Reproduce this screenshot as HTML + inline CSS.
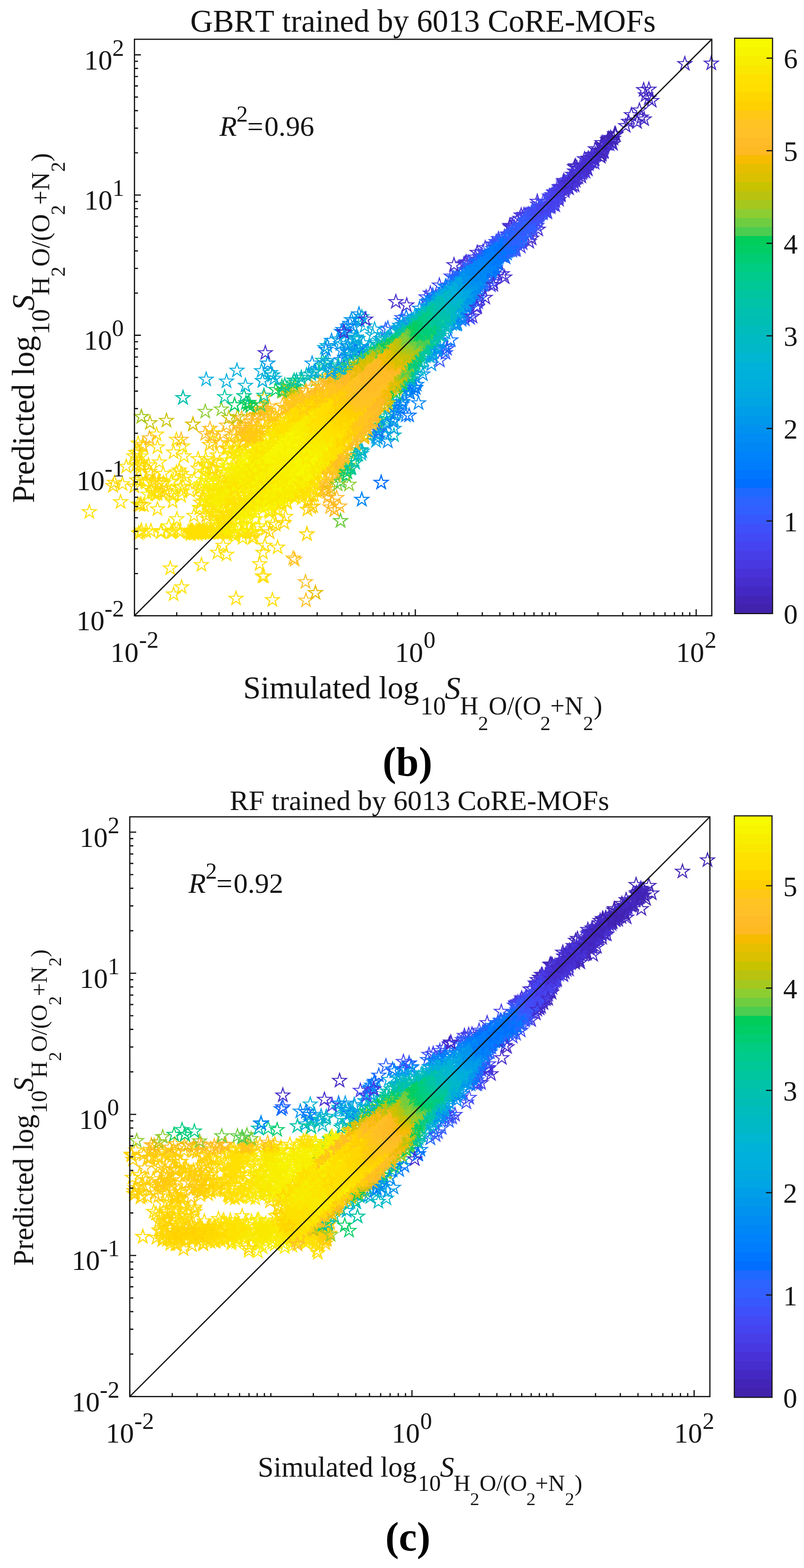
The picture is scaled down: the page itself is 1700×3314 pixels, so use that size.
<!DOCTYPE html>
<html><head><meta charset="utf-8"><title>GBRT and RF parity plots</title>
<style>html,body{margin:0;padding:0;background:#fff;}svg{display:block;}text{font-family:'Liberation Serif', 'Times New Roman', serif;font-kerning:none;fill:#141414;}</style></head><body>
<svg width="1700" height="3314" viewBox="0 0 1700 3314">
<defs><path id="st" d="M0.00,-15.40L3.46,-4.76L14.65,-4.76L5.59,1.82L9.05,12.46L0.00,5.88L-9.05,12.46L-5.59,1.82L-14.65,-4.76L-3.46,-4.76Z" fill="none" stroke-width="2.2" stroke-miterlimit="10"/></defs>
<text x="402.27" y="67.40" font-size="66.6">GBRT trained by 6013 CoRE-MOFs</text>
<defs>
<marker id="am0" markerUnits="userSpaceOnUse" overflow="visible" markerWidth="1" markerHeight="1"><use href="#st" stroke="#4022ac"/></marker>
<marker id="am1" markerUnits="userSpaceOnUse" overflow="visible" markerWidth="1" markerHeight="1"><use href="#st" stroke="#4224b6"/></marker>
<marker id="am2" markerUnits="userSpaceOnUse" overflow="visible" markerWidth="1" markerHeight="1"><use href="#st" stroke="#4428c3"/></marker>
<marker id="am3" markerUnits="userSpaceOnUse" overflow="visible" markerWidth="1" markerHeight="1"><use href="#st" stroke="#462dcd"/></marker>
<marker id="am4" markerUnits="userSpaceOnUse" overflow="visible" markerWidth="1" markerHeight="1"><use href="#st" stroke="#4832d7"/></marker>
<marker id="am5" markerUnits="userSpaceOnUse" overflow="visible" markerWidth="1" markerHeight="1"><use href="#st" stroke="#4838e1"/></marker>
<marker id="am6" markerUnits="userSpaceOnUse" overflow="visible" markerWidth="1" markerHeight="1"><use href="#st" stroke="#483ee8"/></marker>
<marker id="am7" markerUnits="userSpaceOnUse" overflow="visible" markerWidth="1" markerHeight="1"><use href="#st" stroke="#4644f0"/></marker>
<marker id="am8" markerUnits="userSpaceOnUse" overflow="visible" markerWidth="1" markerHeight="1"><use href="#st" stroke="#424af5"/></marker>
<marker id="am9" markerUnits="userSpaceOnUse" overflow="visible" markerWidth="1" markerHeight="1"><use href="#st" stroke="#3e50fa"/></marker>
<marker id="am10" markerUnits="userSpaceOnUse" overflow="visible" markerWidth="1" markerHeight="1"><use href="#st" stroke="#3758fc"/></marker>
<marker id="am11" markerUnits="userSpaceOnUse" overflow="visible" markerWidth="1" markerHeight="1"><use href="#st" stroke="#325fff"/></marker>
<marker id="am12" markerUnits="userSpaceOnUse" overflow="visible" markerWidth="1" markerHeight="1"><use href="#st" stroke="#2d64ff"/></marker>
<marker id="am13" markerUnits="userSpaceOnUse" overflow="visible" markerWidth="1" markerHeight="1"><use href="#st" stroke="#1e69ff"/></marker>
<marker id="am14" markerUnits="userSpaceOnUse" overflow="visible" markerWidth="1" markerHeight="1"><use href="#st" stroke="#006eff"/></marker>
<marker id="am15" markerUnits="userSpaceOnUse" overflow="visible" markerWidth="1" markerHeight="1"><use href="#st" stroke="#0076ff"/></marker>
<marker id="am16" markerUnits="userSpaceOnUse" overflow="visible" markerWidth="1" markerHeight="1"><use href="#st" stroke="#007dfd"/></marker>
<marker id="am17" markerUnits="userSpaceOnUse" overflow="visible" markerWidth="1" markerHeight="1"><use href="#st" stroke="#0082fa"/></marker>
<marker id="am18" markerUnits="userSpaceOnUse" overflow="visible" markerWidth="1" markerHeight="1"><use href="#st" stroke="#0087f6"/></marker>
<marker id="am19" markerUnits="userSpaceOnUse" overflow="visible" markerWidth="1" markerHeight="1"><use href="#st" stroke="#008cf2"/></marker>
<marker id="am20" markerUnits="userSpaceOnUse" overflow="visible" markerWidth="1" markerHeight="1"><use href="#st" stroke="#0092ee"/></marker>
<marker id="am21" markerUnits="userSpaceOnUse" overflow="visible" markerWidth="1" markerHeight="1"><use href="#st" stroke="#0098eb"/></marker>
<marker id="am22" markerUnits="userSpaceOnUse" overflow="visible" markerWidth="1" markerHeight="1"><use href="#st" stroke="#009ee8"/></marker>
<marker id="am23" markerUnits="userSpaceOnUse" overflow="visible" markerWidth="1" markerHeight="1"><use href="#st" stroke="#00a5e4"/></marker>
<marker id="am24" markerUnits="userSpaceOnUse" overflow="visible" markerWidth="1" markerHeight="1"><use href="#st" stroke="#00aae1"/></marker>
<marker id="am25" markerUnits="userSpaceOnUse" overflow="visible" markerWidth="1" markerHeight="1"><use href="#st" stroke="#00aede"/></marker>
<marker id="am26" markerUnits="userSpaceOnUse" overflow="visible" markerWidth="1" markerHeight="1"><use href="#st" stroke="#00b0dc"/></marker>
<marker id="am27" markerUnits="userSpaceOnUse" overflow="visible" markerWidth="1" markerHeight="1"><use href="#st" stroke="#00b2d7"/></marker>
<marker id="am28" markerUnits="userSpaceOnUse" overflow="visible" markerWidth="1" markerHeight="1"><use href="#st" stroke="#00b6d0"/></marker>
<marker id="am29" markerUnits="userSpaceOnUse" overflow="visible" markerWidth="1" markerHeight="1"><use href="#st" stroke="#00b8c8"/></marker>
<marker id="am30" markerUnits="userSpaceOnUse" overflow="visible" markerWidth="1" markerHeight="1"><use href="#st" stroke="#00bac3"/></marker>
<marker id="am31" markerUnits="userSpaceOnUse" overflow="visible" markerWidth="1" markerHeight="1"><use href="#st" stroke="#00bcbc"/></marker>
<marker id="am32" markerUnits="userSpaceOnUse" overflow="visible" markerWidth="1" markerHeight="1"><use href="#st" stroke="#00beb4"/></marker>
<marker id="am33" markerUnits="userSpaceOnUse" overflow="visible" markerWidth="1" markerHeight="1"><use href="#st" stroke="#00c1af"/></marker>
<marker id="am34" markerUnits="userSpaceOnUse" overflow="visible" markerWidth="1" markerHeight="1"><use href="#st" stroke="#00c3a8"/></marker>
<marker id="am35" markerUnits="userSpaceOnUse" overflow="visible" markerWidth="1" markerHeight="1"><use href="#st" stroke="#00c6a0"/></marker>
<marker id="am36" markerUnits="userSpaceOnUse" overflow="visible" markerWidth="1" markerHeight="1"><use href="#st" stroke="#00c896"/></marker>
<marker id="am37" markerUnits="userSpaceOnUse" overflow="visible" markerWidth="1" markerHeight="1"><use href="#st" stroke="#00ca8c"/></marker>
<marker id="am38" markerUnits="userSpaceOnUse" overflow="visible" markerWidth="1" markerHeight="1"><use href="#st" stroke="#00cd82"/></marker>
<marker id="am39" markerUnits="userSpaceOnUse" overflow="visible" markerWidth="1" markerHeight="1"><use href="#st" stroke="#00cd73"/></marker>
<marker id="am40" markerUnits="userSpaceOnUse" overflow="visible" markerWidth="1" markerHeight="1"><use href="#st" stroke="#00cd64"/></marker>
<marker id="am41" markerUnits="userSpaceOnUse" overflow="visible" markerWidth="1" markerHeight="1"><use href="#st" stroke="#00cd5a"/></marker>
<marker id="am42" markerUnits="userSpaceOnUse" overflow="visible" markerWidth="1" markerHeight="1"><use href="#st" stroke="#4bcd50"/></marker>
<marker id="am43" markerUnits="userSpaceOnUse" overflow="visible" markerWidth="1" markerHeight="1"><use href="#st" stroke="#6ecd41"/></marker>
<marker id="am44" markerUnits="userSpaceOnUse" overflow="visible" markerWidth="1" markerHeight="1"><use href="#st" stroke="#8ccd32"/></marker>
<marker id="am45" markerUnits="userSpaceOnUse" overflow="visible" markerWidth="1" markerHeight="1"><use href="#st" stroke="#a5c81e"/></marker>
<marker id="am46" markerUnits="userSpaceOnUse" overflow="visible" markerWidth="1" markerHeight="1"><use href="#st" stroke="#b9c30f"/></marker>
<marker id="am47" markerUnits="userSpaceOnUse" overflow="visible" markerWidth="1" markerHeight="1"><use href="#st" stroke="#c8c300"/></marker>
<marker id="am48" markerUnits="userSpaceOnUse" overflow="visible" markerWidth="1" markerHeight="1"><use href="#st" stroke="#dac000"/></marker>
<marker id="am49" markerUnits="userSpaceOnUse" overflow="visible" markerWidth="1" markerHeight="1"><use href="#st" stroke="#e6be00"/></marker>
<marker id="am50" markerUnits="userSpaceOnUse" overflow="visible" markerWidth="1" markerHeight="1"><use href="#st" stroke="#f5bc00"/></marker>
<marker id="am51" markerUnits="userSpaceOnUse" overflow="visible" markerWidth="1" markerHeight="1"><use href="#st" stroke="#ffb923"/></marker>
<marker id="am52" markerUnits="userSpaceOnUse" overflow="visible" markerWidth="1" markerHeight="1"><use href="#st" stroke="#ffbc28"/></marker>
<marker id="am53" markerUnits="userSpaceOnUse" overflow="visible" markerWidth="1" markerHeight="1"><use href="#st" stroke="#ffc028"/></marker>
<marker id="am54" markerUnits="userSpaceOnUse" overflow="visible" markerWidth="1" markerHeight="1"><use href="#st" stroke="#ffc323"/></marker>
<marker id="am55" markerUnits="userSpaceOnUse" overflow="visible" markerWidth="1" markerHeight="1"><use href="#st" stroke="#ffc814"/></marker>
<marker id="am56" markerUnits="userSpaceOnUse" overflow="visible" markerWidth="1" markerHeight="1"><use href="#st" stroke="#ffd000"/></marker>
<marker id="am57" markerUnits="userSpaceOnUse" overflow="visible" markerWidth="1" markerHeight="1"><use href="#st" stroke="#ffd700"/></marker>
<marker id="am58" markerUnits="userSpaceOnUse" overflow="visible" markerWidth="1" markerHeight="1"><use href="#st" stroke="#ffde00"/></marker>
<marker id="am59" markerUnits="userSpaceOnUse" overflow="visible" markerWidth="1" markerHeight="1"><use href="#st" stroke="#ffe100"/></marker>
<marker id="am60" markerUnits="userSpaceOnUse" overflow="visible" markerWidth="1" markerHeight="1"><use href="#st" stroke="#fae800"/></marker>
<marker id="am61" markerUnits="userSpaceOnUse" overflow="visible" markerWidth="1" markerHeight="1"><use href="#st" stroke="#f8ee00"/></marker>
<marker id="am62" markerUnits="userSpaceOnUse" overflow="visible" markerWidth="1" markerHeight="1"><use href="#st" stroke="#f8f500"/></marker>
<marker id="am63" markerUnits="userSpaceOnUse" overflow="visible" markerWidth="1" markerHeight="1"><use href="#st" stroke="#f8fa00"/></marker>
</defs>
<polyline points="410,1014 437,987 577,1106 451,1042 313,1045 357,1112 549,1029 483,947 309,1020" fill="none" stroke="none" marker-start="url(#am61)" marker-mid="url(#am61)" marker-end="url(#am61)"/>
<polyline points="385,1039 387,1028 365,1048 462,1053 373,998 362,1019 323,1041 297,984 435,970 360,1042 450,1082 374,1097 441,1006 558,1055 292,1066 562,1061 363,1017 510,1069 490,1028 599,1049 608,1050 466,1072 451,915 386,943 501,1041 471,1053 514,991 586,999 498,952 562,1040 328,1045 298,964 297,1014 298,1066 293,956 470,1125 411,1128 340,1125 309,1123 428,1126 404,1122 420,1124 444,1127 454,1120 438,1124 410,1127 474,1124 365,1124 398,1124 417,1125 450,1124 478,1126 459,1125 452,1125 469,1124 419,1125 466,1125 405,1124 490,1126 443,1126 495,1125 428,1122" fill="none" stroke="none" marker-start="url(#am60)" marker-mid="url(#am60)" marker-end="url(#am60)"/>
<polyline points="536,1133 321,1019 383,1048 307,1018 255,1061 452,1044 442,1006 419,970 402,1038 365,1060 433,1037 301,986 457,1073 288,983 472,1066 373,929 431,1052 503,1025 333,1041 452,975 389,964 423,1030 333,1076 384,1001 345,1001 410,1090 189,1082 382,1030 259,1023 434,982 314,983 487,1037 392,1008 505,1028 459,1040 534,1014 449,992 494,984 578,1037 555,999 447,1002 475,1057 485,938 539,1076 505,983 501,1009 584,995 503,993 543,973 505,996 539,1051 584,994 544,979 500,960 590,969 522,1014 463,1049 491,1014 506,974 462,1060 292,937 304,1068 337,977 283,964 404,1127 341,1123 402,1122 427,1124 415,1122 419,1121 381,1125 431,1123 362,1125 480,1129 470,1122 511,1127 470,1125 418,1129 513,1124 477,1124 407,1123 424,1124 432,1124 368,1121 408,1125 299,1121 514,1125 475,1124 410,1126 451,1126 430,1122 423,1124 403,1129 422,1122 469,1125 421,1126 445,1125 451,1123 466,1122 522,1125 445,1124 437,1122 433,1124 319,1122 297,1125 469,1123 415,1126 439,1125 444,1123 377,1121 533,1124 473,1124 446,1123 510,1123 443,1123" fill="none" stroke="none" marker-start="url(#am59)" marker-mid="url(#am59)" marker-end="url(#am59)"/>
<polyline points="534,1137 562,1118 604,1092 651,1062 660,1048 464,978 577,1057 379,994 510,1066 367,956 341,1040 497,1062 470,1051 332,1044 336,1016 331,918 574,1053 511,922 346,1021 468,1013 535,1042 555,977 596,1042 463,1122 522,1043 461,1021 509,1035 419,990 501,1085 549,1007 459,962 510,1031 594,1021 591,987 550,977 510,1021 567,1069 559,965 547,997 490,1027 528,983 534,1018 540,985 501,1027 321,1037 287,957 333,945 267,986 319,1002 537,1124 422,1121 403,1125 530,1125 293,1127 424,1123 406,1121" fill="none" stroke="none" marker-start="url(#am58)" marker-mid="url(#am58)" marker-end="url(#am58)"/>
<polyline points="583,1109 601,1105 479,948 500,935 650,1077 651,1058 664,1047 670,1039 239,1027 478,1031 424,1062 242,1020 421,1034 326,1016 289,1015 623,956 534,1017 527,984 593,1055 451,992 518,1008 586,940 484,1021 594,1061 336,1022 303,944 298,977 297,982 284,1028" fill="none" stroke="none" marker-start="url(#am57)" marker-mid="url(#am57)" marker-end="url(#am57)"/>
<polyline points="570,1125 443,940 449,935 496,918 662,1070 512,904 522,914 677,1034 684,1036 351,1038 316,997 473,998 480,1020 530,1021 551,1058 543,927 296,1067" fill="none" stroke="none" marker-start="url(#am56)" marker-mid="url(#am56)" marker-end="url(#am56)"/>
<polyline points="465,936 658,1072 507,904 688,1023 436,1090 302,940" fill="none" stroke="none" marker-start="url(#am55)" marker-mid="url(#am55)" marker-end="url(#am55)"/>
<polyline points="488,924 518,916 516,899 534,897 539,890 690,1026 685,1020 565,874 711,990 724,973" fill="none" stroke="none" marker-start="url(#am54)" marker-mid="url(#am54)" marker-end="url(#am54)"/>
<polyline points="507,908 533,890 689,1033 543,877 553,878 562,875 560,868 566,867 713,991 729,969 738,956 628,831" fill="none" stroke="none" marker-start="url(#am53)" marker-mid="url(#am53)" marker-end="url(#am53)"/>
<polyline points="519,909 511,884 692,1040 539,880 691,1019 710,1003 569,859 709,1000 611,840 624,831" fill="none" stroke="none" marker-start="url(#am52)" marker-mid="url(#am52)" marker-end="url(#am52)"/>
<polyline points="558,863 710,1004 613,834 742,951 771,921" fill="none" stroke="none" marker-start="url(#am51)" marker-mid="url(#am51)" marker-end="url(#am51)"/>
<polyline points="625,824 770,924" fill="none" stroke="none" marker-start="url(#am50)" marker-mid="url(#am50)" marker-end="url(#am50)"/>
<polyline points="529,866 700,1033 541,865 719,1004 608,830 611,831 770,925 690,797 793,893 701,794" fill="none" stroke="none" marker-start="url(#am49)" marker-mid="url(#am49)" marker-end="url(#am49)"/>
<polyline points="722,990 731,978" fill="none" stroke="none" marker-start="url(#am48)" marker-mid="url(#am48)" marker-end="url(#am48)"/>
<polyline points="559,840 619,824 777,919" fill="none" stroke="none" marker-start="url(#am47)" marker-mid="url(#am47)" marker-end="url(#am47)"/>
<polyline points="736,984 601,826 614,819 754,951 623,818 799,890 725,781" fill="none" stroke="none" marker-start="url(#am45)" marker-mid="url(#am45)" marker-end="url(#am45)"/>
<polyline points="714,1024 597,828 667,804" fill="none" stroke="none" marker-start="url(#am44)" marker-mid="url(#am44)" marker-end="url(#am44)"/>
<polyline points="730,994 730,994" fill="none" stroke="none" marker-start="url(#am43)" marker-mid="url(#am43)" marker-end="url(#am43)"/>
<polyline points="720,1018 596,826" fill="none" stroke="none" marker-start="url(#am42)" marker-mid="url(#am42)" marker-end="url(#am42)"/>
<polyline points="583,824 803,887" fill="none" stroke="none" marker-start="url(#am41)" marker-mid="url(#am41)" marker-end="url(#am41)"/>
<polyline points="734,998 734,998" fill="none" stroke="none" marker-start="url(#am40)" marker-mid="url(#am40)" marker-end="url(#am40)"/>
<polyline points="732,1005 596,817 619,810 637,806" fill="none" stroke="none" marker-start="url(#am39)" marker-mid="url(#am39)" marker-end="url(#am39)"/>
<polyline points="747,974 750,965 829,852" fill="none" stroke="none" marker-start="url(#am38)" marker-mid="url(#am38)" marker-end="url(#am38)"/>
<polyline points="800,900 800,900" fill="none" stroke="none" marker-start="url(#am37)" marker-mid="url(#am37)" marker-end="url(#am37)"/>
<polyline points="741,990 743,989 602,814 814,880 727,775" fill="none" stroke="none" marker-start="url(#am36)" marker-mid="url(#am36)" marker-end="url(#am36)"/>
<polyline points="627,804 726,775 754,759" fill="none" stroke="none" marker-start="url(#am35)" marker-mid="url(#am35)" marker-end="url(#am35)"/>
<polyline points="622,804 745,764" fill="none" stroke="none" marker-start="url(#am34)" marker-mid="url(#am34)" marker-end="url(#am34)"/>
<polyline points="757,961 763,952 762,951 872,801" fill="none" stroke="none" marker-start="url(#am33)" marker-mid="url(#am33)" marker-end="url(#am33)"/>
<polyline points="751,978 637,798 858,816" fill="none" stroke="none" marker-start="url(#am32)" marker-mid="url(#am32)" marker-end="url(#am32)"/>
<polyline points="658,791 815,885 824,873 777,743 833,920" fill="none" stroke="none" marker-start="url(#am31)" marker-mid="url(#am31)" marker-end="url(#am31)"/>
<polyline points="648,793 675,787 797,728" fill="none" stroke="none" marker-start="url(#am30)" marker-mid="url(#am30)" marker-end="url(#am30)"/>
<polyline points="833,861 862,812" fill="none" stroke="none" marker-start="url(#am29)" marker-mid="url(#am29)" marker-end="url(#am29)"/>
<polyline points="764,959 702,776 840,851 833,887" fill="none" stroke="none" marker-start="url(#am28)" marker-mid="url(#am28)" marker-end="url(#am28)"/>
<polyline points="766,954 667,785 777,739 879,797" fill="none" stroke="none" marker-start="url(#am27)" marker-mid="url(#am27)" marker-end="url(#am27)"/>
<polyline points="664,786 864,820 796,724" fill="none" stroke="none" marker-start="url(#am26)" marker-mid="url(#am26)" marker-end="url(#am26)"/>
<polyline points="866,819 867,819 783,733 814,918" fill="none" stroke="none" marker-start="url(#am25)" marker-mid="url(#am25)" marker-end="url(#am25)"/>
<polyline points="798,918 860,827 805,716 795,932" fill="none" stroke="none" marker-start="url(#am24)" marker-mid="url(#am24)" marker-end="url(#am24)"/>
<polyline points="795,923 798,918" fill="none" stroke="none" marker-start="url(#am23)" marker-mid="url(#am23)" marker-end="url(#am23)"/>
<polyline points="799,917 811,903 866,827 833,906" fill="none" stroke="none" marker-start="url(#am22)" marker-mid="url(#am22)" marker-end="url(#am22)"/>
<polyline points="845,688 929,735 799,926" fill="none" stroke="none" marker-start="url(#am21)" marker-mid="url(#am21)" marker-end="url(#am21)"/>
<polyline points="818,895 851,849 912,770" fill="none" stroke="none" marker-start="url(#am20)" marker-mid="url(#am20)" marker-end="url(#am20)"/>
<polyline points="851,851 754,742 894,791 820,933" fill="none" stroke="none" marker-start="url(#am19)" marker-mid="url(#am19)" marker-end="url(#am19)"/>
<polyline points="834,876 885,852 858,878 831,891" fill="none" stroke="none" marker-start="url(#am18)" marker-mid="url(#am18)" marker-end="url(#am18)"/>
<polyline points="721,761 729,756 850,855 877,819 881,813" fill="none" stroke="none" marker-start="url(#am17)" marker-mid="url(#am17)" marker-end="url(#am17)"/>
<polyline points="846,861 875,825 879,820 887,652 907,636 913,630" fill="none" stroke="none" marker-start="url(#am16)" marker-mid="url(#am16)" marker-end="url(#am16)"/>
<polyline points="839,869 759,737 763,734 867,831 849,678 937,741 903,638 976,676" fill="none" stroke="none" marker-start="url(#am15)" marker-mid="url(#am15)" marker-end="url(#am15)"/>
<polyline points="752,741 859,670 942,733 953,719 865,878" fill="none" stroke="none" marker-start="url(#am14)" marker-mid="url(#am14)" marker-end="url(#am14)"/>
<polyline points="820,694 915,624 801,912" fill="none" stroke="none" marker-start="url(#am13)" marker-mid="url(#am13)" marker-end="url(#am13)"/>
<polyline points="983,675 958,587" fill="none" stroke="none" marker-start="url(#am12)" marker-mid="url(#am12)" marker-end="url(#am12)"/>
<polyline points="815,697 942,746 1010,626" fill="none" stroke="none" marker-start="url(#am11)" marker-mid="url(#am11)" marker-end="url(#am11)"/>
<polyline points="930,762 850,672 945,737 990,668" fill="none" stroke="none" marker-start="url(#am10)" marker-mid="url(#am10)" marker-end="url(#am10)"/>
<polyline points="994,672 1011,639 1021,532 1042,516" fill="none" stroke="none" marker-start="url(#am9)" marker-mid="url(#am9)" marker-end="url(#am9)"/>
<polyline points="901,628 954,584 1015,630 990,555 1054,505" fill="none" stroke="none" marker-start="url(#am8)" marker-mid="url(#am8)" marker-end="url(#am8)"/>
<polyline points="929,603 1038,603 1043,596 1052,580" fill="none" stroke="none" marker-start="url(#am7)" marker-mid="url(#am7)" marker-end="url(#am7)"/>
<polyline points="910,620 1009,648 1005,544 1101,521" fill="none" stroke="none" marker-start="url(#am6)" marker-mid="url(#am6)" marker-end="url(#am6)"/>
<polyline points="981,558 986,554 1026,524 1082,481 1084,478 1094,465 1099,462 1108,454" fill="none" stroke="none" marker-start="url(#am5)" marker-mid="url(#am5)" marker-end="url(#am5)"/>
<polyline points="984,556 1062,579 1102,455 1136,426 1236,336" fill="none" stroke="none" marker-start="url(#am4)" marker-mid="url(#am4)" marker-end="url(#am4)"/>
<polyline points="1009,534 1079,480 1078,477 1119,511 1138,485" fill="none" stroke="none" marker-start="url(#am3)" marker-mid="url(#am3)" marker-end="url(#am3)"/>
<polyline points="1124,504 1215,392 1217,351 1259,315 1296,304" fill="none" stroke="none" marker-start="url(#am2)" marker-mid="url(#am2)" marker-end="url(#am2)"/>
<polyline points="1215,353 1273,302" fill="none" stroke="none" marker-start="url(#am1)" marker-mid="url(#am1)" marker-end="url(#am1)"/>
<polyline points="437,1017 576,1074 624,1041" fill="none" stroke="none" marker-start="url(#am63)" marker-mid="url(#am63)" marker-end="url(#am63)"/>
<polyline points="528,1111 471,993 478,984 592,1066 591,1064 595,1058 594,1058 502,955 607,1050 612,1046 617,1048 616,1047 625,1051 620,1042 652,1015" fill="none" stroke="none" marker-start="url(#am62)" marker-mid="url(#am62)" marker-end="url(#am62)"/>
<polyline points="424,1029 427,1023 450,1022 445,1016 432,997 547,1112 456,1017 540,1097 570,1083 482,973 487,960 595,1062 607,1063 509,962 512,955 620,1042 529,950 541,945 631,1031 633,1033 648,1039 645,1035 648,1025 660,1013 657,1009 691,979" fill="none" stroke="none" marker-start="url(#am61)" marker-mid="url(#am61)" marker-end="url(#am61)"/>
<polyline points="493,1130 497,1133 513,1137 568,1080 574,1080 584,1077 487,958 512,967 503,955 600,1053 516,957 618,1048 634,1044 636,1032 641,1023 646,1021 660,1030 664,1019 666,1003 678,986 689,974 708,958" fill="none" stroke="none" marker-start="url(#am60)" marker-mid="url(#am60)" marker-end="url(#am60)"/>
<polyline points="588,1079 607,1061 638,1053 631,1043 639,1046 637,1041 541,940 551,935 646,1023 649,1020 659,1014 664,1012 668,1004 579,911 582,906 581,906 675,989 588,897 690,983 703,971 707,965 703,959" fill="none" stroke="none" marker-start="url(#am59)" marker-mid="url(#am59)" marker-end="url(#am59)"/>
<polyline points="527,929 533,932 543,936 663,1037 570,906 671,999 574,901 680,1003 682,993 683,982 687,980 698,975 703,975 697,966 706,959 709,958 713,961 621,863 715,956" fill="none" stroke="none" marker-start="url(#am58)" marker-mid="url(#am58)" marker-end="url(#am58)"/>
<polyline points="512,936 526,929 532,926 548,923 550,921 552,911 574,894 583,887 693,989 698,981 693,977 705,985 610,874 706,965 615,866 723,947 730,938" fill="none" stroke="none" marker-start="url(#am57)" marker-mid="url(#am57)" marker-end="url(#am57)"/>
<polyline points="515,933 527,919 533,919 542,919 544,904 560,905 573,893 573,875 589,888 690,987 596,886 616,878 606,863 712,969 613,866 623,862 725,954 625,844 733,941 729,934 650,852 648,849 730,929 651,837 672,835 763,916 779,878" fill="none" stroke="none" marker-start="url(#am56)" marker-mid="url(#am56)" marker-end="url(#am56)"/>
<polyline points="520,922 524,918 546,924 543,915 548,906 695,1005 582,879 699,991 607,863 609,861 622,855 627,855 619,847 636,856 631,851 643,854 638,847 666,835 677,835 761,917 676,829 769,892 776,889 720,807" fill="none" stroke="none" marker-start="url(#am55)" marker-mid="url(#am55)" marker-end="url(#am55)"/>
<polyline points="518,923 696,1002 705,993 597,857 715,972 617,854 728,965 730,963 636,841 752,938 745,930 747,927 748,924 666,843 669,832 758,916 681,830 766,903 771,901 777,889 701,813 707,814 702,809 783,875" fill="none" stroke="none" marker-start="url(#am54)" marker-mid="url(#am54)" marker-end="url(#am54)"/>
<polyline points="576,880 602,862 647,831 647,826 671,836 675,817 774,899 698,814 774,890 692,807 700,813 779,891 787,896 709,810 786,876 792,877 792,874 791,866" fill="none" stroke="none" marker-start="url(#am53)" marker-mid="url(#am53)" marker-end="url(#am53)"/>
<polyline points="717,978 719,978 719,969 750,933 750,919 676,812 683,817 777,906 777,904 777,894 780,892 699,810 699,804 708,806 705,795 790,880 714,801 790,872 789,868 790,868 729,801 801,858 813,855 758,779" fill="none" stroke="none" marker-start="url(#am52)" marker-mid="url(#am52)" marker-end="url(#am52)"/>
<polyline points="658,819 790,890 704,794 722,807 726,800 733,791 739,792 742,791 744,789 809,846 817,834" fill="none" stroke="none" marker-start="url(#am51)" marker-mid="url(#am51)" marker-end="url(#am51)"/>
<polyline points="701,800 728,797 729,796 737,788 814,859 745,789 747,782 816,843 824,824" fill="none" stroke="none" marker-start="url(#am50)" marker-mid="url(#am50)" marker-end="url(#am50)"/>
<polyline points="721,790 732,787 741,790 738,784 809,843 748,779 817,843 828,820" fill="none" stroke="none" marker-start="url(#am49)" marker-mid="url(#am49)" marker-end="url(#am49)"/>
<polyline points="821,840 756,770 760,771 761,769 767,772 769,768 829,820 787,756" fill="none" stroke="none" marker-start="url(#am48)" marker-mid="url(#am48)" marker-end="url(#am48)"/>
<polyline points="820,852 759,771 761,770 829,825 837,810" fill="none" stroke="none" marker-start="url(#am47)" marker-mid="url(#am47)" marker-end="url(#am47)"/>
<polyline points="748,771 774,760 837,822 839,820 841,817 845,801" fill="none" stroke="none" marker-start="url(#am46)" marker-mid="url(#am46)" marker-end="url(#am46)"/>
<polyline points="782,754 782,754" fill="none" stroke="none" marker-start="url(#am45)" marker-mid="url(#am45)" marker-end="url(#am45)"/>
<polyline points="724,782 772,758" fill="none" stroke="none" marker-start="url(#am44)" marker-mid="url(#am44)" marker-end="url(#am44)"/>
<polyline points="774,759 777,754 788,749 850,810 851,803 853,798" fill="none" stroke="none" marker-start="url(#am43)" marker-mid="url(#am43)" marker-end="url(#am43)"/>
<polyline points="739,773 777,753 800,741 864,792 812,735" fill="none" stroke="none" marker-start="url(#am42)" marker-mid="url(#am42)" marker-end="url(#am42)"/>
<polyline points="838,831 851,810 797,740" fill="none" stroke="none" marker-start="url(#am41)" marker-mid="url(#am41)" marker-end="url(#am41)"/>
<polyline points="864,794 864,794" fill="none" stroke="none" marker-start="url(#am40)" marker-mid="url(#am40)" marker-end="url(#am40)"/>
<polyline points="806,736 806,736" fill="none" stroke="none" marker-start="url(#am39)" marker-mid="url(#am39)" marker-end="url(#am39)"/>
<polyline points="764,757 870,787 811,727 870,778 879,768" fill="none" stroke="none" marker-start="url(#am38)" marker-mid="url(#am38)" marker-end="url(#am38)"/>
<polyline points="872,776 884,763" fill="none" stroke="none" marker-start="url(#am37)" marker-mid="url(#am37)" marker-end="url(#am37)"/>
<polyline points="784,744 868,795 878,774" fill="none" stroke="none" marker-start="url(#am36)" marker-mid="url(#am36)" marker-end="url(#am36)"/>
<polyline points="891,766 682,772 682,762 715,772 717,793" fill="none" stroke="none" marker-start="url(#am34)" marker-mid="url(#am34)" marker-end="url(#am34)"/>
<polyline points="867,802 855,698 909,734 915,726" fill="none" stroke="none" marker-start="url(#am32)" marker-mid="url(#am32)" marker-end="url(#am32)"/>
<polyline points="801,730 848,701 898,750 855,697 914,727 688,767" fill="none" stroke="none" marker-start="url(#am31)" marker-mid="url(#am31)" marker-end="url(#am31)"/>
<polyline points="817,717 823,715 895,758 844,700 879,677 930,709 739,744 757,716 765,670 729,786" fill="none" stroke="none" marker-start="url(#am30)" marker-mid="url(#am30)" marker-end="url(#am30)"/>
<polyline points="886,780 900,753 848,697 902,751 863,687 866,687 912,731 873,678 739,750 750,717" fill="none" stroke="none" marker-start="url(#am29)" marker-mid="url(#am29)" marker-end="url(#am29)"/>
<polyline points="820,714 890,778" fill="none" stroke="none" marker-start="url(#am28)" marker-mid="url(#am28)" marker-end="url(#am28)"/>
<polyline points="897,657 947,691 960,673 761,746 752,715 750,728 687,735 788,708 735,780" fill="none" stroke="none" marker-start="url(#am27)" marker-mid="url(#am27)" marker-end="url(#am27)"/>
<polyline points="846,692 913,747 894,660 942,703 905,654 921,637 771,689 792,696 717,779 732,739 698,787" fill="none" stroke="none" marker-start="url(#am26)" marker-mid="url(#am26)" marker-end="url(#am26)"/>
<polyline points="824,709 909,753 915,744 916,744 877,669 895,657 909,647 915,643 928,630 692,731" fill="none" stroke="none" marker-start="url(#am25)" marker-mid="url(#am25)" marker-end="url(#am25)"/>
<polyline points="844,696 844,694 862,682 932,722 885,666 893,660 956,685 971,661 768,725 746,732 692,763 714,717" fill="none" stroke="none" marker-start="url(#am24)" marker-mid="url(#am24)" marker-end="url(#am24)"/>
<polyline points="852,686 870,675 893,659 903,648 961,677 720,727 753,713 729,703 690,768 738,709" fill="none" stroke="none" marker-start="url(#am23)" marker-mid="url(#am23)" marker-end="url(#am23)"/>
<polyline points="915,749 924,739 963,675 940,619 757,675 700,783" fill="none" stroke="none" marker-start="url(#am22)" marker-mid="url(#am22)" marker-end="url(#am22)"/>
<polyline points="905,648 962,685 915,634 964,676 967,671 935,621 979,651 953,606 743,676 736,731 660,768 748,691 761,678" fill="none" stroke="none" marker-start="url(#am21)" marker-mid="url(#am21)" marker-end="url(#am21)"/>
<polyline points="967,684 929,624 965,596 735,744 723,741 701,720" fill="none" stroke="none" marker-start="url(#am20)" marker-mid="url(#am20)" marker-end="url(#am20)"/>
<polyline points="926,737 966,686 986,650 991,644 999,626 759,664 740,684" fill="none" stroke="none" marker-start="url(#am19)" marker-mid="url(#am19)" marker-end="url(#am19)"/>
<polyline points="908,637 973,669 993,637 961,599 725,697 689,739 722,701" fill="none" stroke="none" marker-start="url(#am18)" marker-mid="url(#am18)" marker-end="url(#am18)"/>
<polyline points="977,671 988,642 991,643 1004,616 735,690" fill="none" stroke="none" marker-start="url(#am17)" marker-mid="url(#am17)" marker-end="url(#am17)"/>
<polyline points="916,630 966,592 978,583" fill="none" stroke="none" marker-start="url(#am16)" marker-mid="url(#am16)" marker-end="url(#am16)"/>
<polyline points="940,612 942,606 943,605 997,634 969,590 970,588 1008,553 1039,576" fill="none" stroke="none" marker-start="url(#am15)" marker-mid="url(#am15)" marker-end="url(#am15)"/>
<polyline points="989,649 971,586 1013,619 1020,602" fill="none" stroke="none" marker-start="url(#am14)" marker-mid="url(#am14)" marker-end="url(#am14)"/>
<polyline points="1003,634 961,589 964,588 1023,601 1032,588 1036,580 1020,545 1042,526" fill="none" stroke="none" marker-start="url(#am13)" marker-mid="url(#am13)" marker-end="url(#am13)"/>
<polyline points="1018,609 983,570 1030,598 997,561 1033,588 1010,552 1049,573 1051,518" fill="none" stroke="none" marker-start="url(#am12)" marker-mid="url(#am12)" marker-end="url(#am12)"/>
<polyline points="966,585 992,562 1015,548 1047,522 1064,506 1088,528" fill="none" stroke="none" marker-start="url(#am11)" marker-mid="url(#am11)" marker-end="url(#am11)"/>
<polyline points="1053,516 1053,515 1051,513 1049,511 1090,523" fill="none" stroke="none" marker-start="url(#am10)" marker-mid="url(#am10)" marker-end="url(#am10)"/>
<polyline points="1007,549 1046,518 1055,513 1091,528 1067,500 1073,496 1119,494 1126,445 1130,443" fill="none" stroke="none" marker-start="url(#am9)" marker-mid="url(#am9)" marker-end="url(#am9)"/>
<polyline points="1015,542 1135,477" fill="none" stroke="none" marker-start="url(#am8)" marker-mid="url(#am8)" marker-end="url(#am8)"/>
<polyline points="1075,495 1105,514 1087,482 1088,481 1120,493 1127,486 1110,457 1117,453 1119,454 1157,447" fill="none" stroke="none" marker-start="url(#am7)" marker-mid="url(#am7)" marker-end="url(#am7)"/>
<polyline points="1137,432 1157,449 1174,434 1172,431 1238,363" fill="none" stroke="none" marker-start="url(#am6)" marker-mid="url(#am6)" marker-end="url(#am6)"/>
<polyline points="1112,455 1164,438 1210,393" fill="none" stroke="none" marker-start="url(#am5)" marker-mid="url(#am5)" marker-end="url(#am5)"/>
<polyline points="1182,422 1210,392 1217,382 1228,349 1257,344" fill="none" stroke="none" marker-start="url(#am4)" marker-mid="url(#am4)" marker-end="url(#am4)"/>
<polyline points="1220,356 1220,356" fill="none" stroke="none" marker-start="url(#am3)" marker-mid="url(#am3)" marker-end="url(#am3)"/>
<polyline points="1203,398 1229,373 1243,358 1272,327 1287,293" fill="none" stroke="none" marker-start="url(#am2)" marker-mid="url(#am2)" marker-end="url(#am2)"/>
<polyline points="1270,331 1270,331" fill="none" stroke="none" marker-start="url(#am1)" marker-mid="url(#am1)" marker-end="url(#am1)"/>
<polyline points="509,1111 460,1047 497,1025 551,1070 492,999 568,1067 573,1063 567,1051 518,995 519,986 519,985 591,1056 584,1044 597,1051 529,983 521,974 582,1033 585,1034 593,1031 591,1026 536,970 536,969 548,981 595,1024 542,966 545,967 602,1024 539,960 607,1027 556,976 558,971 547,957 561,971 621,1030 562,966 562,958 569,963 624,1019 616,1008 620,1012 621,1012 627,1017 621,1009 625,1011 632,1018 565,949 623,1001 631,1007 633,1008 631,1003 637,1010 644,1014 570,939 642,1010 629,998 582,950 631,1000 579,949 630,994 636,1000 575,940 584,948 638,996 576,935 640,999 642,999 636,993 636,990 590,941 648,995 590,935 648,992 650,994 643,986 592,926 600,934 597,928 653,983 656,982 660,984 655,979 597,919 652,973 665,983 658,968 669,977 606,914 614,920 612,918 660,965 664,968 662,966 613,915 678,979 672,972 663,965 668,967 669,967 618,911 621,914 621,913 620,905 677,961 624,905 682,952 630,897 682,945 635,895 638,897 692,946 695,943 696,940" fill="none" stroke="none" marker-start="url(#am63)" marker-mid="url(#am63)" marker-end="url(#am63)"/>
<polyline points="440,1062 450,1054 461,1043 515,1097 482,1037 530,1079 532,1080 486,1027 488,1013 497,1007 493,998 561,1062 563,1065 504,991 508,987 571,1045 580,1052 583,1053 580,1048 583,1047 587,1045 592,1046 518,970 539,990 598,1036 537,975 593,1025 599,1031 550,981 543,968 602,1018 556,970 609,1021 542,953 608,1017 554,958 556,953 574,960 636,1016 562,941 564,942 633,1003 633,999 640,1000 588,941 590,939 591,936 655,1001 592,935 658,992 603,935 593,921 653,981 659,986 658,981 655,977 607,926 606,920 608,923 667,979 611,913 615,912 612,908 618,914 671,959 621,909 683,968 618,903 675,957 675,949 692,948 688,943 639,893 648,889 648,890 696,936 648,889 703,942 697,933 696,930 699,928" fill="none" stroke="none" marker-start="url(#am62)" marker-mid="url(#am62)" marker-end="url(#am62)"/>
<polyline points="483,1120 481,1110 487,1112 442,1061 444,1058 446,1060 440,1050 501,1098 450,1034 470,1047 523,1095 472,1040 465,1016 542,1085 500,1021 481,1000 491,1004 499,1010 506,1015 508,1011 506,1008 502,995 517,1005 517,1002 521,998 588,1057 594,1049 534,988 542,989 598,1042 602,1037 606,1040 550,979 611,1039 603,1029 536,955 611,1022 560,971 621,1031 622,1028 568,966 621,1016 621,1012 568,957 645,1016 572,940 583,931 579,925 594,941 591,936 578,921 650,987 657,992 656,987 592,922 655,982 666,991 607,928 599,909 671,982 664,973 660,964 678,979 617,911 668,962 608,899 685,974 606,894 688,969 621,897 693,959 689,951 630,890 638,887 633,881 697,945 697,945 699,945 700,942 701,938 699,935 699,936 648,884 701,936 653,884 708,937 653,882 700,928 706,931 707,932 659,881 706,925 664,883 712,929 656,869 722,911 728,906" fill="none" stroke="none" marker-start="url(#am61)" marker-mid="url(#am61)" marker-end="url(#am61)"/>
<polyline points="422,1073 422,1074 473,1118 437,1071 430,1059 441,1041 515,1109 457,1038 514,1094 471,1049 524,1079 473,1022 493,1024 541,1069 491,1017 569,1057 580,1051 532,986 595,1042 535,958 547,949 552,949 626,1017 636,1023 563,947 580,941 570,926 579,912 670,992 599,906 609,909 608,905 680,976 666,961 621,901 693,960 624,887 698,960 695,956 700,956 704,956 700,948 636,884 641,887 696,943 701,944 634,878 708,948 711,940 701,928 714,939 661,884 662,882 709,927 656,872 665,879 708,920 663,870 670,876 715,920 718,923 672,868 719,915 678,871 722,914 728,919 726,910 725,910 681,866 723,907 724,905 733,897" fill="none" stroke="none" marker-start="url(#am60)" marker-mid="url(#am60)" marker-end="url(#am60)"/>
<polyline points="543,961 590,905 601,903 595,896 603,893 696,962 629,887 623,881 639,885 705,944 646,884 638,873 638,872 707,940 639,868 715,943 712,935 710,931 649,868 721,937 646,862 653,870 721,934 673,875 727,927 664,859 726,916 733,922 725,908 727,909 681,858 726,903 686,862 729,902 734,893 692,851 737,888 743,885 742,883 747,883 747,883 747,881" fill="none" stroke="none" marker-start="url(#am59)" marker-mid="url(#am59)" marker-end="url(#am59)"/>
<polyline points="580,916 617,881 619,882 623,877 627,872 631,868 712,946 642,870 650,869 650,863 662,861 726,924 663,859 724,920 729,924 727,913 676,863 666,851 724,908 727,900 683,853 690,858 692,858 735,900 690,853 739,901 686,846 745,898 691,845 702,847 747,888 749,885 753,882 758,869" fill="none" stroke="none" marker-start="url(#am58)" marker-mid="url(#am58)" marker-end="url(#am58)"/>
<polyline points="627,879 657,858 733,919 735,916 734,915 686,857 733,898 687,852 747,905 695,850 735,890 739,893 743,895 694,844 746,893 753,899 702,847 705,846 744,883 707,841 710,840 758,885 750,876 762,886 760,878 760,877 719,833 757,870 761,870 763,867 726,826 764,863" fill="none" stroke="none" marker-start="url(#am57)" marker-mid="url(#am57)" marker-end="url(#am57)"/>
<polyline points="721,932 660,853 660,851 671,842 676,842 743,910 689,834 754,892 754,893 752,889 744,880 705,840 754,887 755,886 758,879 709,829 717,835 757,871 767,878 717,827 758,866 764,870 722,826 720,822 762,862 721,821 772,869 770,867 764,860 764,862 777,869 773,860" fill="none" stroke="none" marker-start="url(#am56)" marker-mid="url(#am56)" marker-end="url(#am56)"/>
<polyline points="642,864 679,851 743,913 676,840 755,900 753,894 700,840 759,892 709,839 757,885 702,830 760,887 754,879 714,835 716,834 707,822 769,882 761,874 760,872 765,876 726,827 718,816 732,827 770,864 767,862 776,869 768,858 775,865 770,854 728,811 778,858 740,820 772,851 783,840 755,808 787,840 792,835 802,821 806,815" fill="none" stroke="none" marker-start="url(#am55)" marker-mid="url(#am55)" marker-end="url(#am55)"/>
<polyline points="692,828 762,888 768,887 703,822 716,830 767,878 767,872 717,822 771,865 722,817 733,819 773,858 736,817 783,862 782,858 779,851 789,853 745,808 782,843 785,843 788,845 751,808 749,791 797,833 770,785 774,784 808,815 787,777 822,797" fill="none" stroke="none" marker-start="url(#am54)" marker-mid="url(#am54)" marker-end="url(#am54)"/>
<polyline points="727,817 781,869 723,808 728,811 732,812 734,813 732,808 735,810 787,858 743,808 746,799 754,802 800,841 760,800 760,798 807,835 761,789 806,831 801,825 803,821 768,785 775,784 815,806 824,805 822,802 795,770" fill="none" stroke="none" marker-start="url(#am53)" marker-mid="url(#am53)" marker-end="url(#am53)"/>
<polyline points="720,816 775,857 735,810 735,804 737,806 794,854 788,846 740,798 750,806 797,852 748,800 795,848 794,841 801,843 802,841 762,799 803,840 757,791 800,834 797,830 765,796 768,796 802,829 798,824 804,828 810,830 775,782 812,810 785,779 784,774 823,811 789,772 822,798 795,770" fill="none" stroke="none" marker-start="url(#am52)" marker-mid="url(#am52)" marker-end="url(#am52)"/>
<polyline points="734,810 739,804 798,853 803,842 751,788 807,838 808,837 764,784 763,780 765,779 772,783 810,820 777,780 784,775 786,776 788,771 825,808 825,804 824,800 827,800 798,766 798,762 803,763 803,763 813,751 850,768" fill="none" stroke="none" marker-start="url(#am51)" marker-mid="url(#am51)" marker-end="url(#am51)"/>
<polyline points="806,832 814,827 817,826 769,776 812,820 812,810 826,816 784,774 825,811 827,807 837,807 796,762 836,804 799,765 834,799 802,761 808,756 841,778 844,773 823,746" fill="none" stroke="none" marker-start="url(#am50)" marker-mid="url(#am50)" marker-end="url(#am50)"/>
<polyline points="751,789 762,784 774,776 775,769 779,769 824,813 823,805 833,813 784,764 788,761 836,797 842,793 847,788 818,744 852,765 854,764" fill="none" stroke="none" marker-start="url(#am49)" marker-mid="url(#am49)" marker-end="url(#am49)"/>
<polyline points="758,783 794,761 793,756 802,751 813,754 844,781 815,749 848,782 850,782 818,746 848,775 852,776 823,745 824,744" fill="none" stroke="none" marker-start="url(#am48)" marker-mid="url(#am48)" marker-end="url(#am48)"/>
<polyline points="772,776 776,767 836,809 791,757 841,797 803,756 806,752 851,793 828,737 859,763 862,755" fill="none" stroke="none" marker-start="url(#am47)" marker-mid="url(#am47)" marker-end="url(#am47)"/>
<polyline points="797,754 802,750 844,790 850,790 810,748 851,784 818,742 821,743 823,743 853,767 859,773 865,756 869,754 873,751" fill="none" stroke="none" marker-start="url(#am46)" marker-mid="url(#am46)" marker-end="url(#am46)"/>
<polyline points="849,792 852,789 850,782 856,786 822,735 865,772 859,762 862,757 836,730 869,754 841,726 869,751 885,732" fill="none" stroke="none" marker-start="url(#am45)" marker-mid="url(#am45)" marker-end="url(#am45)"/>
<polyline points="802,744 856,784 818,740 818,740 821,739 866,760 837,723 841,724 842,722 878,695 878,693" fill="none" stroke="none" marker-start="url(#am44)" marker-mid="url(#am44)" marker-end="url(#am44)"/>
<polyline points="856,788 863,761 834,726 843,723 846,720 846,720 888,734" fill="none" stroke="none" marker-start="url(#am43)" marker-mid="url(#am43)" marker-end="url(#am43)"/>
<polyline points="804,744 811,738 860,782 819,731 873,760 877,751 848,717 856,709 859,709 891,730 889,727 895,727 898,719" fill="none" stroke="none" marker-start="url(#am42)" marker-mid="url(#am42)" marker-end="url(#am42)"/>
<polyline points="821,733 835,723 879,752 882,753 886,741 867,702 868,700 869,698 874,695 875,694 901,714 903,715 911,707" fill="none" stroke="none" marker-start="url(#am41)" marker-mid="url(#am41)" marker-end="url(#am41)"/>
<polyline points="817,732 872,761 837,719 842,717 843,717 902,720 907,716 887,687 892,681 914,702 906,669" fill="none" stroke="none" marker-start="url(#am40)" marker-mid="url(#am40)" marker-end="url(#am40)"/>
<polyline points="872,770 874,766 878,759 881,754 844,716 845,713 844,712 895,737 879,689 887,686 913,711 909,707 914,711 912,708 889,681 913,702 893,681 902,670" fill="none" stroke="none" marker-start="url(#am39)" marker-mid="url(#am39)" marker-end="url(#am39)"/>
<polyline points="880,760 844,712 848,713 850,709 890,741 857,705 906,724 905,721 887,679 918,707 898,675 901,670 903,670 904,667 905,666" fill="none" stroke="none" marker-start="url(#am38)" marker-mid="url(#am38)" marker-end="url(#am38)"/>
<polyline points="887,751 889,748 898,733 901,732 907,722 911,718 913,711 885,679 894,673 924,697 903,666" fill="none" stroke="none" marker-start="url(#am37)" marker-mid="url(#am37)" marker-end="url(#am37)"/>
<polyline points="889,749 898,736 899,730 917,712 920,704 893,673 900,668 905,666 906,664 907,663 936,681 917,657 918,657 916,655" fill="none" stroke="none" marker-start="url(#am36)" marker-mid="url(#am36)" marker-end="url(#am36)"/>
<polyline points="850,705 915,719 894,669 907,661 938,684 940,676" fill="none" stroke="none" marker-start="url(#am35)" marker-mid="url(#am35)" marker-end="url(#am35)"/>
<polyline points="891,673 899,666 902,664 907,658 937,682 913,657 912,653 916,652 948,669 928,644" fill="none" stroke="none" marker-start="url(#am34)" marker-mid="url(#am34)" marker-end="url(#am34)"/>
<polyline points="901,739 867,693 919,715 882,680 923,710 887,674 926,705 934,697 914,653 928,643" fill="none" stroke="none" marker-start="url(#am33)" marker-mid="url(#am33)" marker-end="url(#am33)"/>
<polyline points="851,703 885,673 929,697 933,696 941,689 909,657 946,676 949,678 921,644 953,664 956,654" fill="none" stroke="none" marker-start="url(#am32)" marker-mid="url(#am32)" marker-end="url(#am32)"/>
<polyline points="929,705 954,670 927,642 957,659" fill="none" stroke="none" marker-start="url(#am31)" marker-mid="url(#am31)" marker-end="url(#am31)"/>
<polyline points="942,688 935,635 936,633 963,649 974,637" fill="none" stroke="none" marker-start="url(#am30)" marker-mid="url(#am30)" marker-end="url(#am30)"/>
<polyline points="906,655 938,629 940,628 967,645 969,640 958,615" fill="none" stroke="none" marker-start="url(#am29)" marker-mid="url(#am29)" marker-end="url(#am29)"/>
<polyline points="928,639 938,631 965,658 940,627 947,624 951,620" fill="none" stroke="none" marker-start="url(#am28)" marker-mid="url(#am28)" marker-end="url(#am28)"/>
<polyline points="950,679 947,621 948,620 975,634 963,609" fill="none" stroke="none" marker-start="url(#am27)" marker-mid="url(#am27)" marker-end="url(#am27)"/>
<polyline points="963,658 938,626 949,618 977,639 957,610 963,610" fill="none" stroke="none" marker-start="url(#am26)" marker-mid="url(#am26)" marker-end="url(#am26)"/>
<polyline points="934,627 972,648 978,636 969,605 971,603 972,600" fill="none" stroke="none" marker-start="url(#am25)" marker-mid="url(#am25)" marker-end="url(#am25)"/>
<polyline points="940,625 947,617 985,628 990,620 996,611" fill="none" stroke="none" marker-start="url(#am24)" marker-mid="url(#am24)" marker-end="url(#am24)"/>
<polyline points="974,648 983,640 983,623 980,590" fill="none" stroke="none" marker-start="url(#am23)" marker-mid="url(#am23)" marker-end="url(#am23)"/>
<polyline points="986,636 992,624 978,593 978,591" fill="none" stroke="none" marker-start="url(#am22)" marker-mid="url(#am22)" marker-end="url(#am22)"/>
<polyline points="981,640 953,609 988,632 989,630 989,626 994,622 1005,600" fill="none" stroke="none" marker-start="url(#am21)" marker-mid="url(#am21)" marker-end="url(#am21)"/>
<polyline points="963,601 974,592 1000,614 1007,606 1005,604 988,580 1010,598 995,578 1008,565 1022,579" fill="none" stroke="none" marker-start="url(#am20)" marker-mid="url(#am20)" marker-end="url(#am20)"/>
<polyline points="998,622 1004,607 984,579 987,579 988,580 1000,573 1020,589 1002,569 1020,584 1004,566 1031,571 1035,567" fill="none" stroke="none" marker-start="url(#am19)" marker-mid="url(#am19)" marker-end="url(#am19)"/>
<polyline points="1010,599 1012,598 1016,596 1040,564" fill="none" stroke="none" marker-start="url(#am18)" marker-mid="url(#am18)" marker-end="url(#am18)"/>
<polyline points="1008,607 1029,548 1042,560" fill="none" stroke="none" marker-start="url(#am17)" marker-mid="url(#am17)" marker-end="url(#am17)"/>
<polyline points="994,572 1039,572 1044,569 1026,546 1026,545 1036,541 1040,534 1066,542 1066,538" fill="none" stroke="none" marker-start="url(#am16)" marker-mid="url(#am16)" marker-end="url(#am16)"/>
<polyline points="1041,571 1024,547 1041,564 1031,544 1041,536 1044,533 1043,531 1043,531 1062,541 1064,540 1072,536 1057,518 1073,531 1082,524 1095,509 1085,497" fill="none" stroke="none" marker-start="url(#am15)" marker-mid="url(#am15)" marker-end="url(#am15)"/>
<polyline points="1012,554 1037,576 1047,566 1052,557 1036,534 1058,516 1076,529 1068,510 1084,518" fill="none" stroke="none" marker-start="url(#am14)" marker-mid="url(#am14)" marker-end="url(#am14)"/>
<polyline points="1017,551 1068,543 1069,544 1074,530 1083,527 1067,509 1072,507 1087,519 1096,511 1085,495 1105,504" fill="none" stroke="none" marker-start="url(#am13)" marker-mid="url(#am13)" marker-end="url(#am13)"/>
<polyline points="1078,529 1100,509 1100,505 1091,487 1121,482 1110,469" fill="none" stroke="none" marker-start="url(#am12)" marker-mid="url(#am12)" marker-end="url(#am12)"/>
<polyline points="1052,518 1083,530 1074,501 1078,498 1082,491 1084,491 1102,479 1100,477 1115,488 1113,467 1113,465 1120,460 1122,458 1147,451 1140,438" fill="none" stroke="none" marker-start="url(#am11)" marker-mid="url(#am11)" marker-end="url(#am11)"/>
<polyline points="1099,477 1112,467 1128,472 1123,452 1130,449 1133,449 1134,444 1139,440 1141,440 1167,430" fill="none" stroke="none" marker-start="url(#am10)" marker-mid="url(#am10)" marker-end="url(#am10)"/>
<polyline points="1125,481 1117,463 1116,461 1133,467 1139,460 1148,449 1154,445 1153,426" fill="none" stroke="none" marker-start="url(#am9)" marker-mid="url(#am9)" marker-end="url(#am9)"/>
<polyline points="1118,460 1160,437 1170,426 1162,415" fill="none" stroke="none" marker-start="url(#am8)" marker-mid="url(#am8)" marker-end="url(#am8)"/>
<polyline points="1138,468 1134,444 1152,446 1149,426 1169,432 1172,423 1173,423 1171,406 1194,400" fill="none" stroke="none" marker-start="url(#am7)" marker-mid="url(#am7)" marker-end="url(#am7)"/>
<polyline points="1165,435 1167,412 1182,416 1184,395 1192,385 1206,375 1235,360" fill="none" stroke="none" marker-start="url(#am6)" marker-mid="url(#am6)" marker-end="url(#am6)"/>
<polyline points="1174,425 1196,398 1197,395 1193,386 1202,395 1213,382 1289,305" fill="none" stroke="none" marker-start="url(#am5)" marker-mid="url(#am5)" marker-end="url(#am5)"/>
<polyline points="1185,413 1210,383 1219,376 1228,368 1240,354 1245,338 1257,337" fill="none" stroke="none" marker-start="url(#am4)" marker-mid="url(#am4)" marker-end="url(#am4)"/>
<polyline points="1186,411 1183,396 1194,404 1192,382 1216,377 1211,369 1223,375 1215,362 1231,366 1233,363 1250,333 1276,321 1277,320 1274,309 1293,300 1291,291" fill="none" stroke="none" marker-start="url(#am3)" marker-mid="url(#am3)" marker-end="url(#am3)"/>
<polyline points="1252,327 1265,320 1273,307" fill="none" stroke="none" marker-start="url(#am2)" marker-mid="url(#am2)" marker-end="url(#am2)"/>
<polyline points="1272,325 1275,307 1285,296" fill="none" stroke="none" marker-start="url(#am1)" marker-mid="url(#am1)" marker-end="url(#am1)"/>
<polyline points="1244,335 1286,295" fill="none" stroke="none" marker-start="url(#am0)" marker-mid="url(#am0)" marker-end="url(#am0)"/>
<polyline points="514,1069 522,1073 495,1040 516,1045 537,1065 543,1055 544,1038 551,1035 535,1018 535,1012 546,1018 538,1006 562,1029 564,1028 560,1022 551,1012 544,1004 567,1026 539,999 563,1021 568,1024 545,996 554,1001 577,1023 586,1025 580,1020 548,987 586,1024 584,1018 575,1008 569,998 579,1009 563,992 586,1014 576,1004 569,998 582,1009 574,1000 596,1020 562,986 589,1011 572,994 596,1019 581,1001 598,1017 573,991 563,977 566,980 576,990 584,997 589,1003 596,1007 592,1001 575,985 602,1011 573,981 572,978 603,1007 592,991 607,1006 580,978 606,1002 603,999 589,983 606,999 574,966 606,995 588,978 599,987 617,1004 617,1004 585,971 604,989 584,964 597,968 612,984 611,983 591,962 585,956 590,959 587,957 619,988 612,981 605,973 594,961 608,973 601,967 603,968 604,964 615,974 592,950 617,975 619,975 622,977 634,989 633,988 609,962 600,953 610,961 600,951 632,983 612,963 623,971 628,975 633,981 621,967 617,962 617,962 632,977 614,955 641,981 617,956 624,963 629,967 625,960 619,953 632,967 638,973 604,938 608,943 635,969 626,960 626,958 613,944 612,944 630,960 608,939 647,975 644,972 637,965 645,970 642,968 609,933 610,931 621,942 635,957 633,952 645,963 618,934 625,942 654,969 652,965 646,960 650,964 635,949 653,964 643,954 648,957 653,960 632,937 628,933 650,955 625,930 628,932 640,943 620,922 659,959 640,941 659,961 621,920 642,941 660,958 659,957 662,959 650,945 660,955 632,926 652,946 653,947 662,954 635,927 629,921 630,920 649,939 640,929 659,946 651,935 630,911 642,921 660,939 671,950 652,930 670,946 666,941 639,910 637,906 669,939 657,925 644,909 639,904 653,917 643,900 672,929 659,915 684,940 669,924 650,904 658,908 673,923 652,899 676,921 669,912 690,928 659,896 680,915 659,894 684,918 684,919 666,897 692,920 661,888 667,889" fill="none" stroke="none" marker-start="url(#am63)" marker-mid="url(#am63)" marker-end="url(#am63)"/>
<polyline points="471,1109 492,1101 471,1066 495,1083 489,1070 512,1085 514,1082 505,1074 505,1069 519,1063 518,1057 529,1056 524,1045 537,1059 531,1051 537,1047 548,1057 519,1019 550,1051 523,1020 537,1032 554,1049 551,1045 528,1014 525,1006 562,1039 541,1015 554,1028 538,1008 561,1030 547,1014 562,1026 553,1016 542,1005 571,1033 569,1030 546,1002 569,1021 548,1000 553,1004 554,1003 575,1024 548,998 559,1006 546,994 567,1012 573,1015 547,990 549,991 560,996 572,1005 569,999 579,1009 564,993 558,983 566,989 574,995 585,1005 560,978 571,988 579,996 576,992 585,1000 571,984 595,1008 597,1006 567,973 577,981 609,1011 596,998 594,992 612,1009 581,970 599,989 599,988 602,989 589,973 615,999 595,976 581,961 590,964 609,980 618,990 619,985 592,954 601,962 612,970 622,977 627,979 599,949 607,955 611,958 629,976 616,960 640,982 633,974 642,981 623,960 638,975 635,967 632,961 622,951 638,966 608,934 638,964 642,968 608,931 640,964 646,963 649,966 641,958 643,957 643,956 640,952 656,967 639,950 643,952 645,952 649,952 648,949 626,925 651,950 627,924 633,927 654,947 651,942 647,937 637,926 631,917 665,951 668,953 664,946 631,911 666,945 641,920 643,920 637,911 668,937 673,941 664,929 642,906 667,932 650,912 650,909 643,902 650,908 658,914 645,900 668,924 680,934 648,896 669,917 677,920 663,905 672,913 690,931 670,912 675,914 666,906 679,915 675,909 662,896 674,902 693,920 698,925 685,911 698,910 672,878 719,895" fill="none" stroke="none" marker-start="url(#am62)" marker-mid="url(#am62)" marker-end="url(#am62)"/>
<polyline points="473,1116 465,1105 457,1089 473,1101 454,1069 485,1098 492,1099 457,1065 472,1072 492,1084 497,1085 497,1078 487,1066 474,1050 509,1080 508,1078 509,1077 477,1046 506,1068 518,1076 520,1074 518,1068 518,1066 525,1067 525,1059 532,1052 544,1061 524,1017 546,1039 519,1010 563,1045 551,1031 549,1029 531,1005 566,1034 567,1025 562,1016 560,1010 552,987 564,1000 579,1014 555,989 587,1013 576,995 587,1006 594,1010 600,1014 593,986 609,1003 601,990 617,998 591,972 600,977 614,972 610,938 632,951 643,952 638,936 639,933 670,952 631,911 656,928 668,941 673,944 637,908 655,922 638,904 670,936 638,903 679,943 671,933 652,912 672,931 666,925 643,901 678,934 656,910 669,923 646,899 679,931 649,898 663,910 666,912 659,905 662,906 653,897 657,902 658,902 657,899 689,928 672,912 694,929 673,906 673,907 678,911 695,925 668,895 676,903 691,917 662,885 673,895 683,901 673,886 695,906 689,900 680,889 701,910 683,891 701,909 710,914 697,899 684,885 701,903 694,889 714,911 701,895 710,897 683,869 713,892 721,897 720,887" fill="none" stroke="none" marker-start="url(#am61)" marker-mid="url(#am61)" marker-end="url(#am61)"/>
<polyline points="439,1097 459,1114 444,1081 469,1102 444,1075 475,1104 472,1100 469,1093 474,1096 473,1093 488,1100 475,1084 491,1069 486,1059 494,1036 527,1065 516,1052 514,1047 528,1052 530,1052 545,1057 546,1046 522,1016 560,1048 536,1021 526,1003 539,996 556,987 595,1019 648,969 651,938 657,928 660,916 658,911 681,924 687,926 679,918 655,892 685,921 664,900 688,920 669,898 661,890 685,913 668,894 691,917 665,885 700,918 671,887 685,899 697,909 689,902 682,895 675,883 686,891 709,914 692,896 696,898 683,884 696,896 693,893 711,911 703,902 695,894 681,878 696,893 704,900 696,892 709,906 705,899 697,892 703,899 714,905 708,899 701,893 704,893 716,903 708,891 715,899 718,900 698,879 716,896 718,894 720,894 715,886 723,893 728,895 703,857 732,879 731,867" fill="none" stroke="none" marker-start="url(#am60)" marker-mid="url(#am60)" marker-end="url(#am60)"/>
<polyline points="460,1122 456,1110 469,1094 479,1088 486,1071 490,1058 509,1065 505,1060 496,1033 564,1023 662,902 666,904 688,916 698,926 670,895 676,898 673,893 677,892 682,892 698,906 682,890 695,903 704,908 713,911 704,901 679,877 681,877 717,908 707,898 691,880 709,896 683,871 701,887 718,904 690,877 714,895 694,874 706,886 705,881 710,883 717,889 716,887 726,895 707,873 728,894 725,887 716,879 704,864 728,885 712,869 704,859 721,874 733,885 728,880 723,875 713,858 714,858 727,870 721,859 727,859 725,849 744,866 748,867" fill="none" stroke="none" marker-start="url(#am59)" marker-mid="url(#am59)" marker-end="url(#am59)"/>
<polyline points="452,1086 481,1096 667,883 698,896 683,881 711,903 681,870 716,905 714,896 689,870 718,896 722,896 716,888 714,885 706,876 725,896 712,881 710,873 697,859 697,859 707,867 721,878 714,870 719,875 709,862 733,884 722,873 730,876 718,863 733,878 709,853 723,866 708,849 731,872 732,872 735,874 740,879 738,876 717,853 730,865 726,860 713,847 717,849 729,861 736,867 743,874 746,876 735,862 719,845 722,847 729,850 723,840 739,844 752,855 738,839 753,848 755,845 822,785" fill="none" stroke="none" marker-start="url(#am58)" marker-mid="url(#am58)" marker-end="url(#am58)"/>
<polyline points="699,877 714,891 715,886 728,897 727,885 727,882 727,881 731,883 717,867 726,877 731,880 726,874 716,862 721,863 730,871 735,876 713,847 727,859 724,857 726,859 740,871 740,871 715,843 742,870 721,848 722,848 739,864 739,863 734,858 728,849 749,869 741,861 744,864 737,854 729,846 729,844 736,848 745,857 750,860 757,866 745,850 731,835 749,850 755,856 735,831 763,856 752,846 765,857 757,844 749,833 771,849 767,804" fill="none" stroke="none" marker-start="url(#am57)" marker-mid="url(#am57)" marker-end="url(#am57)"/>
<polyline points="709,877 719,859 723,861 733,868 731,863 714,845 745,874 743,871 735,863 748,874 746,872 745,869 738,862 739,862 733,856 729,848 747,863 745,859 749,863 746,861 750,865 745,858 727,838 741,852 747,856 753,861 752,856 750,854 739,843 744,847 761,862 745,846 747,846 733,829 755,849 743,835 761,854 752,844 755,845 739,823 764,841 752,823 771,840 764,826 769,830 785,835 771,815 798,809 801,811" fill="none" stroke="none" marker-start="url(#am56)" marker-mid="url(#am56)" marker-end="url(#am56)"/>
<polyline points="716,842 744,856 741,852 726,833 739,843 754,857 750,851 743,842 746,842 735,830 751,840 742,829 758,842 745,829 762,844 767,846 763,843 754,831 765,839 764,837 773,845 761,832 762,833 757,822 759,820 779,841 770,830 768,826 757,815 770,827 764,819 758,810 778,828 770,819 778,826 780,826 763,805 779,819 772,809 774,810 774,808 788,821 785,814 793,816 785,805 798,815 799,800 788,787 810,810 792,785 810,803 806,794 798,787 793,778 811,793 805,782 799,773 805,768" fill="none" stroke="none" marker-start="url(#am55)" marker-mid="url(#am55)" marker-end="url(#am55)"/>
<polyline points="762,859 758,851 752,836 754,838 743,825 765,845 760,839 771,849 773,850 757,832 755,830 768,838 746,816 770,840 774,843 776,845 767,832 762,818 772,824 767,818 758,807 767,814 781,828 770,817 766,809 789,830 781,821 787,827 784,821 786,824 787,823 791,827 779,813 768,801 794,826 776,807 792,821 787,815 782,810 773,799 772,795 783,806 784,807 777,796 794,813 798,816 779,796 791,807 798,810 794,803 786,792 785,791 784,789 795,799 807,810 803,799 788,783 794,789 805,799 805,798 796,787 791,779 811,798 792,775 806,787 799,779 802,780 807,782 808,782 806,775 805,773 805,772 823,790 827,766" fill="none" stroke="none" marker-start="url(#am54)" marker-mid="url(#am54)" marker-end="url(#am54)"/>
<polyline points="750,843 751,820 768,831 774,831 770,825 769,822 765,816 762,809 772,818 782,829 786,827 774,814 776,813 779,814 769,805 795,826 772,803 782,814 771,803 770,800 784,812 791,817 799,822 783,807 773,795 789,812 773,796 792,810 777,795 785,794 790,797 798,804 793,796 808,809 792,788 795,790 795,789 807,796 790,780 793,780 800,783 813,794 803,779 802,779 801,776 822,796 814,788 814,788 812,781 807,777 821,789 829,783 820,774 819,773 810,764 828,778 831,778 833,777 818,759 825,761" fill="none" stroke="none" marker-start="url(#am53)" marker-mid="url(#am53)" marker-end="url(#am53)"/>
<polyline points="786,814 772,797 790,811 786,782 793,788 794,787 812,802 794,783 801,788 795,779 808,787 797,776 811,786 822,791 808,775 821,786 807,770 820,781 813,774 814,776 812,765 812,764 819,762 813,756 836,778 820,758 836,773 839,772" fill="none" stroke="none" marker-start="url(#am52)" marker-mid="url(#am52)" marker-end="url(#am52)"/>
<polyline points="785,817 775,791 796,782 798,776 822,795 812,764 821,769 823,769 834,777 817,757 827,764 837,775 828,762 835,768 827,761 825,754 831,755 831,756 847,768 837,754 841,732" fill="none" stroke="none" marker-start="url(#am51)" marker-mid="url(#am51)" marker-end="url(#am51)"/>
<polyline points="814,760 822,759 817,754 818,753 829,761 824,756 829,754 846,769 835,757 836,758 841,761 841,760 836,753 838,754 849,759 846,738" fill="none" stroke="none" marker-start="url(#am50)" marker-mid="url(#am50)" marker-end="url(#am50)"/>
<polyline points="829,770 820,761 843,769 845,768 831,753 844,761 826,744 832,749 852,760 848,752 835,736 844,741 846,743 847,740 842,733" fill="none" stroke="none" marker-start="url(#am49)" marker-mid="url(#am49)" marker-end="url(#am49)"/>
<polyline points="838,756 827,745 835,753 850,756 846,751 849,751 835,736 836,736 855,754 857,754 840,735 843,737 848,742 858,749 848,736 847,733 858,744 861,745 852,735 864,743 851,724 852,726 866,735" fill="none" stroke="none" marker-start="url(#am48)" marker-mid="url(#am48)" marker-end="url(#am48)"/>
<polyline points="845,763 840,742 841,740 842,735 845,729 850,733 850,734 865,747 858,739 854,732 851,730 860,735 851,721 871,733" fill="none" stroke="none" marker-start="url(#am47)" marker-mid="url(#am47)" marker-end="url(#am47)"/>
<polyline points="862,754 846,731 869,747 848,726 851,727 853,726 851,724 866,732 862,728 876,740 860,719 868,722 867,720 863,715 867,715 870,714 883,728" fill="none" stroke="none" marker-start="url(#am46)" marker-mid="url(#am46)" marker-end="url(#am46)"/>
<polyline points="859,734 858,731 867,736 860,726 861,726 868,733 857,721 871,730 875,734 868,725 876,730 879,730 869,721 877,725 867,710 868,709 870,709 876,714 887,721 873,705 878,710" fill="none" stroke="none" marker-start="url(#am45)" marker-mid="url(#am45)" marker-end="url(#am45)"/>
<polyline points="867,724 860,717 866,718 872,724 868,721 867,717 864,715 875,722 881,727 866,711 867,713 884,725 873,714 875,709 885,715 878,705 877,701 885,701" fill="none" stroke="none" marker-start="url(#am44)" marker-mid="url(#am44)" marker-end="url(#am44)"/>
<polyline points="859,716 885,727 868,710 875,713 881,718 882,718 889,724 880,713 876,711 889,722 879,710 873,703 888,717 876,699 899,715 888,703 898,712 899,710" fill="none" stroke="none" marker-start="url(#am43)" marker-mid="url(#am43)" marker-end="url(#am43)"/>
<polyline points="877,712 889,722 880,710 876,704 879,706 891,718 880,704 894,716 883,704 880,698 900,715 903,706 899,701 905,704 890,686" fill="none" stroke="none" marker-start="url(#am42)" marker-mid="url(#am42)" marker-end="url(#am42)"/>
<polyline points="885,708 877,698 890,703 887,700 887,697 886,693 897,700 902,700 908,696" fill="none" stroke="none" marker-start="url(#am41)" marker-mid="url(#am41)" marker-end="url(#am41)"/>
<polyline points="890,708 881,697 886,693 887,692 889,691 888,689 892,686 899,690 895,685 896,683 908,692 912,693 912,676 912,670" fill="none" stroke="none" marker-start="url(#am40)" marker-mid="url(#am40)" marker-end="url(#am40)"/>
<polyline points="895,705 899,699 898,697 899,691 894,684 906,694 899,686 895,682 904,681 902,676 907,681 907,678 909,676 915,677" fill="none" stroke="none" marker-start="url(#am39)" marker-mid="url(#am39)" marker-end="url(#am39)"/>
<polyline points="903,707 915,695 901,680 907,682 904,675 906,675 907,675 911,672 912,668" fill="none" stroke="none" marker-start="url(#am38)" marker-mid="url(#am38)" marker-end="url(#am38)"/>
<polyline points="903,680 908,679 923,687 912,673 917,674 909,667 910,666 925,672 919,664 928,672 917,659 921,660 930,649" fill="none" stroke="none" marker-start="url(#am37)" marker-mid="url(#am37)" marker-end="url(#am37)"/>
<polyline points="920,679 925,675 925,668 919,656 921,654 926,658 950,644" fill="none" stroke="none" marker-start="url(#am36)" marker-mid="url(#am36)" marker-end="url(#am36)"/>
<polyline points="919,675 925,675 922,660 928,660 939,667 934,659 925,651 938,656 942,657" fill="none" stroke="none" marker-start="url(#am35)" marker-mid="url(#am35)" marker-end="url(#am35)"/>
<polyline points="934,678 932,675 934,674 927,664 927,660 928,653 937,662 935,659" fill="none" stroke="none" marker-start="url(#am34)" marker-mid="url(#am34)" marker-end="url(#am34)"/>
<polyline points="931,652 943,657 940,652 933,643 944,642" fill="none" stroke="none" marker-start="url(#am33)" marker-mid="url(#am33)" marker-end="url(#am33)"/>
<polyline points="931,645 938,649 942,652 940,646 939,644 942,638 948,641 947,638 942,633 943,632" fill="none" stroke="none" marker-start="url(#am32)" marker-mid="url(#am32)" marker-end="url(#am32)"/>
<polyline points="953,656 939,639 952,635 953,626" fill="none" stroke="none" marker-start="url(#am31)" marker-mid="url(#am31)" marker-end="url(#am31)"/>
<polyline points="955,646 952,639 954,641 953,638 948,630 963,638 966,639 965,636" fill="none" stroke="none" marker-start="url(#am30)" marker-mid="url(#am30)" marker-end="url(#am30)"/>
<polyline points="955,633 955,634 961,636 958,623 958,621 970,630 968,622" fill="none" stroke="none" marker-start="url(#am29)" marker-mid="url(#am29)" marker-end="url(#am29)"/>
<polyline points="961,626 969,631 962,618 970,615" fill="none" stroke="none" marker-start="url(#am28)" marker-mid="url(#am28)" marker-end="url(#am28)"/>
<polyline points="953,630 966,619 972,622 965,612 969,615" fill="none" stroke="none" marker-start="url(#am27)" marker-mid="url(#am27)" marker-end="url(#am27)"/>
<polyline points="964,611 967,612 975,621 970,616 975,619 975,614 971,607 971,603" fill="none" stroke="none" marker-start="url(#am26)" marker-mid="url(#am26)" marker-end="url(#am26)"/>
<polyline points="977,615 976,609 980,608 981,604 985,605 983,602" fill="none" stroke="none" marker-start="url(#am25)" marker-mid="url(#am25)" marker-end="url(#am25)"/>
<polyline points="983,617 978,612 976,604 985,611 981,601 984,604 981,601 979,595 987,600" fill="none" stroke="none" marker-start="url(#am24)" marker-mid="url(#am24)" marker-end="url(#am24)"/>
<polyline points="987,617 976,599 977,599 981,602 990,602 995,594" fill="none" stroke="none" marker-start="url(#am23)" marker-mid="url(#am23)" marker-end="url(#am23)"/>
<polyline points="979,601 991,602 991,602 1000,602 999,585 1010,590" fill="none" stroke="none" marker-start="url(#am22)" marker-mid="url(#am22)" marker-end="url(#am22)"/>
<polyline points="995,597 990,589 989,586 1004,596 999,582 1001,579 1003,577 1007,578" fill="none" stroke="none" marker-start="url(#am21)" marker-mid="url(#am21)" marker-end="url(#am21)"/>
<polyline points="994,595 1003,594 1005,595 1000,590 999,583 998,579 1006,586 1006,585 1009,571 1012,574 1019,574 1033,559" fill="none" stroke="none" marker-start="url(#am20)" marker-mid="url(#am20)" marker-end="url(#am20)"/>
<polyline points="988,587 1000,583 1001,582 1003,583 1011,584 1007,579 1007,575 1004,572 1007,571 1015,578 1015,575 1015,572 1016,573 1012,564 1019,563 1017,560 1024,560 1032,568 1031,557" fill="none" stroke="none" marker-start="url(#am19)" marker-mid="url(#am19)" marker-end="url(#am19)"/>
<polyline points="1014,584 1010,576 1013,564 1018,568 1018,567 1020,561 1041,557 1045,550 1052,528" fill="none" stroke="none" marker-start="url(#am18)" marker-mid="url(#am18)" marker-end="url(#am18)"/>
<polyline points="1008,568 1028,553 1034,557 1040,560 1035,550 1041,542 1049,548 1044,541 1046,543 1048,544 1052,545 1048,533 1059,525 1063,520 1067,520" fill="none" stroke="none" marker-start="url(#am17)" marker-mid="url(#am17)" marker-end="url(#am17)"/>
<polyline points="1044,550 1046,549 1053,545 1046,538 1044,535 1055,543 1053,532 1059,531 1064,534 1062,519 1064,521 1067,518 1079,519" fill="none" stroke="none" marker-start="url(#am16)" marker-mid="url(#am16)" marker-end="url(#am16)"/>
<polyline points="1051,549 1056,533 1062,536 1059,531 1058,527 1062,531 1064,526 1068,523 1072,523 1072,522 1075,524 1070,512 1081,521 1079,512 1081,508 1104,496" fill="none" stroke="none" marker-start="url(#am15)" marker-mid="url(#am15)" marker-end="url(#am15)"/>
<polyline points="1067,521 1081,516 1080,513 1078,506 1085,510 1082,504 1097,487 1103,493" fill="none" stroke="none" marker-start="url(#am14)" marker-mid="url(#am14)" marker-end="url(#am14)"/>
<polyline points="1065,535 1078,518 1078,514 1081,514 1079,509 1085,505 1095,495 1099,496 1099,489 1104,493" fill="none" stroke="none" marker-start="url(#am13)" marker-mid="url(#am13)" marker-end="url(#am13)"/>
<polyline points="1094,507 1092,505 1102,497 1104,485 1111,489 1112,482 1116,478 1124,474 1122,467" fill="none" stroke="none" marker-start="url(#am12)" marker-mid="url(#am12)" marker-end="url(#am12)"/>
<polyline points="1080,504 1086,508 1101,498 1096,489 1099,490 1099,488 1103,485 1110,483 1111,480 1118,477 1120,473 1124,471 1120,466 1122,464 1121,461 1135,459 1141,453" fill="none" stroke="none" marker-start="url(#am11)" marker-mid="url(#am11)" marker-end="url(#am11)"/>
<polyline points="1101,488 1114,472 1124,467 1126,458 1132,456 1136,452 1137,452 1136,449" fill="none" stroke="none" marker-start="url(#am10)" marker-mid="url(#am10)" marker-end="url(#am10)"/>
<polyline points="1126,459 1130,461 1136,460 1140,455 1140,453 1140,447 1147,448 1145,444 1148,446 1147,444 1143,439 1147,440 1154,428" fill="none" stroke="none" marker-start="url(#am9)" marker-mid="url(#am9)" marker-end="url(#am9)"/>
<polyline points="1135,455 1137,450 1137,450 1136,447 1141,450 1139,449 1151,441 1169,424 1201,381" fill="none" stroke="none" marker-start="url(#am8)" marker-mid="url(#am8)" marker-end="url(#am8)"/>
<polyline points="1150,444 1151,440 1166,423 1169,419 1167,417 1174,416 1174,414 1176,411 1175,406" fill="none" stroke="none" marker-start="url(#am7)" marker-mid="url(#am7)" marker-end="url(#am7)"/>
<polyline points="1155,438 1173,420 1172,408 1179,408 1177,403 1191,394 1192,389 1196,391 1225,363" fill="none" stroke="none" marker-start="url(#am6)" marker-mid="url(#am6)" marker-end="url(#am6)"/>
<polyline points="1185,406 1184,396 1187,395 1190,395 1198,389 1195,386 1203,385 1206,386 1207,384 1224,364 1245,340 1254,336 1254,331 1302,285" fill="none" stroke="none" marker-start="url(#am5)" marker-mid="url(#am5)" marker-end="url(#am5)"/>
<polyline points="1193,397 1197,392 1198,388 1204,380 1205,380 1228,357 1233,358 1238,354 1243,345 1245,347 1246,343 1251,336 1259,326 1300,283" fill="none" stroke="none" marker-start="url(#am4)" marker-mid="url(#am4)" marker-end="url(#am4)"/>
<polyline points="1220,365 1236,357 1234,351 1238,350 1251,342 1259,327 1273,322 1275,318 1277,311 1285,303" fill="none" stroke="none" marker-start="url(#am3)" marker-mid="url(#am3)" marker-end="url(#am3)"/>
<polyline points="1203,387 1257,335 1284,304" fill="none" stroke="none" marker-start="url(#am2)" marker-mid="url(#am2)" marker-end="url(#am2)"/>
<polyline points="1269,318 1293,294 1297,293" fill="none" stroke="none" marker-start="url(#am1)" marker-mid="url(#am1)" marker-end="url(#am1)"/>
<polyline points="1301,284 1301,284" fill="none" stroke="none" marker-start="url(#am0)" marker-mid="url(#am0)" marker-end="url(#am0)"/>
<polyline points="360,1201 426,1194 384,1241 367,1256 460,1168 479,1172 472,1153" fill="none" stroke="none" marker-start="url(#am59)" marker-mid="url(#am59)" marker-end="url(#am59)"/>
<polyline points="499,1265 576,1268 549,1192 555,1218 558,1218 560,1153 556,1168 587,1157" fill="none" stroke="none" marker-start="url(#am58)" marker-mid="url(#am58)" marker-end="url(#am58)"/>
<polyline points="649,1129 649,1129" fill="none" stroke="none" marker-start="url(#am57)" marker-mid="url(#am57)" marker-end="url(#am57)"/>
<polyline points="620,1180 623,1183" fill="none" stroke="none" marker-start="url(#am54)" marker-mid="url(#am54)" marker-end="url(#am54)"/>
<polyline points="444,906 434,917 448,922 479,899 472,917 500,897 646,1230 647,1269" fill="none" stroke="none" marker-start="url(#am53)" marker-mid="url(#am53)" marker-end="url(#am53)"/>
<polyline points="316,926 383,929 693,1051 702,1060 712,1052 698,1072 718,1070" fill="none" stroke="none" marker-start="url(#am52)" marker-mid="url(#am52)" marker-end="url(#am52)"/>
<polyline points="707,1078 707,1078" fill="none" stroke="none" marker-start="url(#am51)" marker-mid="url(#am51)" marker-end="url(#am51)"/>
<polyline points="667,1253 667,1253" fill="none" stroke="none" marker-start="url(#am49)" marker-mid="url(#am49)" marker-end="url(#am49)"/>
<polyline points="408,897 408,897" fill="none" stroke="none" marker-start="url(#am48)" marker-mid="url(#am48)" marker-end="url(#am48)"/>
<polyline points="317,894 352,889 484,883 502,881" fill="none" stroke="none" marker-start="url(#am47)" marker-mid="url(#am47)" marker-end="url(#am47)"/>
<polyline points="299,881 299,881" fill="none" stroke="none" marker-start="url(#am45)" marker-mid="url(#am45)" marker-end="url(#am45)"/>
<polyline points="434,870 468,865 738,1024" fill="none" stroke="none" marker-start="url(#am44)" marker-mid="url(#am44)" marker-end="url(#am44)"/>
<polyline points="720,1101 720,1101" fill="none" stroke="none" marker-start="url(#am43)" marker-mid="url(#am43)" marker-end="url(#am43)"/>
<polyline points="551,856 551,856" fill="none" stroke="none" marker-start="url(#am42)" marker-mid="url(#am42)" marker-end="url(#am42)"/>
<polyline points="520,852 524,855 529,858 526,851" fill="none" stroke="none" marker-start="url(#am41)" marker-mid="url(#am41)" marker-end="url(#am41)"/>
<polyline points="496,856 496,856" fill="none" stroke="none" marker-start="url(#am40)" marker-mid="url(#am40)" marker-end="url(#am40)"/>
<polyline points="516,837 516,837" fill="none" stroke="none" marker-start="url(#am36)" marker-mid="url(#am36)" marker-end="url(#am36)"/>
<polyline points="475,839 558,836" fill="none" stroke="none" marker-start="url(#am35)" marker-mid="url(#am35)" marker-end="url(#am35)"/>
<polyline points="387,841 387,841" fill="none" stroke="none" marker-start="url(#am33)" marker-mid="url(#am33)" marker-end="url(#am33)"/>
<polyline points="576,793 576,793" fill="none" stroke="none" marker-start="url(#am28)" marker-mid="url(#am28)" marker-end="url(#am28)"/>
<polyline points="519,815 572,788 580,800" fill="none" stroke="none" marker-start="url(#am27)" marker-mid="url(#am27)" marker-end="url(#am27)"/>
<polyline points="555,805 555,805" fill="none" stroke="none" marker-start="url(#am26)" marker-mid="url(#am26)" marker-end="url(#am26)"/>
<polyline points="501,783 436,802 479,806 553,784" fill="none" stroke="none" marker-start="url(#am25)" marker-mid="url(#am25)" marker-end="url(#am25)"/>
<polyline points="566,768 566,768" fill="none" stroke="none" marker-start="url(#am22)" marker-mid="url(#am22)" marker-end="url(#am22)"/>
<polyline points="765,1056 765,1056" fill="none" stroke="none" marker-start="url(#am18)" marker-mid="url(#am18)" marker-end="url(#am18)"/>
<polyline points="806,1020 806,1020" fill="none" stroke="none" marker-start="url(#am14)" marker-mid="url(#am14)" marker-end="url(#am14)"/>
<polyline points="1008,650 999,669" fill="none" stroke="none" marker-start="url(#am4)" marker-mid="url(#am4)" marker-end="url(#am4)"/>
<polyline points="960,560 727,702 773,675 837,638 860,645 1067,586 1043,602 1026,629 561,746" fill="none" stroke="none" marker-start="url(#am3)" marker-mid="url(#am3)" marker-end="url(#am3)"/>
<polyline points="1448,135 1504,134 1361,190 1372,189 1365,201 1372,208 1378,213 1335,243 1352,233 1356,248 1362,252 1347,258 1329,257 1323,266" fill="none" stroke="none" marker-start="url(#am2)" marker-mid="url(#am2)" marker-end="url(#am2)"/>
<line x1="284.30" y1="1301.40" x2="1505.00" y2="83.00" stroke="#111" stroke-width="2.6"/>
<path d="M284.30 1301.40V1287.80M284.30 1301.40H297.90M373.68 1301.40V1293.90M284.30 1212.18H291.80M425.97 1301.40V1293.90M284.30 1159.99H291.80M463.07 1301.40V1293.90M284.30 1122.96H291.80M491.84 1301.40V1293.90M284.30 1094.24H291.80M515.35 1301.40V1293.90M284.30 1070.78H291.80M535.23 1301.40V1293.90M284.30 1050.93H291.80M552.45 1301.40V1293.90M284.30 1033.75H291.80M567.64 1301.40V1293.90M284.30 1018.59H291.80M581.23 1301.40V1293.90M284.30 1005.03H297.90M670.61 1301.40V1293.90M284.30 915.81H291.80M722.89 1301.40V1293.90M284.30 863.62H291.80M759.99 1301.40V1293.90M284.30 826.59H291.80M788.77 1301.40V1293.90M284.30 797.87H291.80M812.28 1301.40V1293.90M284.30 774.40H291.80M832.16 1301.40V1293.90M284.30 754.56H291.80M849.37 1301.40V1293.90M284.30 737.37H291.80M864.56 1301.40V1293.90M284.30 722.21H291.80M878.15 1301.40V1287.80M284.30 708.65H297.90M967.53 1301.40V1293.90M284.30 619.43H291.80M1019.82 1301.40V1293.90M284.30 567.24H291.80M1056.92 1301.40V1293.90M284.30 530.21H291.80M1085.69 1301.40V1293.90M284.30 501.49H291.80M1109.20 1301.40V1293.90M284.30 478.03H291.80M1129.08 1301.40V1293.90M284.30 458.18H291.80M1146.30 1301.40V1293.90M284.30 441.00H291.80M1161.49 1301.40V1293.90M284.30 425.84H291.80M1175.08 1301.40V1293.90M284.30 412.28H297.90M1264.46 1301.40V1293.90M284.30 323.06H291.80M1316.74 1301.40V1293.90M284.30 270.87H291.80M1353.84 1301.40V1293.90M284.30 233.84H291.80M1382.62 1301.40V1293.90M284.30 205.12H291.80M1406.13 1301.40V1293.90M284.30 181.65H291.80M1426.01 1301.40V1293.90M284.30 161.81H291.80M1443.22 1301.40V1293.90M284.30 144.62H291.80M1458.41 1301.40V1293.90M284.30 129.46H291.80M1472.00 1301.40V1287.80M284.30 115.90H297.90" stroke="#141414" stroke-width="2.6" fill="none"/>
<rect x="284.30" y="83.00" width="1220.70" height="1218.40" fill="none" stroke="#141414" stroke-width="2.6"/>
<text x="161.41" y="1332.20" font-size="59.5">10</text>
<text x="220.91" y="1303.20" font-size="50.0">-2</text>
<text x="161.65" y="1035.83" font-size="59.5">10</text>
<text x="221.15" y="1006.83" font-size="50.0">-1</text>
<text x="177.20" y="739.45" font-size="59.5">10</text>
<text x="236.70" y="710.45" font-size="50.0">0</text>
<text x="178.30" y="443.08" font-size="59.5">10</text>
<text x="237.80" y="414.08" font-size="50.0">1</text>
<text x="178.06" y="146.70" font-size="59.5">10</text>
<text x="237.56" y="117.70" font-size="50.0">2</text>
<text x="233.59" y="1398.80" font-size="59.5">10</text>
<text x="293.89" y="1369.30" font-size="50.0">-2</text>
<text x="835.34" y="1398.80" font-size="59.5">10</text>
<text x="895.64" y="1369.30" font-size="50.0">0</text>
<text x="1429.61" y="1398.80" font-size="59.5">10</text>
<text x="1489.91" y="1369.30" font-size="50.0">2</text>
<g shape-rendering="crispEdges">
<rect x="1553.3" y="1277.80" width="80.2" height="19.60" fill="#4022ac"/>
<rect x="1553.3" y="1258.80" width="80.2" height="19.60" fill="#4224b6"/>
<rect x="1553.3" y="1239.80" width="80.2" height="19.60" fill="#4428c3"/>
<rect x="1553.3" y="1220.80" width="80.2" height="19.60" fill="#462dcd"/>
<rect x="1553.3" y="1201.80" width="80.2" height="19.60" fill="#4832d7"/>
<rect x="1553.3" y="1182.80" width="80.2" height="19.60" fill="#4838e1"/>
<rect x="1553.3" y="1163.80" width="80.2" height="19.60" fill="#483ee8"/>
<rect x="1553.3" y="1144.80" width="80.2" height="19.60" fill="#4644f0"/>
<rect x="1553.3" y="1125.80" width="80.2" height="19.60" fill="#424af5"/>
<rect x="1553.3" y="1106.80" width="80.2" height="19.60" fill="#3e50fa"/>
<rect x="1553.3" y="1087.80" width="80.2" height="19.60" fill="#3758fc"/>
<rect x="1553.3" y="1068.80" width="80.2" height="19.60" fill="#325fff"/>
<rect x="1553.3" y="1049.80" width="80.2" height="19.60" fill="#2d64ff"/>
<rect x="1553.3" y="1030.80" width="80.2" height="19.60" fill="#1e69ff"/>
<rect x="1553.3" y="1011.80" width="80.2" height="19.60" fill="#006eff"/>
<rect x="1553.3" y="992.80" width="80.2" height="19.60" fill="#0076ff"/>
<rect x="1553.3" y="973.80" width="80.2" height="19.60" fill="#007dfd"/>
<rect x="1553.3" y="954.80" width="80.2" height="19.60" fill="#0082fa"/>
<rect x="1553.3" y="935.80" width="80.2" height="19.60" fill="#0087f6"/>
<rect x="1553.3" y="916.80" width="80.2" height="19.60" fill="#008cf2"/>
<rect x="1553.3" y="897.80" width="80.2" height="19.60" fill="#0092ee"/>
<rect x="1553.3" y="878.80" width="80.2" height="19.60" fill="#0098eb"/>
<rect x="1553.3" y="859.80" width="80.2" height="19.60" fill="#009ee8"/>
<rect x="1553.3" y="840.80" width="80.2" height="19.60" fill="#00a5e4"/>
<rect x="1553.3" y="821.80" width="80.2" height="19.60" fill="#00aae1"/>
<rect x="1553.3" y="802.80" width="80.2" height="19.60" fill="#00aede"/>
<rect x="1553.3" y="783.80" width="80.2" height="19.60" fill="#00b0dc"/>
<rect x="1553.3" y="764.80" width="80.2" height="19.60" fill="#00b2d7"/>
<rect x="1553.3" y="745.80" width="80.2" height="19.60" fill="#00b6d0"/>
<rect x="1553.3" y="726.80" width="80.2" height="19.60" fill="#00b8c8"/>
<rect x="1553.3" y="707.80" width="80.2" height="19.60" fill="#00bac3"/>
<rect x="1553.3" y="688.80" width="80.2" height="19.60" fill="#00bcbc"/>
<rect x="1553.3" y="669.80" width="80.2" height="19.60" fill="#00beb4"/>
<rect x="1553.3" y="650.80" width="80.2" height="19.60" fill="#00c1af"/>
<rect x="1553.3" y="631.80" width="80.2" height="19.60" fill="#00c3a8"/>
<rect x="1553.3" y="612.80" width="80.2" height="19.60" fill="#00c6a0"/>
<rect x="1553.3" y="593.80" width="80.2" height="19.60" fill="#00c896"/>
<rect x="1553.3" y="574.80" width="80.2" height="19.60" fill="#00ca8c"/>
<rect x="1553.3" y="555.80" width="80.2" height="19.60" fill="#00cd82"/>
<rect x="1553.3" y="536.80" width="80.2" height="19.60" fill="#00cd73"/>
<rect x="1553.3" y="517.80" width="80.2" height="19.60" fill="#00cd64"/>
<rect x="1553.3" y="498.80" width="80.2" height="19.60" fill="#00cd5a"/>
<rect x="1553.3" y="479.80" width="80.2" height="19.60" fill="#4bcd50"/>
<rect x="1553.3" y="460.80" width="80.2" height="19.60" fill="#6ecd41"/>
<rect x="1553.3" y="441.80" width="80.2" height="19.60" fill="#8ccd32"/>
<rect x="1553.3" y="422.80" width="80.2" height="19.60" fill="#a5c81e"/>
<rect x="1553.3" y="403.80" width="80.2" height="19.60" fill="#b9c30f"/>
<rect x="1553.3" y="384.80" width="80.2" height="19.60" fill="#c8c300"/>
<rect x="1553.3" y="365.80" width="80.2" height="19.60" fill="#dac000"/>
<rect x="1553.3" y="346.80" width="80.2" height="19.60" fill="#e6be00"/>
<rect x="1553.3" y="327.80" width="80.2" height="19.60" fill="#f5bc00"/>
<rect x="1553.3" y="308.80" width="80.2" height="19.60" fill="#ffb923"/>
<rect x="1553.3" y="289.80" width="80.2" height="19.60" fill="#ffbc28"/>
<rect x="1553.3" y="270.80" width="80.2" height="19.60" fill="#ffc028"/>
<rect x="1553.3" y="251.80" width="80.2" height="19.60" fill="#ffc323"/>
<rect x="1553.3" y="232.80" width="80.2" height="19.60" fill="#ffc814"/>
<rect x="1553.3" y="213.80" width="80.2" height="19.60" fill="#ffd000"/>
<rect x="1553.3" y="194.80" width="80.2" height="19.60" fill="#ffd700"/>
<rect x="1553.3" y="175.80" width="80.2" height="19.60" fill="#ffde00"/>
<rect x="1553.3" y="156.80" width="80.2" height="19.60" fill="#ffe100"/>
<rect x="1553.3" y="137.80" width="80.2" height="19.60" fill="#fae800"/>
<rect x="1553.3" y="118.80" width="80.2" height="19.60" fill="#f8ee00"/>
<rect x="1553.3" y="99.80" width="80.2" height="19.60" fill="#f8f500"/>
<rect x="1553.3" y="80.80" width="80.2" height="19.60" fill="#f8fa00"/>
</g>
<rect x="1553.3" y="80.8" width="80.2" height="1216.0" fill="none" stroke="#141414" stroke-width="2.4"/>
<text x="1657.00" y="1318.30" font-size="59.5">0</text>
<line x1="1620.8" y1="1101.1" x2="1633.5" y2="1101.1" stroke="#141414" stroke-width="2.6"/>
<text x="1657.00" y="1122.64" font-size="59.5">1</text>
<line x1="1620.8" y1="905.5" x2="1633.5" y2="905.5" stroke="#141414" stroke-width="2.6"/>
<text x="1657.00" y="926.99" font-size="59.5">2</text>
<line x1="1620.8" y1="709.8" x2="1633.5" y2="709.8" stroke="#141414" stroke-width="2.6"/>
<text x="1657.00" y="731.33" font-size="59.5">3</text>
<line x1="1620.8" y1="514.2" x2="1633.5" y2="514.2" stroke="#141414" stroke-width="2.6"/>
<text x="1657.00" y="535.68" font-size="59.5">4</text>
<line x1="1620.8" y1="318.5" x2="1633.5" y2="318.5" stroke="#141414" stroke-width="2.6"/>
<text x="1657.00" y="340.02" font-size="59.5">5</text>
<line x1="1620.8" y1="122.9" x2="1633.5" y2="122.9" stroke="#141414" stroke-width="2.6"/>
<text x="1657.00" y="144.37" font-size="59.5">6</text>
<text x="463.92" y="286.50" font-size="60.2" font-style="italic">R</text>
<text x="500.09" y="256.60" font-size="48.0">2</text>
<text x="522.70" y="286.50" font-size="60.2">=</text>
<text x="559.01" y="286.50" font-size="60.2">0.96</text>
<text x="514.34" y="1476.30" font-size="66.6">Simulated log</text>
<text x="888.75" y="1509.80" font-size="54.0">10</text>
<text x="940.42" y="1476.60" font-size="66.6" font-style="italic">S</text>
<text x="972.54" y="1509.80" font-size="54.0">H</text>
<text x="1011.11" y="1542.70" font-size="43.0">2</text>
<text x="1033.29" y="1509.80" font-size="54.0">O/(O</text>
<text x="1142.61" y="1542.70" font-size="43.0">2</text>
<text x="1163.51" y="1509.80" font-size="54.0">+N</text>
<text x="1233.11" y="1542.70" font-size="43.0">2</text>
<text x="1255.56" y="1509.80" font-size="54.0">)</text>
<g transform="rotate(-90)">
<text x="-1062.92" y="71.90" font-size="66.6">Predicted log</text>
<text x="-707.25" y="104.30" font-size="54.0">10</text>
<text x="-656.18" y="71.90" font-size="66.6" font-style="italic">S</text>
<text x="-624.06" y="104.30" font-size="54.0">H</text>
<text x="-584.69" y="137.20" font-size="43.0">2</text>
<text x="-563.41" y="104.30" font-size="54.0">O/(O</text>
<text x="-454.39" y="137.20" font-size="43.0">2</text>
<text x="-432.99" y="104.30" font-size="54.0">+N</text>
<text x="-363.29" y="137.20" font-size="43.0">2</text>
<text x="-341.44" y="104.30" font-size="54.0">)</text>
</g>
<text x="485.67" y="1711.80" font-size="60.2">RF trained by 6013 CoRE-MOFs</text>
<defs>
<marker id="bm0" markerUnits="userSpaceOnUse" overflow="visible" markerWidth="1" markerHeight="1"><use href="#st" stroke="#4022ac"/></marker>
<marker id="bm1" markerUnits="userSpaceOnUse" overflow="visible" markerWidth="1" markerHeight="1"><use href="#st" stroke="#4224b6"/></marker>
<marker id="bm2" markerUnits="userSpaceOnUse" overflow="visible" markerWidth="1" markerHeight="1"><use href="#st" stroke="#4428c3"/></marker>
<marker id="bm3" markerUnits="userSpaceOnUse" overflow="visible" markerWidth="1" markerHeight="1"><use href="#st" stroke="#462dcd"/></marker>
<marker id="bm4" markerUnits="userSpaceOnUse" overflow="visible" markerWidth="1" markerHeight="1"><use href="#st" stroke="#4832d7"/></marker>
<marker id="bm5" markerUnits="userSpaceOnUse" overflow="visible" markerWidth="1" markerHeight="1"><use href="#st" stroke="#4838e1"/></marker>
<marker id="bm6" markerUnits="userSpaceOnUse" overflow="visible" markerWidth="1" markerHeight="1"><use href="#st" stroke="#483ee8"/></marker>
<marker id="bm7" markerUnits="userSpaceOnUse" overflow="visible" markerWidth="1" markerHeight="1"><use href="#st" stroke="#4644f0"/></marker>
<marker id="bm8" markerUnits="userSpaceOnUse" overflow="visible" markerWidth="1" markerHeight="1"><use href="#st" stroke="#424af5"/></marker>
<marker id="bm9" markerUnits="userSpaceOnUse" overflow="visible" markerWidth="1" markerHeight="1"><use href="#st" stroke="#3e50fa"/></marker>
<marker id="bm10" markerUnits="userSpaceOnUse" overflow="visible" markerWidth="1" markerHeight="1"><use href="#st" stroke="#3758fc"/></marker>
<marker id="bm11" markerUnits="userSpaceOnUse" overflow="visible" markerWidth="1" markerHeight="1"><use href="#st" stroke="#325fff"/></marker>
<marker id="bm12" markerUnits="userSpaceOnUse" overflow="visible" markerWidth="1" markerHeight="1"><use href="#st" stroke="#2d64ff"/></marker>
<marker id="bm13" markerUnits="userSpaceOnUse" overflow="visible" markerWidth="1" markerHeight="1"><use href="#st" stroke="#1e69ff"/></marker>
<marker id="bm14" markerUnits="userSpaceOnUse" overflow="visible" markerWidth="1" markerHeight="1"><use href="#st" stroke="#006eff"/></marker>
<marker id="bm15" markerUnits="userSpaceOnUse" overflow="visible" markerWidth="1" markerHeight="1"><use href="#st" stroke="#0076ff"/></marker>
<marker id="bm16" markerUnits="userSpaceOnUse" overflow="visible" markerWidth="1" markerHeight="1"><use href="#st" stroke="#007dfd"/></marker>
<marker id="bm17" markerUnits="userSpaceOnUse" overflow="visible" markerWidth="1" markerHeight="1"><use href="#st" stroke="#0082fa"/></marker>
<marker id="bm18" markerUnits="userSpaceOnUse" overflow="visible" markerWidth="1" markerHeight="1"><use href="#st" stroke="#0087f6"/></marker>
<marker id="bm19" markerUnits="userSpaceOnUse" overflow="visible" markerWidth="1" markerHeight="1"><use href="#st" stroke="#008cf2"/></marker>
<marker id="bm20" markerUnits="userSpaceOnUse" overflow="visible" markerWidth="1" markerHeight="1"><use href="#st" stroke="#0092ee"/></marker>
<marker id="bm21" markerUnits="userSpaceOnUse" overflow="visible" markerWidth="1" markerHeight="1"><use href="#st" stroke="#0098eb"/></marker>
<marker id="bm22" markerUnits="userSpaceOnUse" overflow="visible" markerWidth="1" markerHeight="1"><use href="#st" stroke="#009ee8"/></marker>
<marker id="bm23" markerUnits="userSpaceOnUse" overflow="visible" markerWidth="1" markerHeight="1"><use href="#st" stroke="#00a5e4"/></marker>
<marker id="bm24" markerUnits="userSpaceOnUse" overflow="visible" markerWidth="1" markerHeight="1"><use href="#st" stroke="#00aae1"/></marker>
<marker id="bm25" markerUnits="userSpaceOnUse" overflow="visible" markerWidth="1" markerHeight="1"><use href="#st" stroke="#00aede"/></marker>
<marker id="bm26" markerUnits="userSpaceOnUse" overflow="visible" markerWidth="1" markerHeight="1"><use href="#st" stroke="#00b0dc"/></marker>
<marker id="bm27" markerUnits="userSpaceOnUse" overflow="visible" markerWidth="1" markerHeight="1"><use href="#st" stroke="#00b2d7"/></marker>
<marker id="bm28" markerUnits="userSpaceOnUse" overflow="visible" markerWidth="1" markerHeight="1"><use href="#st" stroke="#00b6d0"/></marker>
<marker id="bm29" markerUnits="userSpaceOnUse" overflow="visible" markerWidth="1" markerHeight="1"><use href="#st" stroke="#00b8c8"/></marker>
<marker id="bm30" markerUnits="userSpaceOnUse" overflow="visible" markerWidth="1" markerHeight="1"><use href="#st" stroke="#00bac3"/></marker>
<marker id="bm31" markerUnits="userSpaceOnUse" overflow="visible" markerWidth="1" markerHeight="1"><use href="#st" stroke="#00bcbc"/></marker>
<marker id="bm32" markerUnits="userSpaceOnUse" overflow="visible" markerWidth="1" markerHeight="1"><use href="#st" stroke="#00beb4"/></marker>
<marker id="bm33" markerUnits="userSpaceOnUse" overflow="visible" markerWidth="1" markerHeight="1"><use href="#st" stroke="#00c1af"/></marker>
<marker id="bm34" markerUnits="userSpaceOnUse" overflow="visible" markerWidth="1" markerHeight="1"><use href="#st" stroke="#00c3a8"/></marker>
<marker id="bm35" markerUnits="userSpaceOnUse" overflow="visible" markerWidth="1" markerHeight="1"><use href="#st" stroke="#00c6a0"/></marker>
<marker id="bm36" markerUnits="userSpaceOnUse" overflow="visible" markerWidth="1" markerHeight="1"><use href="#st" stroke="#00c896"/></marker>
<marker id="bm37" markerUnits="userSpaceOnUse" overflow="visible" markerWidth="1" markerHeight="1"><use href="#st" stroke="#00ca8c"/></marker>
<marker id="bm38" markerUnits="userSpaceOnUse" overflow="visible" markerWidth="1" markerHeight="1"><use href="#st" stroke="#00cd82"/></marker>
<marker id="bm39" markerUnits="userSpaceOnUse" overflow="visible" markerWidth="1" markerHeight="1"><use href="#st" stroke="#00cd73"/></marker>
<marker id="bm40" markerUnits="userSpaceOnUse" overflow="visible" markerWidth="1" markerHeight="1"><use href="#st" stroke="#00cd64"/></marker>
<marker id="bm41" markerUnits="userSpaceOnUse" overflow="visible" markerWidth="1" markerHeight="1"><use href="#st" stroke="#00cd5a"/></marker>
<marker id="bm42" markerUnits="userSpaceOnUse" overflow="visible" markerWidth="1" markerHeight="1"><use href="#st" stroke="#4bcd50"/></marker>
<marker id="bm43" markerUnits="userSpaceOnUse" overflow="visible" markerWidth="1" markerHeight="1"><use href="#st" stroke="#6ecd41"/></marker>
<marker id="bm44" markerUnits="userSpaceOnUse" overflow="visible" markerWidth="1" markerHeight="1"><use href="#st" stroke="#8ccd32"/></marker>
<marker id="bm45" markerUnits="userSpaceOnUse" overflow="visible" markerWidth="1" markerHeight="1"><use href="#st" stroke="#a5c81e"/></marker>
<marker id="bm46" markerUnits="userSpaceOnUse" overflow="visible" markerWidth="1" markerHeight="1"><use href="#st" stroke="#b9c30f"/></marker>
<marker id="bm47" markerUnits="userSpaceOnUse" overflow="visible" markerWidth="1" markerHeight="1"><use href="#st" stroke="#c8c300"/></marker>
<marker id="bm48" markerUnits="userSpaceOnUse" overflow="visible" markerWidth="1" markerHeight="1"><use href="#st" stroke="#dac000"/></marker>
<marker id="bm49" markerUnits="userSpaceOnUse" overflow="visible" markerWidth="1" markerHeight="1"><use href="#st" stroke="#e6be00"/></marker>
<marker id="bm50" markerUnits="userSpaceOnUse" overflow="visible" markerWidth="1" markerHeight="1"><use href="#st" stroke="#f5bc00"/></marker>
<marker id="bm51" markerUnits="userSpaceOnUse" overflow="visible" markerWidth="1" markerHeight="1"><use href="#st" stroke="#ffb923"/></marker>
<marker id="bm52" markerUnits="userSpaceOnUse" overflow="visible" markerWidth="1" markerHeight="1"><use href="#st" stroke="#ffbc28"/></marker>
<marker id="bm53" markerUnits="userSpaceOnUse" overflow="visible" markerWidth="1" markerHeight="1"><use href="#st" stroke="#ffc028"/></marker>
<marker id="bm54" markerUnits="userSpaceOnUse" overflow="visible" markerWidth="1" markerHeight="1"><use href="#st" stroke="#ffc323"/></marker>
<marker id="bm55" markerUnits="userSpaceOnUse" overflow="visible" markerWidth="1" markerHeight="1"><use href="#st" stroke="#ffc814"/></marker>
<marker id="bm56" markerUnits="userSpaceOnUse" overflow="visible" markerWidth="1" markerHeight="1"><use href="#st" stroke="#ffd000"/></marker>
<marker id="bm57" markerUnits="userSpaceOnUse" overflow="visible" markerWidth="1" markerHeight="1"><use href="#st" stroke="#ffd700"/></marker>
<marker id="bm58" markerUnits="userSpaceOnUse" overflow="visible" markerWidth="1" markerHeight="1"><use href="#st" stroke="#ffde00"/></marker>
<marker id="bm59" markerUnits="userSpaceOnUse" overflow="visible" markerWidth="1" markerHeight="1"><use href="#st" stroke="#ffe100"/></marker>
<marker id="bm60" markerUnits="userSpaceOnUse" overflow="visible" markerWidth="1" markerHeight="1"><use href="#st" stroke="#fae800"/></marker>
<marker id="bm61" markerUnits="userSpaceOnUse" overflow="visible" markerWidth="1" markerHeight="1"><use href="#st" stroke="#f8ee00"/></marker>
<marker id="bm62" markerUnits="userSpaceOnUse" overflow="visible" markerWidth="1" markerHeight="1"><use href="#st" stroke="#f8f500"/></marker>
<marker id="bm63" markerUnits="userSpaceOnUse" overflow="visible" markerWidth="1" markerHeight="1"><use href="#st" stroke="#f8fa00"/></marker>
</defs>
<polyline points="614,2597 549,2593 582,2595 570,2592 624,2598 561,2602 584,2589 591,2619 595,2603 545,2624 618,2583 611,2573 565,2600 558,2599 545,2609 547,2578 605,2606 613,2609 607,2599 579,2593 622,2623 618,2633 579,2611" fill="none" stroke="none" marker-start="url(#bm62)" marker-mid="url(#bm62)" marker-end="url(#bm62)"/>
<polyline points="612,2600 562,2596 637,2586 599,2628 563,2609 609,2594 608,2617 543,2615 634,2582 532,2581 500,2625 576,2627 509,2607 479,2587 613,2609 545,2645 549,2600 635,2600 602,2636 610,2609 586,2586 616,2590 595,2603 574,2596 553,2587 636,2600 556,2609 601,2612 572,2606 542,2599 624,2601 643,2614 532,2629 584,2585 581,2630 545,2613 552,2606 555,2636 590,2608 629,2597 599,2616 548,2615 614,2588 551,2610 549,2629 584,2585 542,2599 576,2620 642,2583 641,2611 499,2606 594,2608 546,2614 645,2600 633,2605 597,2618 629,2602 617,2591 575,2610 563,2612 507,2593 637,2597 616,2591 602,2610 549,2594 567,2591 610,2604 550,2591 596,2598 519,2582 556,2594 497,2618 641,2612 553,2600 555,2613 611,2609 640,2610 639,2577 607,2592" fill="none" stroke="none" marker-start="url(#bm61)" marker-mid="url(#bm61)" marker-end="url(#bm61)"/>
<polyline points="501,2617 648,2611 666,2597 640,2606 490,2614 562,2586 557,2616 544,2579 650,2619 648,2619 602,2608 496,2591 651,2598 554,2603 606,2611 525,2599 519,2609 587,2626 508,2603 495,2601 527,2612 480,2612 600,2594 490,2610 607,2603 515,2617 526,2644 660,2595 519,2603 555,2601 616,2616 562,2603 653,2619 609,2591 623,2612 486,2588 515,2600 488,2590 647,2627 562,2596 655,2620 497,2585 645,2602 552,2607 489,2628 512,2602 646,2619 504,2600 490,2624 550,2620 642,2601 577,2598 527,2613 500,2590 650,2617 664,2609 646,2625 519,2620" fill="none" stroke="none" marker-start="url(#bm60)" marker-mid="url(#bm60)" marker-end="url(#bm60)"/>
<polyline points="625,2487 512,2570 655,2574 427,2607 454,2624 464,2618 451,2595 456,2602 652,2591 672,2602 442,2602 472,2617 656,2587 406,2621 646,2593 473,2579 523,2589 499,2603 657,2607 442,2597 487,2604 474,2595 462,2576 467,2622 368,2619 487,2579 460,2595 503,2585 464,2618 654,2621 442,2611 668,2600 486,2610 653,2606 502,2591 470,2583 421,2621 492,2611 480,2594" fill="none" stroke="none" marker-start="url(#bm59)" marker-mid="url(#bm59)" marker-end="url(#bm59)"/>
<polyline points="588,2519 607,2491 621,2497 669,2626 476,2621 336,2600 425,2594 455,2598 673,2598 422,2595 352,2602 415,2605 432,2581 437,2611 395,2577 661,2609 445,2593 674,2634 365,2621 368,2578 662,2615 377,2616 668,2623 674,2593 426,2610 396,2587 344,2618 429,2628 445,2625 387,2607 426,2607 676,2604 423,2600 679,2592 672,2648 353,2621 374,2608 418,2596 428,2597 451,2619 662,2607 675,2604 670,2643 456,2624 439,2606 461,2614 422,2612 344,2612 438,2621 674,2585 410,2602 425,2617 360,2629 423,2609 675,2630 454,2593 677,2608 679,2576 365,2601 377,2590 672,2617 378,2600 352,2567 330,2565 411,2556 325,2561 359,2541 392,2570 365,2573 387,2545 372,2566 344,2575 381,2569" fill="none" stroke="none" marker-start="url(#bm58)" marker-mid="url(#bm58)" marker-end="url(#bm58)"/>
<polyline points="571,2539 599,2525 603,2520 351,2608 388,2640 398,2609 688,2590 393,2623 348,2591 686,2612 383,2584 406,2632 343,2621 376,2612 339,2603 420,2612 380,2592 405,2606 431,2613 408,2620 430,2630 336,2581 371,2630 390,2620 441,2599 466,2603 446,2611 397,2611 689,2594 397,2607 684,2621 376,2614 383,2618 383,2603 681,2577 343,2587 411,2615 677,2598 346,2581 439,2606 681,2611 382,2609 375,2630 412,2612 331,2616 680,2580 400,2599 441,2592 356,2616 365,2614 379,2618 394,2599 689,2602 423,2592 400,2603 352,2561 412,2561 353,2540 386,2549 340,2568 412,2552 385,2544 356,2567 404,2572 398,2565 376,2542 373,2558 360,2554 345,2543" fill="none" stroke="none" marker-start="url(#bm57)" marker-mid="url(#bm57)" marker-end="url(#bm57)"/>
<polyline points="577,2530 682,2610 697,2607 688,2628 690,2621 366,2606 404,2589 359,2595 689,2612 691,2611 355,2578 377,2609 689,2593 687,2606 687,2603 693,2590 685,2598 421,2608 401,2600" fill="none" stroke="none" marker-start="url(#bm56)" marker-mid="url(#bm56)" marker-end="url(#bm56)"/>
<polyline points="592,2534 634,2479 642,2472 657,2466 691,2619 698,2585 692,2599" fill="none" stroke="none" marker-start="url(#bm55)" marker-mid="url(#bm55)" marker-end="url(#bm55)"/>
<polyline points="650,2468 657,2470 680,2453" fill="none" stroke="none" marker-start="url(#bm54)" marker-mid="url(#bm54)" marker-end="url(#bm54)"/>
<polyline points="626,2624 611,2481 667,2458 686,2444" fill="none" stroke="none" marker-start="url(#bm53)" marker-mid="url(#bm53)" marker-end="url(#bm53)"/>
<polyline points="659,2598 633,2465 647,2471 667,2454" fill="none" stroke="none" marker-start="url(#bm52)" marker-mid="url(#bm52)" marker-end="url(#bm52)"/>
<polyline points="654,2459 666,2457 677,2449 687,2442 716,2416" fill="none" stroke="none" marker-start="url(#bm51)" marker-mid="url(#bm51)" marker-end="url(#bm51)"/>
<polyline points="677,2583 672,2453" fill="none" stroke="none" marker-start="url(#bm50)" marker-mid="url(#bm50)" marker-end="url(#bm50)"/>
<polyline points="724,2408 727,2399" fill="none" stroke="none" marker-start="url(#bm49)" marker-mid="url(#bm49)" marker-end="url(#bm49)"/>
<polyline points="740,2388 740,2388" fill="none" stroke="none" marker-start="url(#bm47)" marker-mid="url(#bm47)" marker-end="url(#bm47)"/>
<polyline points="663,2599 671,2592" fill="none" stroke="none" marker-start="url(#bm46)" marker-mid="url(#bm46)" marker-end="url(#bm46)"/>
<polyline points="674,2590 686,2436 756,2372" fill="none" stroke="none" marker-start="url(#bm45)" marker-mid="url(#bm45)" marker-end="url(#bm45)"/>
<polyline points="817,2479 819,2477 760,2366" fill="none" stroke="none" marker-start="url(#bm44)" marker-mid="url(#bm44)" marker-end="url(#bm44)"/>
<polyline points="703,2569 670,2437 830,2466 745,2379" fill="none" stroke="none" marker-start="url(#bm43)" marker-mid="url(#bm43)" marker-end="url(#bm43)"/>
<polyline points="771,2516 687,2419" fill="none" stroke="none" marker-start="url(#bm42)" marker-mid="url(#bm42)" marker-end="url(#bm42)"/>
<polyline points="811,2484 811,2484" fill="none" stroke="none" marker-start="url(#bm41)" marker-mid="url(#bm41)" marker-end="url(#bm41)"/>
<polyline points="721,2556 690,2417 806,2491 811,2485 766,2358" fill="none" stroke="none" marker-start="url(#bm40)" marker-mid="url(#bm40)" marker-end="url(#bm40)"/>
<polyline points="682,2589 749,2535 699,2406 701,2407 834,2466" fill="none" stroke="none" marker-start="url(#bm39)" marker-mid="url(#bm39)" marker-end="url(#bm39)"/>
<polyline points="741,2540 697,2408 837,2460 761,2355" fill="none" stroke="none" marker-start="url(#bm38)" marker-mid="url(#bm38)" marker-end="url(#bm38)"/>
<polyline points="707,2571 760,2528 799,2498" fill="none" stroke="none" marker-start="url(#bm35)" marker-mid="url(#bm35)" marker-end="url(#bm35)"/>
<polyline points="746,2363 746,2363" fill="none" stroke="none" marker-start="url(#bm34)" marker-mid="url(#bm34)" marker-end="url(#bm34)"/>
<polyline points="799,2501 721,2383 775,2340 877,2421" fill="none" stroke="none" marker-start="url(#bm33)" marker-mid="url(#bm33)" marker-end="url(#bm33)"/>
<polyline points="694,2586 694,2586" fill="none" stroke="none" marker-start="url(#bm32)" marker-mid="url(#bm32)" marker-end="url(#bm32)"/>
<polyline points="797,2502 724,2380 830,2474 853,2450" fill="none" stroke="none" marker-start="url(#bm31)" marker-mid="url(#bm31)" marker-end="url(#bm31)"/>
<polyline points="746,2354 885,2416" fill="none" stroke="none" marker-start="url(#bm30)" marker-mid="url(#bm30)" marker-end="url(#bm30)"/>
<polyline points="753,2541 753,2541" fill="none" stroke="none" marker-start="url(#bm29)" marker-mid="url(#bm29)" marker-end="url(#bm29)"/>
<polyline points="746,2350 803,2307" fill="none" stroke="none" marker-start="url(#bm27)" marker-mid="url(#bm27)" marker-end="url(#bm27)"/>
<polyline points="733,2559 733,2559" fill="none" stroke="none" marker-start="url(#bm26)" marker-mid="url(#bm26)" marker-end="url(#bm26)"/>
<polyline points="772,2327 772,2327" fill="none" stroke="none" marker-start="url(#bm25)" marker-mid="url(#bm25)" marker-end="url(#bm25)"/>
<polyline points="904,2397 822,2282" fill="none" stroke="none" marker-start="url(#bm24)" marker-mid="url(#bm24)" marker-end="url(#bm24)"/>
<polyline points="783,2312 783,2312" fill="none" stroke="none" marker-start="url(#bm23)" marker-mid="url(#bm23)" marker-end="url(#bm23)"/>
<polyline points="806,2502 916,2386" fill="none" stroke="none" marker-start="url(#bm22)" marker-mid="url(#bm22)" marker-end="url(#bm22)"/>
<polyline points="925,2368 925,2368" fill="none" stroke="none" marker-start="url(#bm21)" marker-mid="url(#bm21)" marker-end="url(#bm21)"/>
<polyline points="779,2527 795,2513 803,2507 772,2315" fill="none" stroke="none" marker-start="url(#bm20)" marker-mid="url(#bm20)" marker-end="url(#bm20)"/>
<polyline points="930,2361 869,2257" fill="none" stroke="none" marker-start="url(#bm19)" marker-mid="url(#bm19)" marker-end="url(#bm19)"/>
<polyline points="797,2512 824,2490 850,2262 944,2353" fill="none" stroke="none" marker-start="url(#bm18)" marker-mid="url(#bm18)" marker-end="url(#bm18)"/>
<polyline points="791,2517 889,2430 783,2298 834,2264 855,2261 852,2259" fill="none" stroke="none" marker-start="url(#bm17)" marker-mid="url(#bm17)" marker-end="url(#bm17)"/>
<polyline points="803,2507 844,2473 786,2294 791,2289 830,2260 870,2255" fill="none" stroke="none" marker-start="url(#bm16)" marker-mid="url(#bm16)" marker-end="url(#bm16)"/>
<polyline points="855,2464 884,2439 781,2301 940,2363 950,2356 930,2233" fill="none" stroke="none" marker-start="url(#bm15)" marker-mid="url(#bm15)" marker-end="url(#bm15)"/>
<polyline points="883,2440 884,2439 792,2286 865,2248" fill="none" stroke="none" marker-start="url(#bm14)" marker-mid="url(#bm14)" marker-end="url(#bm14)"/>
<polyline points="910,2406 801,2273 904,2240 941,2225" fill="none" stroke="none" marker-start="url(#bm13)" marker-mid="url(#bm13)" marker-end="url(#bm13)"/>
<polyline points="949,2369 1007,2292" fill="none" stroke="none" marker-start="url(#bm12)" marker-mid="url(#bm12)" marker-end="url(#bm12)"/>
<polyline points="926,2393 934,2384 816,2253 865,2247 1018,2262 968,2205" fill="none" stroke="none" marker-start="url(#bm11)" marker-mid="url(#bm11)" marker-end="url(#bm11)"/>
<polyline points="921,2399 950,2361 1008,2283 982,2196 1091,2185" fill="none" stroke="none" marker-start="url(#bm10)" marker-mid="url(#bm10)" marker-end="url(#bm10)"/>
<polyline points="956,2362 907,2229 930,2221 1009,2291 1011,2288" fill="none" stroke="none" marker-start="url(#bm9)" marker-mid="url(#bm9)" marker-end="url(#bm9)"/>
<polyline points="853,2244 986,2330 992,2320 938,2215 1027,2262 1032,2258 978,2198" fill="none" stroke="none" marker-start="url(#bm8)" marker-mid="url(#bm8)" marker-end="url(#bm8)"/>
<polyline points="962,2356 916,2227 1031,2260 1033,2249 1013,2178 1084,2191 1088,2125" fill="none" stroke="none" marker-start="url(#bm7)" marker-mid="url(#bm7)" marker-end="url(#bm7)"/>
<polyline points="1017,2289 954,2205 982,2189 991,2187 998,2186 1060,2138 1095,2118 1130,2136" fill="none" stroke="none" marker-start="url(#bm6)" marker-mid="url(#bm6)" marker-end="url(#bm6)"/>
<polyline points="1030,2162 1091,2122 1091,2120 1159,2102 1147,2061" fill="none" stroke="none" marker-start="url(#bm5)" marker-mid="url(#bm5)" marker-end="url(#bm5)"/>
<polyline points="1033,2257 1123,2156 1132,2078" fill="none" stroke="none" marker-start="url(#bm4)" marker-mid="url(#bm4)" marker-end="url(#bm4)"/>
<polyline points="950,2207 1068,2210 1133,2142 1103,2110 1139,2130 1141,2131 1155,2109 1167,2040 1203,2049 1239,2016 1275,1942" fill="none" stroke="none" marker-start="url(#bm3)" marker-mid="url(#bm3)" marker-end="url(#bm3)"/>
<polyline points="1144,2128 1121,2091 1136,2071 1166,2098 1145,2060 1163,2039 1165,2038 1227,2034 1241,2014 1262,2001 1243,1965 1283,1975 1325,1939" fill="none" stroke="none" marker-start="url(#bm2)" marker-mid="url(#bm2)" marker-end="url(#bm2)"/>
<polyline points="1149,2120 1154,2112 1164,2096 1141,2066 1168,2040 1190,2013 1217,1988 1221,1984 1269,1946 1274,1942 1324,1902" fill="none" stroke="none" marker-start="url(#bm1)" marker-mid="url(#bm1)" marker-end="url(#bm1)"/>
<polyline points="1241,2015 1299,1921" fill="none" stroke="none" marker-start="url(#bm0)" marker-mid="url(#bm0)" marker-end="url(#bm0)"/>
<polyline points="621,2519 643,2430 670,2472 723,2466 630,2526 622,2430 631,2453 643,2477 811,2375 581,2522 617,2489 610,2468 588,2481 683,2457 587,2461 726,2416 638,2530 629,2443 666,2414 748,2416 584,2511 672,2462 614,2440 706,2477 626,2439 624,2514 693,2450 603,2514 603,2496 744,2421 747,2393 634,2467 706,2439 802,2378 608,2494 578,2473 696,2493 684,2466" fill="none" stroke="none" marker-start="url(#bm63)" marker-mid="url(#bm63)" marker-end="url(#bm63)"/>
<polyline points="603,2544 691,2462 684,2445 671,2469 728,2455 587,2472 613,2521 655,2484 621,2501 695,2440 765,2414 796,2395 677,2437 589,2474 789,2386 694,2483 559,2494 726,2452 757,2455 724,2426 764,2412 622,2430 673,2463 665,2467 768,2401 728,2446 598,2528 588,2461 649,2511 700,2405 755,2432 778,2384 740,2456 708,2437 702,2418 641,2458 600,2515 620,2506 714,2431 668,2514 563,2521 733,2405 540,2489 572,2454 687,2423 692,2417 672,2521 706,2483 664,2516 613,2476 613,2532 677,2458 721,2421 733,2427 650,2419 697,2437 597,2446 627,2497 662,2488 632,2488 607,2509 646,2471 689,2488 661,2474 632,2500 590,2486 759,2434 642,2479 646,2469 681,2448 627,2512 665,2417 689,2495 789,2386 661,2489 742,2405 676,2491 629,2457 623,2447 691,2443 811,2385 660,2521 697,2471 741,2421 680,2467 676,2458 598,2527 695,2418 624,2465 681,2471 586,2442 647,2435 593,2464 653,2503 783,2409 736,2422 680,2465 580,2456 627,2521 616,2478 568,2456 659,2433 700,2407 597,2508 618,2502 641,2439 578,2500 678,2469 710,2415 679,2497 681,2466 578,2440 607,2432 588,2471 625,2513 652,2441 601,2455 759,2407 627,2478 603,2480 642,2457 581,2465 693,2488 580,2430 636,2525 684,2465 682,2500 713,2449 705,2429 680,2481 548,2493 601,2454 711,2439 599,2457 587,2516 647,2447 604,2526 667,2465 694,2447 676,2428 813,2383 656,2455 740,2434 596,2507 695,2449 662,2514 667,2479 561,2520 647,2461 623,2519 790,2394 682,2492 697,2420 705,2443 737,2459 668,2434 569,2499 702,2412 711,2409 652,2424 585,2512 708,2418 585,2461 573,2505 638,2500" fill="none" stroke="none" marker-start="url(#bm62)" marker-mid="url(#bm62)" marker-end="url(#bm62)"/>
<polyline points="610,2527 617,2526 629,2509 648,2496 676,2477 684,2467 704,2452 730,2430 757,2414 663,2471 778,2388 633,2454 825,2374 620,2449 595,2482 597,2470 587,2480 527,2528 630,2448 660,2463 559,2510 716,2471 594,2501 612,2512 566,2478 549,2508 624,2519 631,2432 560,2516 678,2425 548,2483 636,2425 753,2438 600,2443 582,2479 592,2513 678,2440 622,2497 564,2509 570,2462 673,2456 579,2487 560,2524 596,2522 696,2418 710,2471 565,2438 559,2515 744,2416 677,2465 783,2407 545,2436 667,2473 553,2479 639,2489 564,2495 693,2493 637,2461 690,2496 829,2370 710,2487 589,2493 702,2488 658,2423 793,2401 778,2383 710,2407 531,2441 677,2465 702,2402 553,2476 611,2533 704,2411 682,2483 689,2453 566,2444 591,2533 667,2413 771,2421 640,2498 594,2431 543,2456 677,2460 657,2442 541,2518 642,2492 565,2470 715,2484 546,2487 634,2522 523,2437 822,2373 566,2456 549,2487 725,2414 744,2459 577,2491 800,2398 570,2530 627,2422 564,2449 577,2458 661,2489 678,2530 580,2442 591,2444 658,2475 574,2486" fill="none" stroke="none" marker-start="url(#bm61)" marker-mid="url(#bm61)" marker-end="url(#bm61)"/>
<polyline points="588,2568 621,2527 612,2518 622,2518 626,2513 641,2502 637,2496 649,2500 652,2497 677,2479 690,2466 704,2451 724,2436 728,2433 535,2500 675,2527 524,2510 506,2437 753,2453 684,2517 522,2458 528,2434 680,2523 570,2438 570,2444 539,2497 644,2526 785,2423 531,2503 738,2477 594,2425 812,2388 677,2525 528,2489 811,2401 654,2415 529,2531 523,2471 572,2429 569,2431 517,2519 519,2520 548,2465 707,2497 684,2513 733,2477 715,2500 737,2468 557,2454 534,2523 519,2442 488,2437 529,2435 488,2471 523,2510 738,2469 844,2367 737,2391 697,2506 567,2518 559,2507 727,2477 804,2406 543,2466 506,2530 540,2533 794,2399 548,2524 550,2479 729,2478 524,2466" fill="none" stroke="none" marker-start="url(#bm60)" marker-mid="url(#bm60)" marker-end="url(#bm60)"/>
<polyline points="624,2616 633,2609 599,2551 619,2509 638,2492 643,2485 654,2481 706,2451 708,2447 715,2441 722,2435 731,2491 727,2490 641,2413 505,2528 480,2438 493,2475 809,2409 497,2462 514,2449 495,2464 530,2447 486,2487 506,2457 710,2512 701,2509 522,2506 804,2420 493,2469 647,2413 502,2447 480,2473 567,2426 499,2440 833,2371 827,2381 740,2471 642,2412 694,2529 756,2467 530,2428 509,2528 498,2440 710,2512 744,2389 486,2532 501,2506 847,2368 510,2516 495,2430 823,2399 797,2415 494,2513 527,2489 700,2520 488,2505 754,2463 482,2479 518,2501 508,2460 759,2454 504,2451 505,2483 750,2460 457,2517" fill="none" stroke="none" marker-start="url(#bm59)" marker-mid="url(#bm59)" marker-end="url(#bm59)"/>
<polyline points="583,2570 633,2610 637,2606 598,2530 662,2583 664,2578 623,2514 677,2566 619,2508 642,2483 650,2488 709,2546 670,2472 673,2467 689,2462 690,2462 730,2426 694,2524 475,2512 758,2460 493,2489 478,2463 451,2450 613,2419 487,2475 757,2467 477,2495 823,2396 483,2525 483,2437 828,2389 458,2460 482,2525 487,2473 455,2452 484,2528 499,2462 475,2499 694,2530 759,2464 451,2495 477,2505 490,2449 736,2488 467,2466 500,2491 460,2504 745,2480 494,2511 648,2407 489,2431 717,2508 486,2525 481,2457 801,2416 706,2504 459,2498 847,2377 500,2470 496,2449 750,2474 453,2448 719,2507 757,2468 519,2428 832,2395 823,2399 762,2460 507,2481 450,2515 502,2481 497,2533 757,2468" fill="none" stroke="none" marker-start="url(#bm58)" marker-mid="url(#bm58)" marker-end="url(#bm58)"/>
<polyline points="587,2551 592,2554 655,2590 599,2529 669,2579 694,2557 697,2557 689,2458 771,2492 715,2432 727,2422 740,2419 312,2448 451,2466 419,2467 522,2427 410,2432 468,2503 440,2524 356,2497 568,2422 476,2493 361,2500 542,2423 423,2490 425,2487 446,2519 280,2489 295,2483 437,2497 278,2442 440,2489 404,2482 424,2526 382,2533 460,2515 435,2481 392,2480 312,2530 301,2528 413,2509 384,2519 370,2531 430,2443 577,2423 381,2521 399,2475" fill="none" stroke="none" marker-start="url(#bm57)" marker-mid="url(#bm57)" marker-end="url(#bm57)"/>
<polyline points="677,2570 684,2568 705,2544 678,2459 685,2458 696,2451 775,2489 722,2429 724,2428 727,2416 731,2417 438,2440 372,2448 374,2473 381,2456 369,2473 581,2418 353,2489 424,2518 427,2442 286,2511 283,2517 843,2363 285,2524 278,2440 412,2487 448,2431 420,2507 391,2483 382,2455 341,2505 287,2431 357,2442 311,2508 433,2509 363,2435 392,2468 355,2495 283,2523 334,2469 297,2531 371,2525 428,2518 367,2432 420,2508 371,2474 433,2457 342,2507 335,2444 302,2504 406,2433 350,2439 326,2445 375,2434 458,2510 309,2494 347,2503 443,2496 467,2429 352,2509 364,2444 350,2482 335,2513 338,2465 317,2435 370,2528 357,2498 394,2470 389,2432 429,2463 371,2472 373,2532 324,2492 409,2474 353,2460 416,2513 340,2435 425,2516 445,2483 506,2427 441,2460 392,2501 298,2506 322,2430 335,2528 281,2451 524,2425 316,2448" fill="none" stroke="none" marker-start="url(#bm56)" marker-mid="url(#bm56)" marker-end="url(#bm56)"/>
<polyline points="650,2601 693,2562 695,2560 711,2544 716,2541 718,2539 735,2525 688,2450 693,2450 756,2504 767,2496 769,2493 775,2492 714,2427 723,2424 791,2490 724,2422 725,2420 787,2483 749,2401 753,2397 763,2397 762,2396 337,2502 339,2499 401,2498 459,2428 304,2440 337,2498 306,2469 421,2497 349,2472 365,2470 519,2423 404,2530 526,2421 331,2430 366,2507 328,2522 416,2435 517,2424 418,2478 364,2494 318,2446 402,2514 477,2420 550,2419" fill="none" stroke="none" marker-start="url(#bm55)" marker-mid="url(#bm55)" marker-end="url(#bm55)"/>
<polyline points="634,2615 667,2582 681,2569 688,2569 699,2559 709,2552 712,2546 732,2534 740,2520 681,2455 761,2512 711,2431 785,2488 722,2415 738,2407 737,2404 744,2408 477,2419 445,2428" fill="none" stroke="none" marker-start="url(#bm54)" marker-mid="url(#bm54)" marker-end="url(#bm54)"/>
<polyline points="679,2580 716,2549 745,2525 701,2435 712,2430 786,2484 785,2480 728,2421 796,2481 793,2479 796,2478 804,2468 748,2400 815,2452 767,2389 776,2381 519,2419 453,2422 566,2415" fill="none" stroke="none" marker-start="url(#bm53)" marker-mid="url(#bm53)" marker-end="url(#bm53)"/>
<polyline points="671,2579 725,2537 742,2524 753,2516 768,2505 766,2500 777,2495 787,2495 784,2489 721,2415 789,2477 803,2470 804,2471 818,2452 827,2459 829,2443 836,2434 359,2425 410,2423 461,2419 390,2422 474,2420" fill="none" stroke="none" marker-start="url(#bm52)" marker-mid="url(#bm52)" marker-end="url(#bm52)"/>
<polyline points="713,2551 752,2520 777,2501 788,2497 804,2476 747,2388 754,2381 823,2448 827,2450 827,2445 773,2378 834,2439 782,2370 426,2420 422,2418 326,2421 320,2420" fill="none" stroke="none" marker-start="url(#bm51)" marker-mid="url(#bm51)" marker-end="url(#bm51)"/>
<polyline points="701,2565 709,2558 743,2389 765,2377 768,2373 838,2441 789,2360 370,2418" fill="none" stroke="none" marker-start="url(#bm50)" marker-mid="url(#bm50)" marker-end="url(#bm50)"/>
<polyline points="755,2522 762,2516 765,2514 754,2379 782,2372 776,2364 848,2431 785,2363 790,2356 398,2420" fill="none" stroke="none" marker-start="url(#bm49)" marker-mid="url(#bm49)" marker-end="url(#bm49)"/>
<polyline points="775,2507 826,2451 761,2382 846,2440 848,2431 851,2430 783,2360 787,2352 796,2357" fill="none" stroke="none" marker-start="url(#bm48)" marker-mid="url(#bm48)" marker-end="url(#bm48)"/>
<polyline points="742,2530 766,2516 752,2378 862,2411 881,2348" fill="none" stroke="none" marker-start="url(#bm47)" marker-mid="url(#bm47)" marker-end="url(#bm47)"/>
<polyline points="758,2520 793,2350 863,2412 800,2350 798,2340" fill="none" stroke="none" marker-start="url(#bm46)" marker-mid="url(#bm46)" marker-end="url(#bm46)"/>
<polyline points="773,2357 858,2430 869,2409 871,2408 874,2406" fill="none" stroke="none" marker-start="url(#bm45)" marker-mid="url(#bm45)" marker-end="url(#bm45)"/>
<polyline points="848,2440 848,2440" fill="none" stroke="none" marker-start="url(#bm44)" marker-mid="url(#bm44)" marker-end="url(#bm44)"/>
<polyline points="865,2422 810,2335 876,2399" fill="none" stroke="none" marker-start="url(#bm43)" marker-mid="url(#bm43)" marker-end="url(#bm43)"/>
<polyline points="863,2422 867,2420 874,2408 809,2334 813,2333" fill="none" stroke="none" marker-start="url(#bm42)" marker-mid="url(#bm42)" marker-end="url(#bm42)"/>
<polyline points="756,2525 860,2431 798,2334 879,2403 812,2332 814,2331" fill="none" stroke="none" marker-start="url(#bm41)" marker-mid="url(#bm41)" marker-end="url(#bm41)"/>
<polyline points="775,2350 784,2342 874,2410 805,2330" fill="none" stroke="none" marker-start="url(#bm40)" marker-mid="url(#bm40)" marker-end="url(#bm40)"/>
<polyline points="823,2319 891,2384" fill="none" stroke="none" marker-start="url(#bm39)" marker-mid="url(#bm39)" marker-end="url(#bm39)"/>
<polyline points="813,2319 813,2319" fill="none" stroke="none" marker-start="url(#bm38)" marker-mid="url(#bm38)" marker-end="url(#bm38)"/>
<polyline points="880,2411 880,2411" fill="none" stroke="none" marker-start="url(#bm37)" marker-mid="url(#bm37)" marker-end="url(#bm37)"/>
<polyline points="733,2369 656,2366 689,2364" fill="none" stroke="none" marker-start="url(#bm35)" marker-mid="url(#bm35)" marker-end="url(#bm35)"/>
<polyline points="885,2406 818,2313 902,2378" fill="none" stroke="none" marker-start="url(#bm34)" marker-mid="url(#bm34)" marker-end="url(#bm34)"/>
<polyline points="839,2300 839,2300" fill="none" stroke="none" marker-start="url(#bm33)" marker-mid="url(#bm33)" marker-end="url(#bm33)"/>
<polyline points="891,2400 820,2307 845,2293 912,2353" fill="none" stroke="none" marker-start="url(#bm32)" marker-mid="url(#bm32)" marker-end="url(#bm32)"/>
<polyline points="827,2302 839,2296 846,2290 852,2286 937,2332" fill="none" stroke="none" marker-start="url(#bm31)" marker-mid="url(#bm31)" marker-end="url(#bm31)"/>
<polyline points="838,2292 912,2364 839,2291 717,2341" fill="none" stroke="none" marker-start="url(#bm30)" marker-mid="url(#bm30)" marker-end="url(#bm30)"/>
<polyline points="913,2362 925,2351 869,2280" fill="none" stroke="none" marker-start="url(#bm29)" marker-mid="url(#bm29)" marker-end="url(#bm29)"/>
<polyline points="909,2378 923,2351 937,2333 798,2346" fill="none" stroke="none" marker-start="url(#bm28)" marker-mid="url(#bm28)" marker-end="url(#bm28)"/>
<polyline points="912,2368 918,2355 937,2337 941,2330 891,2270 657,2371 656,2334 721,2363 788,2321" fill="none" stroke="none" marker-start="url(#bm27)" marker-mid="url(#bm27)" marker-end="url(#bm27)"/>
<polyline points="863,2275 940,2343 912,2257 730,2347" fill="none" stroke="none" marker-start="url(#bm26)" marker-mid="url(#bm26)" marker-end="url(#bm26)"/>
<polyline points="915,2373 916,2374 842,2279 944,2333 748,2358" fill="none" stroke="none" marker-start="url(#bm25)" marker-mid="url(#bm25)" marker-end="url(#bm25)"/>
<polyline points="851,2277 872,2268 716,2333 778,2342 646,2376" fill="none" stroke="none" marker-start="url(#bm24)" marker-mid="url(#bm24)" marker-end="url(#bm24)"/>
<polyline points="939,2345 953,2321 957,2316 962,2310 918,2254 679,2359" fill="none" stroke="none" marker-start="url(#bm23)" marker-mid="url(#bm23)" marker-end="url(#bm23)"/>
<polyline points="937,2347 950,2331 908,2255 909,2255 933,2248 749,2335" fill="none" stroke="none" marker-start="url(#bm22)" marker-mid="url(#bm22)" marker-end="url(#bm22)"/>
<polyline points="934,2356 964,2314 966,2316 973,2308 985,2289" fill="none" stroke="none" marker-start="url(#bm21)" marker-mid="url(#bm21)" marker-end="url(#bm21)"/>
<polyline points="927,2360 926,2245" fill="none" stroke="none" marker-start="url(#bm20)" marker-mid="url(#bm20)" marker-end="url(#bm20)"/>
<polyline points="922,2246 988,2289 1018,2241" fill="none" stroke="none" marker-start="url(#bm19)" marker-mid="url(#bm19)" marker-end="url(#bm19)"/>
<polyline points="966,2325 938,2238 945,2237 944,2235 1006,2262" fill="none" stroke="none" marker-start="url(#bm18)" marker-mid="url(#bm18)" marker-end="url(#bm18)"/>
<polyline points="976,2312 916,2242 928,2238 995,2292 999,2281 951,2232 1012,2254 985,2210 716,2332" fill="none" stroke="none" marker-start="url(#bm17)" marker-mid="url(#bm17)" marker-end="url(#bm17)"/>
<polyline points="1008,2261 970,2220 1011,2259" fill="none" stroke="none" marker-start="url(#bm16)" marker-mid="url(#bm16)" marker-end="url(#bm16)"/>
<polyline points="942,2233 999,2276 1004,2273 1018,2254 1026,2233 1054,2201 740,2353" fill="none" stroke="none" marker-start="url(#bm15)" marker-mid="url(#bm15)" marker-end="url(#bm15)"/>
<polyline points="1031,2223 1045,2168" fill="none" stroke="none" marker-start="url(#bm14)" marker-mid="url(#bm14)" marker-end="url(#bm14)"/>
<polyline points="1010,2264 1027,2178 1057,2199 1058,2198 1053,2162 1058,2157" fill="none" stroke="none" marker-start="url(#bm13)" marker-mid="url(#bm13)" marker-end="url(#bm13)"/>
<polyline points="1011,2269 976,2207 1022,2244 1028,2241 1039,2214 1060,2158" fill="none" stroke="none" marker-start="url(#bm12)" marker-mid="url(#bm12)" marker-end="url(#bm12)"/>
<polyline points="991,2197 996,2195 1036,2224 1067,2193 1084,2183 1084,2182" fill="none" stroke="none" marker-start="url(#bm11)" marker-mid="url(#bm11)" marker-end="url(#bm11)"/>
<polyline points="1021,2181 1110,2157 1111,2154" fill="none" stroke="none" marker-start="url(#bm10)" marker-mid="url(#bm10)" marker-end="url(#bm10)"/>
<polyline points="1115,2153 1095,2128 1092,2124 1118,2149" fill="none" stroke="none" marker-start="url(#bm9)" marker-mid="url(#bm9)" marker-end="url(#bm9)"/>
<polyline points="1101,2178 1101,2121 1111,2110" fill="none" stroke="none" marker-start="url(#bm8)" marker-mid="url(#bm8)" marker-end="url(#bm8)"/>
<polyline points="1108,2114 1108,2114" fill="none" stroke="none" marker-start="url(#bm7)" marker-mid="url(#bm7)" marker-end="url(#bm7)"/>
<polyline points="1100,2116 1143,2120 1141,2077" fill="none" stroke="none" marker-start="url(#bm6)" marker-mid="url(#bm6)" marker-end="url(#bm6)"/>
<polyline points="1126,2090 1135,2079 1161,2056" fill="none" stroke="none" marker-start="url(#bm5)" marker-mid="url(#bm5)" marker-end="url(#bm5)"/>
<polyline points="1105,2114 1148,2113 1150,2111 1134,2081 1145,2068 1168,2088 1170,2080 1157,2059 1174,2074 1177,2072 1178,2070 1170,2046 1193,2052 1198,2050 1199,2013 1225,2027 1252,1996" fill="none" stroke="none" marker-start="url(#bm4)" marker-mid="url(#bm4)" marker-end="url(#bm4)"/>
<polyline points="1153,2107 1154,2060 1171,2045 1173,2042 1194,2055 1196,2017 1203,2013 1248,1999 1252,2002 1232,1981 1243,1974 1245,1971 1265,1984 1267,1981 1281,1940" fill="none" stroke="none" marker-start="url(#bm3)" marker-mid="url(#bm3)" marker-end="url(#bm3)"/>
<polyline points="1191,2061 1192,2021 1204,2009 1212,1999 1233,2015 1248,2006 1253,1998 1247,1971 1252,1962 1279,1974 1268,1951 1280,1942 1355,1878" fill="none" stroke="none" marker-start="url(#bm2)" marker-mid="url(#bm2)" marker-end="url(#bm2)"/>
<polyline points="1217,2030 1224,2029 1239,2010 1273,1982 1298,1924 1346,1887 1362,1892" fill="none" stroke="none" marker-start="url(#bm1)" marker-mid="url(#bm1)" marker-end="url(#bm1)"/>
<polyline points="1216,2035 1275,1945 1315,1910" fill="none" stroke="none" marker-start="url(#bm0)" marker-mid="url(#bm0)" marker-end="url(#bm0)"/>
<polyline points="630,2531 655,2518 655,2509 659,2503 718,2515 700,2469" fill="none" stroke="none" marker-start="url(#bm63)" marker-mid="url(#bm63)" marker-end="url(#bm63)"/>
<polyline points="639,2599 644,2581 622,2559 646,2581 624,2555 626,2547 656,2576 664,2570 666,2559 644,2528 675,2552 683,2547 654,2518 691,2545 661,2512 656,2504 660,2505 694,2536 660,2500 662,2502 665,2501 673,2505 712,2521 679,2480 690,2491 683,2482 695,2482 692,2468 696,2471 701,2462 728,2459" fill="none" stroke="none" marker-start="url(#bm62)" marker-mid="url(#bm62)" marker-end="url(#bm62)"/>
<polyline points="626,2608 633,2593 620,2552 659,2573 626,2539 631,2538 663,2570 663,2569 632,2534 629,2528 640,2533 637,2528 669,2557 639,2522 673,2555 637,2519 639,2517 648,2523 651,2522 653,2524 678,2549 655,2522 680,2546 684,2547 656,2515 689,2545 688,2540 658,2510 653,2505 688,2540 656,2507 658,2503 697,2536 663,2500 700,2537 670,2507 666,2503 664,2499 670,2504 706,2526 681,2494 680,2491 688,2488 682,2480 720,2518 693,2487 694,2486 695,2488 685,2478 693,2479 726,2512 697,2478 700,2475 701,2476 698,2474 704,2472 702,2465 738,2500 739,2497 741,2500 743,2495 714,2457 717,2456 752,2489 725,2456" fill="none" stroke="none" marker-start="url(#bm61)" marker-mid="url(#bm61)" marker-end="url(#bm61)"/>
<polyline points="628,2607 630,2603 608,2573 606,2566 611,2549 614,2542 653,2580 657,2577 632,2538 637,2526 641,2514 685,2544 666,2513 661,2496 666,2499 700,2530 673,2502 668,2487 673,2490 681,2494 681,2491 685,2491 687,2488 687,2484 723,2513 727,2515 697,2480 737,2509 738,2498 709,2468 712,2469 716,2461 711,2455 747,2491 722,2461 715,2448 758,2481 723,2440 732,2444 733,2436 743,2433 740,2430 756,2429" fill="none" stroke="none" marker-start="url(#bm60)" marker-mid="url(#bm60)" marker-end="url(#bm60)"/>
<polyline points="585,2579 624,2611 610,2568 638,2596 636,2594 638,2588 645,2590 616,2562 616,2558 649,2588 615,2544 650,2578 651,2574 659,2578 655,2569 667,2567 664,2563 680,2553 693,2549 657,2513 699,2538 699,2533 699,2531 670,2490 679,2498 680,2496 717,2530 724,2514 691,2480 691,2479 704,2470 711,2470 741,2498 712,2463 708,2458 718,2468 713,2463 716,2464 752,2492 756,2493 723,2458 723,2459 721,2453 757,2489 730,2456 729,2454 734,2441 742,2446 737,2438 744,2442 743,2438 743,2434 744,2433 756,2432 747,2421 792,2453 761,2417" fill="none" stroke="none" marker-start="url(#bm59)" marker-mid="url(#bm59)" marker-end="url(#bm59)"/>
<polyline points="618,2614 626,2600 605,2577 604,2576 620,2553 654,2571 668,2567 677,2563 677,2563 682,2561 674,2551 690,2553 697,2545 673,2496 712,2534 717,2535 729,2518 729,2514 731,2508 709,2475 712,2459 752,2497 714,2458 751,2497 757,2492 753,2487 755,2488 715,2446 723,2447 766,2485 733,2448 765,2475 770,2478 738,2446 775,2483 734,2438 775,2471 749,2438 779,2469 743,2426 782,2465 787,2461 753,2424 788,2457 761,2428 769,2421 764,2414 763,2412 760,2406 800,2446 792,2395" fill="none" stroke="none" marker-start="url(#bm58)" marker-mid="url(#bm58)" marker-end="url(#bm58)"/>
<polyline points="621,2604 677,2563 691,2552 703,2535 718,2534 731,2522 727,2513 737,2505 744,2506 749,2506 739,2497 761,2494 764,2487 762,2484 768,2485 725,2439 730,2442 770,2476 781,2476 745,2435 781,2464 755,2432 747,2425 747,2423 791,2466 786,2458 764,2425 800,2457 758,2403 801,2444 768,2408 764,2404 766,2403 774,2398 817,2430 778,2388" fill="none" stroke="none" marker-start="url(#bm57)" marker-mid="url(#bm57)" marker-end="url(#bm57)"/>
<polyline points="594,2570 704,2535 729,2521 747,2510 762,2495 768,2487 764,2478 776,2482 741,2439 782,2470 784,2470 786,2467 789,2465 753,2426 794,2463 792,2458 797,2460 755,2417 764,2423 771,2418 758,2403 762,2398 771,2401 766,2395 814,2439 782,2405 781,2403 776,2393 783,2399 781,2394 783,2393 786,2390 822,2424 783,2383 786,2379 798,2379" fill="none" stroke="none" marker-start="url(#bm56)" marker-mid="url(#bm56)" marker-end="url(#bm56)"/>
<polyline points="715,2531 741,2511 759,2497 768,2492 780,2472 782,2473 790,2465 797,2468 795,2464 793,2458 799,2457 799,2453 803,2457 808,2454 806,2448 805,2440 767,2402 814,2447 774,2402 814,2441 816,2442 775,2396 776,2396 815,2435 785,2399 787,2398 790,2390 795,2381" fill="none" stroke="none" marker-start="url(#bm55)" marker-mid="url(#bm55)" marker-end="url(#bm55)"/>
<polyline points="761,2428 801,2452 812,2452 809,2447 766,2393 813,2435 784,2401 820,2436 784,2397 819,2431 824,2434 823,2434 822,2425 789,2391 828,2429 789,2384 796,2391 795,2382 799,2385 790,2376 795,2380 803,2372 804,2371 818,2365" fill="none" stroke="none" marker-start="url(#bm54)" marker-mid="url(#bm54)" marker-end="url(#bm54)"/>
<polyline points="775,2483 794,2465 808,2454 804,2450 812,2439 774,2389 828,2438 778,2379 792,2389 829,2425 832,2425 798,2368 806,2372 808,2371 801,2364 846,2402 856,2389" fill="none" stroke="none" marker-start="url(#bm53)" marker-mid="url(#bm53)" marker-end="url(#bm53)"/>
<polyline points="806,2460 823,2433 777,2384 781,2378 829,2425 794,2383 791,2377 837,2422 802,2384 790,2372 835,2414 800,2370 797,2365 841,2407 808,2375 843,2407 823,2361 859,2385" fill="none" stroke="none" marker-start="url(#bm52)" marker-mid="url(#bm52)" marker-end="url(#bm52)"/>
<polyline points="786,2478 832,2434 831,2431 830,2427 835,2425 839,2426 836,2413 846,2423 797,2368 848,2418 846,2413 848,2406 852,2407 815,2360 817,2350 828,2352 833,2350" fill="none" stroke="none" marker-start="url(#bm51)" marker-mid="url(#bm51)" marker-end="url(#bm51)"/>
<polyline points="789,2369 843,2421 845,2420 845,2410 854,2411 857,2400 818,2354 827,2351 864,2385 863,2381" fill="none" stroke="none" marker-start="url(#bm50)" marker-mid="url(#bm50)" marker-end="url(#bm50)"/>
<polyline points="832,2432 846,2418 852,2415 850,2411 856,2413 804,2359 800,2355 861,2398 862,2401 866,2394 863,2388 827,2348 865,2387 838,2344" fill="none" stroke="none" marker-start="url(#bm49)" marker-mid="url(#bm49)" marker-end="url(#bm49)"/>
<polyline points="816,2349 816,2345 835,2347" fill="none" stroke="none" marker-start="url(#bm48)" marker-mid="url(#bm48)" marker-end="url(#bm48)"/>
<polyline points="867,2387 869,2387 825,2343 867,2377 832,2342 832,2340 833,2340 836,2335" fill="none" stroke="none" marker-start="url(#bm47)" marker-mid="url(#bm47)" marker-end="url(#bm47)"/>
<polyline points="860,2409 864,2408 821,2339 822,2341 823,2340 826,2341 845,2335 882,2359" fill="none" stroke="none" marker-start="url(#bm46)" marker-mid="url(#bm46)" marker-end="url(#bm46)"/>
<polyline points="826,2332 875,2377 877,2371 840,2332 843,2334 835,2327 847,2327" fill="none" stroke="none" marker-start="url(#bm45)" marker-mid="url(#bm45)" marker-end="url(#bm45)"/>
<polyline points="879,2379 829,2326 880,2373 881,2372 883,2361 885,2357 899,2343" fill="none" stroke="none" marker-start="url(#bm44)" marker-mid="url(#bm44)" marker-end="url(#bm44)"/>
<polyline points="877,2390 873,2385 877,2377 834,2331 883,2377 851,2325 846,2320 852,2324" fill="none" stroke="none" marker-start="url(#bm43)" marker-mid="url(#bm43)" marker-end="url(#bm43)"/>
<polyline points="830,2326 888,2374 840,2325 847,2328 888,2364 854,2314 892,2350" fill="none" stroke="none" marker-start="url(#bm42)" marker-mid="url(#bm42)" marker-end="url(#bm42)"/>
<polyline points="878,2390 878,2389 882,2370 847,2319 890,2357 900,2344 908,2335 914,2328" fill="none" stroke="none" marker-start="url(#bm41)" marker-mid="url(#bm41)" marker-end="url(#bm41)"/>
<polyline points="885,2374 844,2314 894,2358 850,2312 898,2354 896,2350 906,2339 907,2336 910,2337 885,2297" fill="none" stroke="none" marker-start="url(#bm40)" marker-mid="url(#bm40)" marker-end="url(#bm40)"/>
<polyline points="886,2380 828,2320 833,2320 889,2370 842,2314 895,2356 903,2351 913,2333" fill="none" stroke="none" marker-start="url(#bm39)" marker-mid="url(#bm39)" marker-end="url(#bm39)"/>
<polyline points="860,2304 902,2344 908,2347 905,2341 868,2300 910,2339 906,2334 924,2322 924,2321" fill="none" stroke="none" marker-start="url(#bm38)" marker-mid="url(#bm38)" marker-end="url(#bm38)"/>
<polyline points="901,2357 908,2344 914,2335 879,2295 918,2326 931,2321 932,2320 939,2309" fill="none" stroke="none" marker-start="url(#bm37)" marker-mid="url(#bm37)" marker-end="url(#bm37)"/>
<polyline points="899,2364 852,2306 903,2357 910,2349 911,2341 874,2294 881,2293 883,2291 899,2290 899,2284 903,2285 903,2279" fill="none" stroke="none" marker-start="url(#bm36)" marker-mid="url(#bm36)" marker-end="url(#bm36)"/>
<polyline points="906,2353 860,2299 858,2294 866,2292 925,2332 937,2312" fill="none" stroke="none" marker-start="url(#bm35)" marker-mid="url(#bm35)" marker-end="url(#bm35)"/>
<polyline points="844,2299 898,2280 907,2276 917,2277 947,2301" fill="none" stroke="none" marker-start="url(#bm34)" marker-mid="url(#bm34)" marker-end="url(#bm34)"/>
<polyline points="909,2352 853,2292 881,2287 899,2279 943,2305 914,2276 917,2274 948,2301 955,2295" fill="none" stroke="none" marker-start="url(#bm33)" marker-mid="url(#bm33)" marker-end="url(#bm33)"/>
<polyline points="928,2328 932,2330 892,2279 913,2274 914,2273 919,2270 921,2270 957,2306 950,2299 957,2295" fill="none" stroke="none" marker-start="url(#bm32)" marker-mid="url(#bm32)" marker-end="url(#bm32)"/>
<polyline points="894,2275 938,2317 944,2313 946,2315 945,2309 960,2291" fill="none" stroke="none" marker-start="url(#bm31)" marker-mid="url(#bm31)" marker-end="url(#bm31)"/>
<polyline points="865,2287 925,2340 885,2278 894,2270 920,2267 956,2302 959,2295 961,2293 966,2295 964,2287 942,2262 941,2260" fill="none" stroke="none" marker-start="url(#bm30)" marker-mid="url(#bm30)" marker-end="url(#bm30)"/>
<polyline points="950,2310 908,2270 965,2290 976,2279" fill="none" stroke="none" marker-start="url(#bm29)" marker-mid="url(#bm29)" marker-end="url(#bm29)"/>
<polyline points="930,2258 938,2261 968,2283 945,2256 971,2280 981,2271" fill="none" stroke="none" marker-start="url(#bm28)" marker-mid="url(#bm28)" marker-end="url(#bm28)"/>
<polyline points="963,2301 972,2289 981,2276 961,2241" fill="none" stroke="none" marker-start="url(#bm27)" marker-mid="url(#bm27)" marker-end="url(#bm27)"/>
<polyline points="912,2263 913,2264 964,2302 962,2245" fill="none" stroke="none" marker-start="url(#bm26)" marker-mid="url(#bm26)" marker-end="url(#bm26)"/>
<polyline points="964,2303 924,2257 927,2256 970,2291 982,2271 961,2245" fill="none" stroke="none" marker-start="url(#bm25)" marker-mid="url(#bm25)" marker-end="url(#bm25)"/>
<polyline points="964,2307 964,2302 942,2251 949,2244 956,2244 992,2262 1001,2249" fill="none" stroke="none" marker-start="url(#bm24)" marker-mid="url(#bm24)" marker-end="url(#bm24)"/>
<polyline points="922,2255 981,2289 979,2287 987,2266 993,2264 974,2226" fill="none" stroke="none" marker-start="url(#bm23)" marker-mid="url(#bm23)" marker-end="url(#bm23)"/>
<polyline points="983,2287 950,2246 988,2281 961,2240 991,2267 975,2229 1001,2255 983,2223 1007,2241 1008,2238" fill="none" stroke="none" marker-start="url(#bm22)" marker-mid="url(#bm22)" marker-end="url(#bm22)"/>
<polyline points="990,2274 997,2263 985,2225 987,2222 991,2215" fill="none" stroke="none" marker-start="url(#bm21)" marker-mid="url(#bm21)" marker-end="url(#bm21)"/>
<polyline points="983,2286 967,2228 1003,2250 1000,2212" fill="none" stroke="none" marker-start="url(#bm20)" marker-mid="url(#bm20)" marker-end="url(#bm20)"/>
<polyline points="986,2219 1013,2231 1019,2227 1020,2226 1013,2200 1027,2214" fill="none" stroke="none" marker-start="url(#bm19)" marker-mid="url(#bm19)" marker-end="url(#bm19)"/>
<polyline points="967,2226 1022,2227 1005,2204 1023,2192 1043,2199" fill="none" stroke="none" marker-start="url(#bm18)" marker-mid="url(#bm18)" marker-end="url(#bm18)"/>
<polyline points="978,2218 988,2215 994,2206 1023,2231 1004,2208 1005,2204 1005,2200 1011,2198 1013,2198 1040,2204 1046,2176 1065,2184" fill="none" stroke="none" marker-start="url(#bm17)" marker-mid="url(#bm17)" marker-end="url(#bm17)"/>
<polyline points="990,2209 1002,2204 1025,2217 1015,2199 1033,2208 1018,2193 1048,2198 1051,2198 1040,2175 1064,2187 1070,2180 1072,2179 1065,2159 1088,2168 1093,2167 1092,2165" fill="none" stroke="none" marker-start="url(#bm16)" marker-mid="url(#bm16)" marker-end="url(#bm16)"/>
<polyline points="1003,2201 1033,2213 1018,2192 1038,2205 1023,2187 1042,2202 1047,2200 1037,2182 1054,2199 1035,2178 1063,2191 1080,2175 1098,2162 1086,2147" fill="none" stroke="none" marker-start="url(#bm15)" marker-mid="url(#bm15)" marker-end="url(#bm15)"/>
<polyline points="1015,2191 1037,2208 1021,2190 1040,2207 1042,2202 1026,2183 1046,2201 1031,2181 1053,2201 1037,2174 1066,2186 1086,2171 1093,2170 1087,2141" fill="none" stroke="none" marker-start="url(#bm14)" marker-mid="url(#bm14)" marker-end="url(#bm14)"/>
<polyline points="1035,2213 1027,2182 1058,2197 1068,2185 1056,2162 1083,2177 1083,2177 1086,2178 1080,2146 1097,2163 1093,2140 1113,2143" fill="none" stroke="none" marker-start="url(#bm13)" marker-mid="url(#bm13)" marker-end="url(#bm13)"/>
<polyline points="1033,2180 1076,2185 1085,2139 1093,2135 1109,2145 1114,2139" fill="none" stroke="none" marker-start="url(#bm12)" marker-mid="url(#bm12)" marker-end="url(#bm12)"/>
<polyline points="1101,2164 1104,2163 1110,2150 1110,2147 1095,2132 1114,2119 1113,2115 1117,2114 1123,2107" fill="none" stroke="none" marker-start="url(#bm11)" marker-mid="url(#bm11)" marker-end="url(#bm11)"/>
<polyline points="1096,2128 1115,2143 1120,2139 1109,2123 1125,2124" fill="none" stroke="none" marker-start="url(#bm10)" marker-mid="url(#bm10)" marker-end="url(#bm10)"/>
<polyline points="1118,2133 1107,2117 1113,2114 1127,2129 1131,2124 1142,2103" fill="none" stroke="none" marker-start="url(#bm9)" marker-mid="url(#bm9)" marker-end="url(#bm9)"/>
<polyline points="1114,2147 1120,2138 1127,2130 1136,2115 1130,2099 1130,2099 1140,2107 1143,2106 1146,2105 1151,2094 1144,2083 1160,2089 1158,2069" fill="none" stroke="none" marker-start="url(#bm8)" marker-mid="url(#bm8)" marker-end="url(#bm8)"/>
<polyline points="1113,2112 1146,2104 1156,2094 1159,2088 1182,2060 1208,2015" fill="none" stroke="none" marker-start="url(#bm7)" marker-mid="url(#bm7)" marker-end="url(#bm7)"/>
<polyline points="1127,2098 1142,2104 1136,2087 1152,2100 1142,2085 1164,2085 1161,2060 1172,2071 1163,2060 1174,2049 1177,2045 1183,2038 1223,2020 1228,2011" fill="none" stroke="none" marker-start="url(#bm6)" marker-mid="url(#bm6)" marker-end="url(#bm6)"/>
<polyline points="1153,2067 1171,2077 1157,2064 1176,2066 1184,2057 1179,2042 1184,2035 1273,1975" fill="none" stroke="none" marker-start="url(#bm5)" marker-mid="url(#bm5)" marker-end="url(#bm5)"/>
<polyline points="1174,2067 1165,2056 1175,2049 1194,2046 1183,2033 1203,2042 1203,2036 1207,2036 1200,2021 1202,2019 1207,2016 1211,2010 1224,2021 1229,2013 1224,2000 1250,1997 1244,1975 1250,1975 1270,1973 1265,1960 1277,1951 1344,1903 1356,1881" fill="none" stroke="none" marker-start="url(#bm4)" marker-mid="url(#bm4)" marker-end="url(#bm4)"/>
<polyline points="1168,2051 1212,2030 1219,2023 1224,2016 1219,2006 1220,2005 1219,2000 1225,1998 1247,1993 1255,1985 1260,1982 1262,1982 1253,1970 1252,1968 1264,1979 1280,1966 1281,1964 1284,1961 1282,1946 1295,1949 1302,1944" fill="none" stroke="none" marker-start="url(#bm3)" marker-mid="url(#bm3)" marker-end="url(#bm3)"/>
<polyline points="1190,2030 1215,2030 1206,2012 1226,2016 1256,1991 1259,1987 1272,1972 1264,1959 1301,1945 1308,1926 1321,1929 1315,1920 1318,1916 1321,1915 1352,1896 1356,1893 1351,1885" fill="none" stroke="none" marker-start="url(#bm2)" marker-mid="url(#bm2)" marker-end="url(#bm2)"/>
<polyline points="1216,2025 1238,1986 1253,1972 1293,1953 1288,1938 1299,1933 1319,1931 1320,1931 1334,1914 1337,1914 1352,1886" fill="none" stroke="none" marker-start="url(#bm1)" marker-mid="url(#bm1)" marker-end="url(#bm1)"/>
<polyline points="1307,1944 1314,1938 1320,1931 1346,1890" fill="none" stroke="none" marker-start="url(#bm0)" marker-mid="url(#bm0)" marker-end="url(#bm0)"/>
<polyline points="639,2579 632,2551 654,2569 654,2565 657,2561 646,2539 664,2546 667,2546 675,2537 676,2535 672,2527 668,2521 690,2532 677,2517 689,2523 682,2513 689,2502 686,2498 720,2495 730,2496 733,2457" fill="none" stroke="none" marker-start="url(#bm63)" marker-mid="url(#bm63)" marker-end="url(#bm63)"/>
<polyline points="620,2597 632,2585 628,2579 632,2553 650,2557 650,2558 655,2558 660,2561 649,2541 656,2549 667,2556 651,2537 663,2548 651,2534 663,2538 662,2536 670,2545 670,2543 671,2543 678,2543 674,2538 661,2525 662,2521 676,2532 664,2516 674,2520 669,2513 685,2526 688,2527 687,2524 696,2517 703,2517 709,2521 700,2513 695,2489 702,2491 722,2511 702,2488 719,2504 725,2506 727,2504 721,2494 717,2489 729,2496 728,2488 738,2496 727,2478 745,2469" fill="none" stroke="none" marker-start="url(#bm62)" marker-mid="url(#bm62)" marker-end="url(#bm62)"/>
<polyline points="626,2590 627,2586 627,2578 628,2578 639,2581 635,2574 634,2571 638,2571 640,2570 644,2574 647,2575 642,2568 644,2568 646,2571 647,2568 639,2561 643,2557 637,2551 647,2557 637,2547 635,2544 637,2543 653,2553 660,2561 660,2554 647,2541 662,2545 654,2532 673,2551 668,2544 656,2525 674,2538 671,2537 664,2527 681,2544 680,2539 678,2538 682,2540 685,2541 686,2540 682,2530 687,2533 682,2528 688,2528 691,2532 676,2517 677,2515 691,2530 680,2516 674,2506 686,2516 679,2507 686,2514 698,2525 683,2509 684,2508 682,2504 702,2523 688,2499 701,2510 686,2497 710,2518 692,2499 705,2511 697,2503 715,2516 712,2513 712,2511 700,2498 709,2506 706,2500 703,2495 721,2510 715,2506 709,2495 709,2493 717,2500 709,2490 712,2487 729,2504 724,2497 710,2483 722,2489 719,2487 716,2483 727,2489 727,2487 726,2481 730,2485 729,2483 718,2471 741,2491 738,2488 738,2480 727,2468 751,2486 743,2475 729,2460 756,2475 752,2463" fill="none" stroke="none" marker-start="url(#bm61)" marker-mid="url(#bm61)" marker-end="url(#bm61)"/>
<polyline points="605,2589 608,2587 609,2585 621,2591 621,2584 618,2579 617,2577 632,2584 621,2572 628,2571 633,2576 635,2578 628,2562 641,2572 635,2566 628,2557 651,2571 654,2570 640,2549 655,2561 648,2546 659,2558 647,2545 662,2552 663,2551 661,2538 669,2542 657,2529 676,2544 670,2539 670,2537 674,2535 662,2523 681,2536 671,2523 684,2535 684,2532 684,2530 686,2530 677,2519 679,2515 677,2507 683,2513 677,2509 693,2524 698,2523 705,2525 700,2515 702,2517 706,2519 699,2511 709,2514 692,2494 711,2512 714,2504 708,2496 724,2501 720,2495 710,2483 716,2487 711,2480 715,2484 720,2484 726,2484 716,2472 740,2494 733,2487 731,2483 731,2478 733,2479 728,2472 737,2478 738,2479 742,2481 739,2474 740,2473 730,2464 742,2472 733,2461 732,2460 747,2475 747,2474 751,2478 754,2474 740,2461 737,2456 759,2476 745,2463 757,2468 745,2456 748,2457 750,2457 756,2450 761,2450 763,2452 775,2463 769,2457 778,2452 770,2444 779,2448 781,2431" fill="none" stroke="none" marker-start="url(#bm60)" marker-mid="url(#bm60)" marker-end="url(#bm60)"/>
<polyline points="612,2599 611,2598 620,2593 621,2592 617,2581 622,2577 625,2576 630,2581 618,2570 630,2579 624,2570 637,2581 623,2564 644,2569 643,2567 652,2572 634,2552 648,2563 648,2563 669,2517 702,2524 687,2503 704,2517 702,2512 708,2500 712,2502 715,2499 710,2492 710,2490 708,2479 728,2497 722,2482 717,2477 738,2497 727,2479 737,2488 731,2482 733,2484 745,2486 732,2474 735,2477 737,2478 734,2474 734,2475 733,2471 745,2481 737,2474 750,2486 742,2477 738,2471 739,2467 741,2467 746,2472 756,2481 756,2471 758,2471 752,2466 755,2467 747,2458 755,2461 750,2454 750,2454 755,2456 765,2463 771,2462 768,2456 768,2456 768,2452 776,2458 783,2456 771,2441 762,2432 771,2440 781,2450 771,2433 780,2443 768,2430 776,2437 781,2441 786,2446 775,2423 781,2416 811,2432" fill="none" stroke="none" marker-start="url(#bm59)" marker-mid="url(#bm59)" marker-end="url(#bm59)"/>
<polyline points="598,2593 619,2603 621,2597 629,2589 627,2586 649,2568 702,2515 714,2506 705,2483 725,2484 729,2481 744,2491 740,2479 736,2469 732,2462 746,2471 749,2473 734,2454 761,2477 741,2451 757,2465 759,2458 767,2464 773,2468 761,2457 756,2452 763,2453 761,2447 761,2446 757,2439 780,2461 767,2447 768,2441 782,2451 783,2452 777,2447 791,2448 793,2448 778,2426 776,2415 801,2440 777,2414 779,2411 783,2413 799,2424 800,2422 809,2427 800,2417" fill="none" stroke="none" marker-start="url(#bm58)" marker-mid="url(#bm58)" marker-end="url(#bm58)"/>
<polyline points="600,2590 604,2584 694,2496 748,2464 743,2456 745,2459 765,2471 745,2449 761,2462 769,2462 766,2454 757,2442 761,2446 773,2457 779,2452 782,2456 763,2436 783,2456 787,2454 777,2441 779,2443 785,2449 786,2448 785,2446 788,2445 781,2433 777,2425 779,2427 797,2443 791,2438 791,2436 779,2421 799,2441 801,2437 793,2428 784,2418 801,2435 796,2428 783,2415 793,2422 787,2414 806,2431 805,2418" fill="none" stroke="none" marker-start="url(#bm57)" marker-mid="url(#bm57)" marker-end="url(#bm57)"/>
<polyline points="611,2592 769,2453 773,2439 789,2451 788,2444 779,2435 777,2428 789,2439 795,2446 774,2423 776,2423 777,2423 777,2423 774,2420 775,2418 787,2428 793,2430 802,2439 796,2431 804,2436 779,2410 803,2432 804,2434 785,2412 795,2421 791,2412 803,2423 785,2404 801,2418 797,2412 797,2410 802,2413 805,2410 817,2421 817,2419 806,2402 813,2405 820,2405 802,2387 832,2411 811,2389 813,2383" fill="none" stroke="none" marker-start="url(#bm56)" marker-mid="url(#bm56)" marker-end="url(#bm56)"/>
<polyline points="778,2449 782,2440 786,2440 783,2434 802,2435 781,2411 802,2431 794,2424 796,2424 809,2429 812,2428 814,2427 796,2408 796,2406 806,2413 802,2409 805,2411 801,2404 797,2399 804,2405 812,2411 819,2418 811,2409 796,2393 821,2415 809,2401 824,2415 802,2390 811,2396 808,2391 830,2412 831,2406 815,2386 810,2382 833,2401 832,2383" fill="none" stroke="none" marker-start="url(#bm55)" marker-mid="url(#bm55)" marker-end="url(#bm55)"/>
<polyline points="799,2429 787,2408 792,2403 812,2423 797,2405 819,2424 809,2413 815,2418 815,2416 820,2419 802,2400 816,2412 824,2415 812,2399 825,2412 818,2403 805,2388 819,2403 823,2407 822,2405 822,2402 807,2388 821,2396 811,2384 832,2401 814,2380 821,2386 838,2401 836,2398 836,2398 829,2390 832,2395 816,2372 843,2390 826,2372" fill="none" stroke="none" marker-start="url(#bm54)" marker-mid="url(#bm54)" marker-end="url(#bm54)"/>
<polyline points="801,2391 820,2407 830,2414 821,2396 833,2406 833,2404 810,2379 831,2398 822,2387 835,2398 817,2377 839,2396 839,2393 825,2378 839,2386 822,2367 833,2377 826,2368 837,2376 852,2391 856,2378" fill="none" stroke="none" marker-start="url(#bm53)" marker-mid="url(#bm53)" marker-end="url(#bm53)"/>
<polyline points="803,2396 830,2410 817,2389 816,2385 825,2394 820,2388 834,2400 821,2383 840,2401 828,2388 832,2388 835,2390 838,2392 823,2376 825,2376 838,2380 843,2381 844,2376 840,2363" fill="none" stroke="none" marker-start="url(#bm52)" marker-mid="url(#bm52)" marker-end="url(#bm52)"/>
<polyline points="818,2396 828,2381 833,2381 832,2377 843,2382 839,2376 837,2372 851,2386 841,2375 835,2367 841,2372 836,2365 846,2373 851,2378 850,2375 833,2352 862,2380 846,2361" fill="none" stroke="none" marker-start="url(#bm51)" marker-mid="url(#bm51)" marker-end="url(#bm51)"/>
<polyline points="847,2389 855,2384 856,2384 852,2377 859,2384 848,2373 848,2357 854,2363 861,2365 849,2347" fill="none" stroke="none" marker-start="url(#bm50)" marker-mid="url(#bm50)" marker-end="url(#bm50)"/>
<polyline points="855,2378 859,2373 844,2359 839,2351 839,2348 854,2362 855,2359" fill="none" stroke="none" marker-start="url(#bm49)" marker-mid="url(#bm49)" marker-end="url(#bm49)"/>
<polyline points="855,2368 858,2369 859,2370 850,2359 857,2361 866,2371 865,2368 845,2344 848,2348 848,2347 853,2351 861,2358 866,2362 851,2346 855,2348 860,2353 859,2351 869,2340" fill="none" stroke="none" marker-start="url(#bm48)" marker-mid="url(#bm48)" marker-end="url(#bm48)"/>
<polyline points="852,2359 842,2349 840,2344 863,2365 863,2365 854,2353 863,2362 845,2339 854,2348 852,2345 856,2345 867,2355 861,2349 872,2356 852,2330 869,2349 874,2350" fill="none" stroke="none" marker-start="url(#bm47)" marker-mid="url(#bm47)" marker-end="url(#bm47)"/>
<polyline points="855,2358 851,2344 855,2344 867,2355 871,2358 851,2336 859,2342 862,2344 876,2350 878,2350 862,2330 886,2353 878,2343" fill="none" stroke="none" marker-start="url(#bm46)" marker-mid="url(#bm46)" marker-end="url(#bm46)"/>
<polyline points="869,2356 871,2355 859,2342 874,2352 856,2334 864,2339 879,2352 875,2345 860,2330 874,2342 877,2344 862,2324" fill="none" stroke="none" marker-start="url(#bm45)" marker-mid="url(#bm45)" marker-end="url(#bm45)"/>
<polyline points="877,2363 864,2345 865,2342 882,2355 867,2342 871,2343 880,2347 862,2327 867,2327 865,2321 881,2334 881,2335 889,2342 873,2320 901,2334" fill="none" stroke="none" marker-start="url(#bm44)" marker-mid="url(#bm44)" marker-end="url(#bm44)"/>
<polyline points="856,2324 865,2332 864,2325 891,2345 879,2334 882,2333 865,2315 891,2340 894,2335 869,2312 879,2314 895,2322" fill="none" stroke="none" marker-start="url(#bm43)" marker-mid="url(#bm43)" marker-end="url(#bm43)"/>
<polyline points="890,2339 891,2337 884,2329 891,2334 895,2337 874,2307 901,2334 879,2309 901,2326 902,2326 891,2310" fill="none" stroke="none" marker-start="url(#bm42)" marker-mid="url(#bm42)" marker-end="url(#bm42)"/>
<polyline points="872,2309 895,2329 891,2324 874,2305 881,2311 903,2329 882,2308 880,2303 882,2304 902,2324 903,2323" fill="none" stroke="none" marker-start="url(#bm41)" marker-mid="url(#bm41)" marker-end="url(#bm41)"/>
<polyline points="875,2321 885,2324 899,2336 899,2330 877,2306 895,2322 899,2320 904,2321 892,2304 890,2301 892,2302 902,2309 903,2310 908,2313 902,2305 919,2319 905,2289" fill="none" stroke="none" marker-start="url(#bm40)" marker-mid="url(#bm40)" marker-end="url(#bm40)"/>
<polyline points="908,2329 887,2304 895,2310 900,2316 912,2323 901,2308 898,2300 897,2300 918,2317 912,2310 899,2298 903,2301 898,2292 920,2314 906,2296 926,2314 929,2306" fill="none" stroke="none" marker-start="url(#bm39)" marker-mid="url(#bm39)" marker-end="url(#bm39)"/>
<polyline points="891,2318 910,2330 908,2321 900,2310 913,2321 894,2294 907,2304 906,2303 919,2315 910,2298 917,2303 917,2304 928,2313 928,2312 915,2300" fill="none" stroke="none" marker-start="url(#bm38)" marker-mid="url(#bm38)" marker-end="url(#bm38)"/>
<polyline points="899,2298 917,2304 918,2301 909,2289 930,2309 924,2303 930,2308 912,2288 918,2288 921,2278" fill="none" stroke="none" marker-start="url(#bm37)" marker-mid="url(#bm37)" marker-end="url(#bm37)"/>
<polyline points="922,2313 909,2297 923,2308 919,2299 912,2290 922,2299 916,2290 918,2291 933,2304 935,2302 935,2296" fill="none" stroke="none" marker-start="url(#bm36)" marker-mid="url(#bm36)" marker-end="url(#bm36)"/>
<polyline points="920,2293 934,2305 931,2300 928,2299 936,2299 931,2283 933,2284" fill="none" stroke="none" marker-start="url(#bm35)" marker-mid="url(#bm35)" marker-end="url(#bm35)"/>
<polyline points="913,2281 927,2293 917,2278 928,2289 941,2286" fill="none" stroke="none" marker-start="url(#bm34)" marker-mid="url(#bm34)" marker-end="url(#bm34)"/>
<polyline points="937,2289 930,2277 937,2279 935,2278 933,2275 937,2279" fill="none" stroke="none" marker-start="url(#bm33)" marker-mid="url(#bm33)" marker-end="url(#bm33)"/>
<polyline points="939,2289 935,2284 947,2291 938,2279" fill="none" stroke="none" marker-start="url(#bm32)" marker-mid="url(#bm32)" marker-end="url(#bm32)"/>
<polyline points="949,2284 959,2289 940,2268 952,2279 954,2272" fill="none" stroke="none" marker-start="url(#bm31)" marker-mid="url(#bm31)" marker-end="url(#bm31)"/>
<polyline points="942,2278 945,2269 955,2266 967,2278 964,2274" fill="none" stroke="none" marker-start="url(#bm30)" marker-mid="url(#bm30)" marker-end="url(#bm30)"/>
<polyline points="933,2277 959,2288 961,2286 963,2284 951,2270 958,2274 964,2270" fill="none" stroke="none" marker-start="url(#bm29)" marker-mid="url(#bm29)" marker-end="url(#bm29)"/>
<polyline points="953,2273 965,2283 948,2258 951,2260 954,2260 967,2270" fill="none" stroke="none" marker-start="url(#bm28)" marker-mid="url(#bm28)" marker-end="url(#bm28)"/>
<polyline points="974,2271 968,2262 978,2270 980,2260 974,2247" fill="none" stroke="none" marker-start="url(#bm27)" marker-mid="url(#bm27)" marker-end="url(#bm27)"/>
<polyline points="980,2271 961,2250 975,2256 980,2251 989,2253" fill="none" stroke="none" marker-start="url(#bm26)" marker-mid="url(#bm26)" marker-end="url(#bm26)"/>
<polyline points="977,2260 970,2247 979,2254 979,2252 993,2243" fill="none" stroke="none" marker-start="url(#bm25)" marker-mid="url(#bm25)" marker-end="url(#bm25)"/>
<polyline points="970,2247 969,2246 978,2253 986,2255 981,2249 983,2244 987,2245 984,2241 979,2233 989,2243 995,2243" fill="none" stroke="none" marker-start="url(#bm24)" marker-mid="url(#bm24)" marker-end="url(#bm24)"/>
<polyline points="986,2246 987,2238 982,2231 997,2245 992,2239 996,2238 993,2221 1007,2231" fill="none" stroke="none" marker-start="url(#bm23)" marker-mid="url(#bm23)" marker-end="url(#bm23)"/>
<polyline points="979,2249 992,2247 980,2233 998,2248 984,2234 991,2236 992,2237 1001,2239 998,2231 1000,2217" fill="none" stroke="none" marker-start="url(#bm22)" marker-mid="url(#bm22)" marker-end="url(#bm22)"/>
<polyline points="992,2242 986,2228 995,2235 988,2228 989,2229 996,2230 1009,2230" fill="none" stroke="none" marker-start="url(#bm21)" marker-mid="url(#bm21)" marker-end="url(#bm21)"/>
<polyline points="988,2228 1000,2230 996,2225 1005,2212 1012,2217" fill="none" stroke="none" marker-start="url(#bm20)" marker-mid="url(#bm20)" marker-end="url(#bm20)"/>
<polyline points="1010,2229 1015,2226 1013,2214 1013,2211 1014,2209 1049,2175 1084,2155" fill="none" stroke="none" marker-start="url(#bm19)" marker-mid="url(#bm19)" marker-end="url(#bm19)"/>
<polyline points="1014,2225 1018,2221 1009,2213 1015,2214 1023,2207 1021,2201 1031,2196 1034,2189 1050,2175 1059,2176 1057,2174 1077,2168 1079,2167 1088,2159" fill="none" stroke="none" marker-start="url(#bm18)" marker-mid="url(#bm18)" marker-end="url(#bm18)"/>
<polyline points="1009,2210 1018,2217 1010,2208 1017,2212 1020,2202 1033,2201 1034,2193 1035,2187 1046,2195 1039,2185 1049,2191 1053,2186 1049,2182 1049,2178 1060,2174 1058,2170 1059,2172 1062,2168 1073,2177 1070,2173 1064,2165 1080,2167 1084,2152" fill="none" stroke="none" marker-start="url(#bm17)" marker-mid="url(#bm17)" marker-end="url(#bm17)"/>
<polyline points="1022,2198 1028,2200 1030,2195 1046,2193 1043,2187 1049,2184 1048,2179 1053,2184 1053,2183 1049,2177 1052,2180 1057,2175 1061,2177 1066,2182 1066,2172 1069,2174 1071,2172 1065,2166 1080,2172 1072,2163 1074,2160 1076,2161 1080,2157 1088,2159 1086,2153 1094,2157 1093,2150" fill="none" stroke="none" marker-start="url(#bm16)" marker-mid="url(#bm16)" marker-end="url(#bm16)"/>
<polyline points="1013,2219 1029,2205 1041,2193 1060,2176 1066,2180 1061,2174 1061,2168 1069,2175 1073,2171 1080,2171 1072,2162 1072,2160 1091,2154 1099,2140 1105,2142" fill="none" stroke="none" marker-start="url(#bm15)" marker-mid="url(#bm15)" marker-end="url(#bm15)"/>
<polyline points="1045,2187 1074,2174 1074,2173 1077,2171 1095,2146 1094,2146 1092,2144 1098,2139" fill="none" stroke="none" marker-start="url(#bm14)" marker-mid="url(#bm14)" marker-end="url(#bm14)"/>
<polyline points="1085,2160 1086,2149 1103,2145" fill="none" stroke="none" marker-start="url(#bm13)" marker-mid="url(#bm13)" marker-end="url(#bm13)"/>
<polyline points="1105,2140 1105,2135 1104,2132 1111,2134 1110,2134 1117,2122" fill="none" stroke="none" marker-start="url(#bm12)" marker-mid="url(#bm12)" marker-end="url(#bm12)"/>
<polyline points="1118,2126 1121,2122 1121,2114 1125,2117 1126,2109" fill="none" stroke="none" marker-start="url(#bm11)" marker-mid="url(#bm11)" marker-end="url(#bm11)"/>
<polyline points="1112,2131 1119,2124 1119,2116 1123,2120 1123,2117 1128,2115 1130,2112 1146,2094" fill="none" stroke="none" marker-start="url(#bm10)" marker-mid="url(#bm10)" marker-end="url(#bm10)"/>
<polyline points="1107,2129 1114,2128 1121,2121 1126,2114 1129,2116 1124,2109 1127,2108 1130,2110 1129,2109 1132,2105 1133,2100 1139,2104 1135,2099 1136,2096 1144,2096 1144,2089 1148,2086 1161,2076" fill="none" stroke="none" marker-start="url(#bm9)" marker-mid="url(#bm9)" marker-end="url(#bm9)"/>
<polyline points="1120,2119 1122,2115 1126,2111 1131,2116 1140,2097 1147,2090 1150,2078 1156,2078 1156,2073 1169,2072 1175,2065" fill="none" stroke="none" marker-start="url(#bm8)" marker-mid="url(#bm8)" marker-end="url(#bm8)"/>
<polyline points="1137,2109 1145,2099 1141,2094 1145,2098 1148,2096 1143,2091 1152,2084 1155,2082 1158,2082 1161,2078 1159,2070 1168,2067 1170,2068 1175,2054 1185,2048" fill="none" stroke="none" marker-start="url(#bm7)" marker-mid="url(#bm7)" marker-end="url(#bm7)"/>
<polyline points="1150,2087 1160,2082 1162,2073 1161,2072 1164,2069 1168,2069 1168,2071 1179,2056 1180,2054 1225,2009 1224,2002" fill="none" stroke="none" marker-start="url(#bm6)" marker-mid="url(#bm6)" marker-end="url(#bm6)"/>
<polyline points="1141,2094 1160,2075 1162,2070 1165,2066 1164,2065 1171,2066 1170,2055 1179,2053 1180,2052 1182,2054 1183,2051 1181,2047 1186,2051 1188,2049 1195,2037 1199,2031 1201,2028 1202,2026 1207,2027 1217,2018 1224,2012 1224,2004 1230,2008 1227,2003 1227,2003 1256,1982 1262,1975 1271,1963 1280,1957" fill="none" stroke="none" marker-start="url(#bm5)" marker-mid="url(#bm5)" marker-end="url(#bm5)"/>
<polyline points="1174,2058 1174,2054 1184,2051 1185,2048 1183,2042 1191,2047 1194,2043 1189,2035 1193,2038 1197,2034 1199,2031 1206,2029 1217,2019 1221,2012 1234,2002 1233,1995 1237,1999 1237,1995 1252,1988 1255,1977 1264,1977 1258,1969 1267,1966 1271,1969 1267,1961 1282,1954 1302,1932 1325,1922 1326,1918" fill="none" stroke="none" marker-start="url(#bm4)" marker-mid="url(#bm4)" marker-end="url(#bm4)"/>
<polyline points="1165,2068 1169,2060 1177,2057 1189,2042 1188,2038 1193,2033 1211,2019 1216,2019 1223,2008 1224,2009 1230,2005 1244,1984 1250,1988 1252,1988 1246,1981 1249,1983 1253,1985 1251,1977 1259,1979 1259,1978 1267,1968 1266,1965 1267,1960 1278,1954 1288,1954 1292,1946 1296,1940 1297,1938 1304,1934 1314,1930 1315,1921 1319,1917 1335,1905 1336,1902 1354,1886" fill="none" stroke="none" marker-start="url(#bm3)" marker-mid="url(#bm3)" marker-end="url(#bm3)"/>
<polyline points="1180,2046 1203,2026 1238,1999 1242,1989 1244,1990 1247,1991 1247,1987 1249,1986 1250,1985 1248,1982 1256,1978 1256,1971 1263,1973 1263,1967 1270,1961 1280,1951 1289,1948 1294,1947 1293,1945 1309,1937 1309,1935 1317,1922 1327,1917 1325,1914 1328,1912 1343,1899 1346,1898 1354,1890 1355,1884" fill="none" stroke="none" marker-start="url(#bm2)" marker-mid="url(#bm2)" marker-end="url(#bm2)"/>
<polyline points="1237,1999 1260,1968 1267,1969 1281,1954 1294,1949 1295,1947 1302,1938 1302,1939 1305,1937 1307,1932 1320,1923 1335,1908 1357,1886" fill="none" stroke="none" marker-start="url(#bm1)" marker-mid="url(#bm1)" marker-end="url(#bm1)"/>
<polyline points="1294,1944 1310,1927 1353,1892" fill="none" stroke="none" marker-start="url(#bm0)" marker-mid="url(#bm0)" marker-end="url(#bm0)"/>
<polyline points="302,2614 302,2614" fill="none" stroke="none" marker-start="url(#bm58)" marker-mid="url(#bm58)" marker-end="url(#bm58)"/>
<polyline points="526,2638 526,2638" fill="none" stroke="none" marker-start="url(#bm57)" marker-mid="url(#bm57)" marker-end="url(#bm57)"/>
<polyline points="629,2630 629,2630" fill="none" stroke="none" marker-start="url(#bm53)" marker-mid="url(#bm53)" marker-end="url(#bm53)"/>
<polyline points="336,2414 336,2414" fill="none" stroke="none" marker-start="url(#bm46)" marker-mid="url(#bm46)" marker-end="url(#bm46)"/>
<polyline points="289,2411 344,2403 422,2412 531,2407 699,2610" fill="none" stroke="none" marker-start="url(#bm44)" marker-mid="url(#bm44)" marker-end="url(#bm44)"/>
<polyline points="469,2401 502,2401 522,2399" fill="none" stroke="none" marker-start="url(#bm43)" marker-mid="url(#bm43)" marker-end="url(#bm43)"/>
<polyline points="512,2404 512,2404" fill="none" stroke="none" marker-start="url(#bm42)" marker-mid="url(#bm42)" marker-end="url(#bm42)"/>
<polyline points="368,2398 586,2388 729,2590 738,2601" fill="none" stroke="none" marker-start="url(#bm40)" marker-mid="url(#bm40)" marker-end="url(#bm40)"/>
<polyline points="391,2398 391,2398" fill="none" stroke="none" marker-start="url(#bm39)" marker-mid="url(#bm39)" marker-end="url(#bm39)"/>
<polyline points="385,2388 411,2391 567,2385" fill="none" stroke="none" marker-start="url(#bm38)" marker-mid="url(#bm38)" marker-end="url(#bm38)"/>
<polyline points="658,2382 658,2382" fill="none" stroke="none" marker-start="url(#bm36)" marker-mid="url(#bm36)" marker-end="url(#bm36)"/>
<polyline points="756,2571 756,2571" fill="none" stroke="none" marker-start="url(#bm35)" marker-mid="url(#bm35)" marker-end="url(#bm35)"/>
<polyline points="629,2380 629,2380" fill="none" stroke="none" marker-start="url(#bm34)" marker-mid="url(#bm34)" marker-end="url(#bm34)"/>
<polyline points="547,2385 547,2385" fill="none" stroke="none" marker-start="url(#bm32)" marker-mid="url(#bm32)" marker-end="url(#bm32)"/>
<polyline points="682,2378 783,2530 800,2540" fill="none" stroke="none" marker-start="url(#bm30)" marker-mid="url(#bm30)" marker-end="url(#bm30)"/>
<polyline points="675,2368 690,2360 817,2533" fill="none" stroke="none" marker-start="url(#bm28)" marker-mid="url(#bm28)" marker-end="url(#bm28)"/>
<polyline points="665,2356 742,2350" fill="none" stroke="none" marker-start="url(#bm25)" marker-mid="url(#bm25)" marker-end="url(#bm25)"/>
<polyline points="717,2345 750,2338" fill="none" stroke="none" marker-start="url(#bm24)" marker-mid="url(#bm24)" marker-end="url(#bm24)"/>
<polyline points="730,2332 808,2508 820,2518" fill="none" stroke="none" marker-start="url(#bm22)" marker-mid="url(#bm22)" marker-end="url(#bm22)"/>
<polyline points="552,2375 635,2349 832,2510" fill="none" stroke="none" marker-start="url(#bm20)" marker-mid="url(#bm20)" marker-end="url(#bm20)"/>
<polyline points="552,2374 552,2374" fill="none" stroke="none" marker-start="url(#bm18)" marker-mid="url(#bm18)" marker-end="url(#bm18)"/>
<polyline points="647,2350 653,2356" fill="none" stroke="none" marker-start="url(#bm15)" marker-mid="url(#bm15)" marker-end="url(#bm15)"/>
<polyline points="595,2344 595,2344" fill="none" stroke="none" marker-start="url(#bm14)" marker-mid="url(#bm14)" marker-end="url(#bm14)"/>
<polyline points="598,2340 598,2340" fill="none" stroke="none" marker-start="url(#bm12)" marker-mid="url(#bm12)" marker-end="url(#bm12)"/>
<polyline points="775,2315 775,2315" fill="none" stroke="none" marker-start="url(#bm8)" marker-mid="url(#bm8)" marker-end="url(#bm8)"/>
<polyline points="702,2336 762,2305" fill="none" stroke="none" marker-start="url(#bm6)" marker-mid="url(#bm6)" marker-end="url(#bm6)"/>
<polyline points="790,2302 790,2302" fill="none" stroke="none" marker-start="url(#bm5)" marker-mid="url(#bm5)" marker-end="url(#bm5)"/>
<polyline points="1072,2213 1061,2236 1038,2270 877,2450 686,2324" fill="none" stroke="none" marker-start="url(#bm3)" marker-mid="url(#bm3)" marker-end="url(#bm3)"/>
<polyline points="718,2284 1254,2018 1159,2111 1136,2134 953,2203 598,2315" fill="none" stroke="none" marker-start="url(#bm2)" marker-mid="url(#bm2)" marker-end="url(#bm2)"/>
<polyline points="1443,1842 1496,1818 1345,1870 1360,1880 1372,1872 1352,1895 1366,1900 1378,1888 1340,1912 1356,1921" fill="none" stroke="none" marker-start="url(#bm1)" marker-mid="url(#bm1)" marker-end="url(#bm1)"/>
<line x1="274.40" y1="2951.70" x2="1501.00" y2="1726.40" stroke="#111" stroke-width="2.6"/>
<path d="M274.40 2951.70V2938.10M274.40 2951.70H288.00M364.20 2951.70V2944.20M274.40 2861.92H281.90M416.74 2951.70V2944.20M274.40 2809.40H281.90M454.01 2951.70V2944.20M274.40 2772.14H281.90M482.92 2951.70V2944.20M274.40 2743.23H281.90M506.54 2951.70V2944.20M274.40 2719.62H281.90M526.51 2951.70V2944.20M274.40 2699.65H281.90M543.81 2951.70V2944.20M274.40 2682.35H281.90M559.07 2951.70V2944.20M274.40 2667.10H281.90M572.73 2951.70V2944.20M274.40 2653.45H288.00M662.53 2951.70V2944.20M274.40 2563.67H281.90M715.06 2951.70V2944.20M274.40 2511.15H281.90M752.33 2951.70V2944.20M274.40 2473.89H281.90M781.25 2951.70V2944.20M274.40 2444.98H281.90M804.87 2951.70V2944.20M274.40 2421.37H281.90M824.84 2951.70V2944.20M274.40 2401.40H281.90M842.14 2951.70V2944.20M274.40 2384.10H281.90M857.40 2951.70V2944.20M274.40 2368.85H281.90M871.05 2951.70V2938.10M274.40 2355.20H288.00M960.85 2951.70V2944.20M274.40 2265.42H281.90M1013.39 2951.70V2944.20M274.40 2212.90H281.90M1050.66 2951.70V2944.20M274.40 2175.64H281.90M1079.57 2951.70V2944.20M274.40 2146.73H281.90M1103.19 2951.70V2944.20M274.40 2123.12H281.90M1123.16 2951.70V2944.20M274.40 2103.15H281.90M1140.46 2951.70V2944.20M274.40 2085.85H281.90M1155.72 2951.70V2944.20M274.40 2070.60H281.90M1169.38 2951.70V2944.20M274.40 2056.95H288.00M1259.18 2951.70V2944.20M274.40 1967.17H281.90M1311.71 2951.70V2944.20M274.40 1914.65H281.90M1348.98 2951.70V2944.20M274.40 1877.39H281.90M1377.90 2951.70V2944.20M274.40 1848.48H281.90M1401.52 2951.70V2944.20M274.40 1824.87H281.90M1421.49 2951.70V2944.20M274.40 1804.90H281.90M1438.79 2951.70V2944.20M274.40 1787.60H281.90M1454.05 2951.70V2944.20M274.40 1772.35H281.90M1467.70 2951.70V2938.10M274.40 1758.70H288.00" stroke="#141414" stroke-width="2.6" fill="none"/>
<rect x="274.40" y="1726.40" width="1226.60" height="1225.30" fill="none" stroke="#141414" stroke-width="2.6"/>
<text x="151.51" y="2982.50" font-size="59.5">10</text>
<text x="211.01" y="2953.50" font-size="50.0">-2</text>
<text x="151.75" y="2684.25" font-size="59.5">10</text>
<text x="211.25" y="2655.25" font-size="50.0">-1</text>
<text x="167.30" y="2386.00" font-size="59.5">10</text>
<text x="226.80" y="2357.00" font-size="50.0">0</text>
<text x="168.40" y="2087.75" font-size="59.5">10</text>
<text x="227.90" y="2058.75" font-size="50.0">1</text>
<text x="168.16" y="1789.50" font-size="59.5">10</text>
<text x="227.66" y="1760.50" font-size="50.0">2</text>
<text x="223.69" y="3049.10" font-size="59.5">10</text>
<text x="283.99" y="3019.60" font-size="50.0">-2</text>
<text x="828.24" y="3049.10" font-size="59.5">10</text>
<text x="888.54" y="3019.60" font-size="50.0">0</text>
<text x="1425.31" y="3049.10" font-size="59.5">10</text>
<text x="1485.61" y="3019.60" font-size="50.0">2</text>
<g shape-rendering="crispEdges">
<rect x="1552.7" y="2934.10" width="79.7" height="19.80" fill="#4022ac"/>
<rect x="1552.7" y="2914.89" width="79.7" height="19.80" fill="#4224b6"/>
<rect x="1552.7" y="2895.69" width="79.7" height="19.80" fill="#4428c3"/>
<rect x="1552.7" y="2876.49" width="79.7" height="19.80" fill="#462dcd"/>
<rect x="1552.7" y="2857.28" width="79.7" height="19.80" fill="#4832d7"/>
<rect x="1552.7" y="2838.08" width="79.7" height="19.80" fill="#4838e1"/>
<rect x="1552.7" y="2818.88" width="79.7" height="19.80" fill="#483ee8"/>
<rect x="1552.7" y="2799.68" width="79.7" height="19.80" fill="#4644f0"/>
<rect x="1552.7" y="2780.47" width="79.7" height="19.80" fill="#424af5"/>
<rect x="1552.7" y="2761.27" width="79.7" height="19.80" fill="#3e50fa"/>
<rect x="1552.7" y="2742.07" width="79.7" height="19.80" fill="#3758fc"/>
<rect x="1552.7" y="2722.86" width="79.7" height="19.80" fill="#325fff"/>
<rect x="1552.7" y="2703.66" width="79.7" height="19.80" fill="#2d64ff"/>
<rect x="1552.7" y="2684.46" width="79.7" height="19.80" fill="#1e69ff"/>
<rect x="1552.7" y="2665.25" width="79.7" height="19.80" fill="#006eff"/>
<rect x="1552.7" y="2646.05" width="79.7" height="19.80" fill="#0076ff"/>
<rect x="1552.7" y="2626.85" width="79.7" height="19.80" fill="#007dfd"/>
<rect x="1552.7" y="2607.64" width="79.7" height="19.80" fill="#0082fa"/>
<rect x="1552.7" y="2588.44" width="79.7" height="19.80" fill="#0087f6"/>
<rect x="1552.7" y="2569.24" width="79.7" height="19.80" fill="#008cf2"/>
<rect x="1552.7" y="2550.03" width="79.7" height="19.80" fill="#0092ee"/>
<rect x="1552.7" y="2530.83" width="79.7" height="19.80" fill="#0098eb"/>
<rect x="1552.7" y="2511.63" width="79.7" height="19.80" fill="#009ee8"/>
<rect x="1552.7" y="2492.43" width="79.7" height="19.80" fill="#00a5e4"/>
<rect x="1552.7" y="2473.22" width="79.7" height="19.80" fill="#00aae1"/>
<rect x="1552.7" y="2454.02" width="79.7" height="19.80" fill="#00aede"/>
<rect x="1552.7" y="2434.82" width="79.7" height="19.80" fill="#00b0dc"/>
<rect x="1552.7" y="2415.61" width="79.7" height="19.80" fill="#00b2d7"/>
<rect x="1552.7" y="2396.41" width="79.7" height="19.80" fill="#00b6d0"/>
<rect x="1552.7" y="2377.21" width="79.7" height="19.80" fill="#00b8c8"/>
<rect x="1552.7" y="2358.00" width="79.7" height="19.80" fill="#00bac3"/>
<rect x="1552.7" y="2338.80" width="79.7" height="19.80" fill="#00bcbc"/>
<rect x="1552.7" y="2319.60" width="79.7" height="19.80" fill="#00beb4"/>
<rect x="1552.7" y="2300.39" width="79.7" height="19.80" fill="#00c1af"/>
<rect x="1552.7" y="2281.19" width="79.7" height="19.80" fill="#00c3a8"/>
<rect x="1552.7" y="2261.99" width="79.7" height="19.80" fill="#00c6a0"/>
<rect x="1552.7" y="2242.78" width="79.7" height="19.80" fill="#00c896"/>
<rect x="1552.7" y="2223.58" width="79.7" height="19.80" fill="#00ca8c"/>
<rect x="1552.7" y="2204.38" width="79.7" height="19.80" fill="#00cd82"/>
<rect x="1552.7" y="2185.18" width="79.7" height="19.80" fill="#00cd73"/>
<rect x="1552.7" y="2165.97" width="79.7" height="19.80" fill="#00cd64"/>
<rect x="1552.7" y="2146.77" width="79.7" height="19.80" fill="#00cd5a"/>
<rect x="1552.7" y="2127.57" width="79.7" height="19.80" fill="#4bcd50"/>
<rect x="1552.7" y="2108.36" width="79.7" height="19.80" fill="#6ecd41"/>
<rect x="1552.7" y="2089.16" width="79.7" height="19.80" fill="#8ccd32"/>
<rect x="1552.7" y="2069.96" width="79.7" height="19.80" fill="#a5c81e"/>
<rect x="1552.7" y="2050.75" width="79.7" height="19.80" fill="#b9c30f"/>
<rect x="1552.7" y="2031.55" width="79.7" height="19.80" fill="#c8c300"/>
<rect x="1552.7" y="2012.35" width="79.7" height="19.80" fill="#dac000"/>
<rect x="1552.7" y="1993.14" width="79.7" height="19.80" fill="#e6be00"/>
<rect x="1552.7" y="1973.94" width="79.7" height="19.80" fill="#f5bc00"/>
<rect x="1552.7" y="1954.74" width="79.7" height="19.80" fill="#ffb923"/>
<rect x="1552.7" y="1935.53" width="79.7" height="19.80" fill="#ffbc28"/>
<rect x="1552.7" y="1916.33" width="79.7" height="19.80" fill="#ffc028"/>
<rect x="1552.7" y="1897.13" width="79.7" height="19.80" fill="#ffc323"/>
<rect x="1552.7" y="1877.92" width="79.7" height="19.80" fill="#ffc814"/>
<rect x="1552.7" y="1858.72" width="79.7" height="19.80" fill="#ffd000"/>
<rect x="1552.7" y="1839.52" width="79.7" height="19.80" fill="#ffd700"/>
<rect x="1552.7" y="1820.32" width="79.7" height="19.80" fill="#ffde00"/>
<rect x="1552.7" y="1801.11" width="79.7" height="19.80" fill="#ffe100"/>
<rect x="1552.7" y="1781.91" width="79.7" height="19.80" fill="#fae800"/>
<rect x="1552.7" y="1762.71" width="79.7" height="19.80" fill="#f8ee00"/>
<rect x="1552.7" y="1743.50" width="79.7" height="19.80" fill="#f8f500"/>
<rect x="1552.7" y="1724.30" width="79.7" height="19.80" fill="#f8fa00"/>
</g>
<rect x="1552.7" y="1724.3" width="79.7" height="1229.0" fill="none" stroke="#141414" stroke-width="2.4"/>
<text x="1655.90" y="2974.80" font-size="59.5">0</text>
<line x1="1619.7" y1="2737.0" x2="1632.4" y2="2737.0" stroke="#141414" stroke-width="2.6"/>
<text x="1655.90" y="2758.54" font-size="59.5">1</text>
<line x1="1619.7" y1="2520.8" x2="1632.4" y2="2520.8" stroke="#141414" stroke-width="2.6"/>
<text x="1655.90" y="2542.28" font-size="59.5">2</text>
<line x1="1619.7" y1="2304.5" x2="1632.4" y2="2304.5" stroke="#141414" stroke-width="2.6"/>
<text x="1655.90" y="2326.02" font-size="59.5">3</text>
<line x1="1619.7" y1="2088.3" x2="1632.4" y2="2088.3" stroke="#141414" stroke-width="2.6"/>
<text x="1655.90" y="2109.76" font-size="59.5">4</text>
<line x1="1619.7" y1="1872.0" x2="1632.4" y2="1872.0" stroke="#141414" stroke-width="2.6"/>
<text x="1655.90" y="1893.50" font-size="59.5">5</text>
<text x="398.62" y="1887.10" font-size="60.2" font-style="italic">R</text>
<text x="434.79" y="1857.20" font-size="48.0">2</text>
<text x="457.40" y="1887.10" font-size="60.2">=</text>
<text x="493.71" y="1887.10" font-size="60.2">0.92</text>
<text x="544.97" y="3120.70" font-size="60.21">Simulated log</text>
<text x="883.44" y="3150.98" font-size="48.82">10</text>
<text x="930.14" y="3120.97" font-size="60.21" font-style="italic">S</text>
<text x="959.18" y="3150.98" font-size="48.82">H</text>
<text x="994.05" y="3180.73" font-size="38.87">2</text>
<text x="1014.09" y="3150.98" font-size="48.82">O/(O</text>
<text x="1112.92" y="3180.73" font-size="38.87">2</text>
<text x="1131.82" y="3150.98" font-size="48.82">+N</text>
<text x="1194.74" y="3180.73" font-size="38.87">2</text>
<text x="1215.03" y="3150.98" font-size="48.82">)</text>
<g transform="rotate(-90)">
<text x="-2674.93" y="69.80" font-size="60.21">Predicted log</text>
<text x="-2353.41" y="99.09" font-size="48.82">10</text>
<text x="-2307.24" y="69.80" font-size="60.21" font-style="italic">S</text>
<text x="-2278.20" y="99.09" font-size="48.82">H</text>
<text x="-2242.62" y="128.83" font-size="38.87">2</text>
<text x="-2223.38" y="99.09" font-size="48.82">O/(O</text>
<text x="-2124.82" y="128.83" font-size="38.87">2</text>
<text x="-2105.48" y="99.09" font-size="48.82">+N</text>
<text x="-2042.47" y="128.83" font-size="38.87">2</text>
<text x="-2022.72" y="99.09" font-size="48.82">)</text>
</g>
<text x="808.95" y="1639.00" font-size="86.0" font-weight="bold" fill="#000" style="fill:#000">(b)</text>
<text x="814.68" y="3277.00" font-size="86.0" font-weight="bold" fill="#000" style="fill:#000">(c)</text>
</svg></body></html>
